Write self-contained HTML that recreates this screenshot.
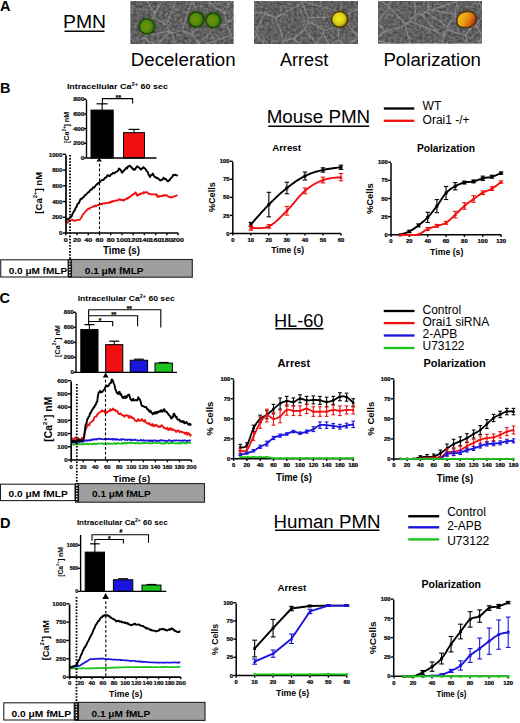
<!DOCTYPE html>
<html><head><meta charset="utf-8"><style>
html,body{margin:0;padding:0;background:#fff;}
svg{display:block;}
text{font-family:"Liberation Sans",sans-serif;}
</style></head><body>
<svg width="520" height="723" viewBox="0 0 520 723">
<defs>
<filter id="noise" x="0" y="0" width="100%" height="100%" color-interpolation-filters="sRGB">
<feTurbulence type="fractalNoise" baseFrequency="0.35" numOctaves="2" seed="3" result="t"/>
<feColorMatrix type="saturate" values="0"/>
<feComponentTransfer><feFuncR type="linear" slope="1.4" intercept="-0.2"/><feFuncG type="linear" slope="1.4" intercept="-0.2"/><feFuncB type="linear" slope="1.4" intercept="-0.2"/><feFuncA type="linear" slope="0" intercept="1"/></feComponentTransfer>
</filter>
<radialGradient id="gG" cx="0.4" cy="0.5" r="0.7"><stop offset="0" stop-color="#74900e"/><stop offset="0.5" stop-color="#588e0c"/><stop offset="0.8" stop-color="#32780a"/><stop offset="1" stop-color="#1c5208"/></radialGradient>
<filter id="soft" x="-30%" y="-30%" width="160%" height="160%"><feGaussianBlur stdDeviation="0.6"/></filter>
<filter id="soft2" x="-50%" y="-50%" width="200%" height="200%"><feGaussianBlur stdDeviation="1.2"/></filter>
<radialGradient id="gY" cx="0.45" cy="0.45" r="0.6"><stop offset="0" stop-color="#f4ee20"/><stop offset="0.7" stop-color="#d6c810"/><stop offset="1" stop-color="#8a7a08"/></radialGradient>
<radialGradient id="gO" cx="0.42" cy="0.5" r="0.65"><stop offset="0" stop-color="#f6c020"/><stop offset="0.55" stop-color="#eca018"/><stop offset="0.85" stop-color="#d86010"/><stop offset="1" stop-color="#b02808"/></radialGradient>
<linearGradient id="gO2" x1="0" y1="0.3" x2="1" y2="0.7"><stop offset="0" stop-color="#e8b818"/><stop offset="0.35" stop-color="#f0a818"/><stop offset="0.7" stop-color="#e07012"/><stop offset="1" stop-color="#b82a0a"/></linearGradient>
</defs>
<rect width="520" height="723" fill="#fff"/>
<text x="0.1" y="10.8" font-size="14.5" font-weight="bold" text-anchor="start" fill="#000" >A</text>
<text x="63" y="28" font-size="18" text-anchor="start" fill="#000" textLength="43" lengthAdjust="spacingAndGlyphs" >PMN</text>
<line x1="64.5" y1="31.2" x2="104.5" y2="31.2" stroke="#000" stroke-width="1.4" />
<rect x="130.5" y="1" width="103" height="43" fill="#505050"/>
<rect x="130.5" y="1" width="103" height="43" filter="url(#noise)" opacity="0.35"/>
<g clip-path="url(#clip130)"><path d="M154.46,12.82L144.78,-2.22M154.46,12.82L162.39,1.24M162.39,1.24L156.43,-1.72M144.78,-2.22L156.43,-1.72M144.71,-2.25L144.78,-2.22M144.71,-2.25L156.63,-15.27M156.63,-15.27L156.43,-1.72M153.53,17.84L142.63,20.8M153.53,17.84L166.5,24.66M166.5,24.66L169.63,31.08M169.63,31.08L145.28,35.46M142.63,20.8L145.28,35.46M154.46,12.82L153.53,17.84M176.41,-1.25L166.5,24.66M176.41,-1.25L162.39,1.24M71.14,-12.35L76.99,-10.5M140.13,40.56L144.63,37.51M144.63,37.51L145.28,35.46M235.02,-3.01L229.46,4.08M229.46,4.08L193.43,-38.8M248.3,11.33L235.02,-3.01M199.13,51.29L199.35,46.34M199.13,51.29L175.15,50.5M182.15,30.54L172.69,32.98M182.15,30.54L192.39,33.97M192.39,33.97L198.74,43.65M175.15,50.5L172.69,32.98M199.35,46.34L198.74,43.65M199.35,46.34L231.72,35.22M202.54,22.31L217.96,25.31M202.54,22.31L191.78,0.11M191.78,0.11L190.71,-12.11M224.68,14.17L190.97,-12.69M224.68,14.17L226.78,22.63M190.71,-12.11L190.97,-12.69M217.96,25.31L226.51,24.21M226.78,22.63L226.51,24.21M192.39,33.97L202.54,22.31M198.74,43.65L217.96,25.31M182.15,30.54L191.78,0.11M176.41,-1.25L190.71,-12.11M169.63,31.08L170.28,31.8M170.28,31.8L172.69,32.98M229.46,4.08L224.68,14.17M193.43,-38.8L190.97,-12.69M248.3,11.33L226.78,22.63M231.72,35.22L226.51,24.21M148.32,41.04L153.33,100.72M148.32,41.04L157.62,44.41M157.62,44.41L157.12,88.5M153.33,100.72L157.12,88.5M144.63,37.51L148.32,41.04M170.28,31.8L157.62,44.41M175.15,50.5L157.12,88.5" fill="none" stroke="#b8b8b8" stroke-opacity="0.42" stroke-width="1.2" stroke-linejoin="round" filter="url(#soft)"/></g>
<clipPath id="clip130"><rect x="130.5" y="1" width="103" height="43"/></clipPath>
<rect x="254" y="1" width="104" height="43" fill="#505050"/>
<rect x="254" y="1" width="104" height="43" filter="url(#noise)" opacity="0.35"/>
<g clip-path="url(#clip254)"><path d="M230.21,11.49L264.59,13.12M338.87,39.79L330.05,45.41M338.87,39.79L346.25,46.13M356.1,99.42L346.25,46.13M319.27,58.21L330.05,45.41M319.27,58.21L317.76,63.64M359.03,37.35L365.63,23.99M359.03,37.35L359.03,37.36M359.03,37.36L365.56,41.67M365.63,23.99L367.9,25.03M367.9,25.03L371.5,39.9M371.5,39.9L365.56,41.67M356.1,99.42L365.56,41.67M346.25,46.13L359.03,37.36M357.37,9.3L365.63,23.99M317.76,63.64L293.99,38.53M274.64,54.84L284.16,40.25M293.99,38.53L284.16,40.25M340.85,11.99L303.17,1.48M264.59,13.12L264.92,13.59M264.92,13.59L275.66,17.6M302.75,3.04L275.66,17.6M302.75,3.04L303.17,1.48M357.37,9.3L343.53,15.39M343.53,15.39L340.85,11.99M338.87,39.79L338.26,26.79M359.03,37.35L342.68,18.96M338.26,26.79L342.68,18.96M343.53,15.39L343.06,16.45M342.68,18.96L343.06,16.45M302.75,3.04L308.17,17.94M343.06,16.45L308.17,17.94M256.74,34.51L255.23,31.71M256.74,34.51L248.64,48.32M254.78,31.77L255.23,31.71M264.92,13.59L255.23,31.71M269.56,50.9L256.74,34.51M269.56,50.9L274.64,54.84M275.66,17.6L284.16,40.25M269.56,50.9L248.64,48.32M230.21,11.49L254.78,31.77M323.24,33.61L316.32,42.99M323.24,33.61L323.92,30.26M323.92,30.26L308.34,21.3M316.32,42.99L304.78,29.41M304.78,29.41L308.34,21.3M319.27,58.21L316.32,42.99M330.05,45.41L323.24,33.61M338.26,26.79L323.92,30.26M308.17,17.94L308.34,21.3M293.99,38.53L304.78,29.41" fill="none" stroke="#b8b8b8" stroke-opacity="0.42" stroke-width="1.2" stroke-linejoin="round" filter="url(#soft)"/></g>
<clipPath id="clip254"><rect x="254" y="1" width="104" height="43"/></clipPath>
<rect x="378" y="1" width="104" height="42.5" fill="#505050"/>
<rect x="378" y="1" width="104" height="42.5" filter="url(#noise)" opacity="0.35"/>
<g clip-path="url(#clip378)"><path d="M475.02,48.69L482.27,36.09M475.02,48.69L467.41,46.99M422.15,83.12L438.5,58.98M467.41,46.99L438.5,58.98M482.27,36.09L475.87,25.17M475.87,25.17L484.03,14.61M375.89,0.97L370.88,20.3M410.81,46.92L405.45,25.36M410.81,46.92L375.1,40.44M405.45,25.36L384.45,31.38M375.1,40.44L384.45,31.38M422.15,83.12L410.81,46.92M405.77,23.97L405.45,25.36M405.77,23.97L389.9,7.72M376.48,21.5L389.9,7.72M376.48,21.5L384.45,31.38M370.88,20.3L376.48,21.5M395.43,-50.11L399.99,-8.76M395.43,-50.11L380.19,1.08M399.99,-8.76L388.59,5.44M380.19,1.08L388.59,5.44M375.89,0.97L380.19,1.08M389.9,7.72L388.59,5.44M426.33,-19.98L428.67,10.19M469.18,-60.18L475.28,-114.98M429.07,9.9L428.67,10.19M414.42,-1.64L426.33,-19.98M414.42,-1.64L399.99,-8.76M468.03,-30.38L484.03,14.61M468.03,-30.38L469.18,-60.18M467.41,46.99L465.83,35.51M475.87,25.17L472.59,25.55M465.83,35.51L472.59,25.55M456.88,1.78L455.02,14.41M456.88,1.78L430.14,9.74M430.14,9.74L455.02,14.41M468.03,-30.38L456.88,1.78M472.59,25.55L454.93,16.16M454.93,16.16L455.02,14.41M429.07,9.9L430.14,9.74M465.83,35.51L446.64,30.06M454.93,16.16L447.26,26.41M447.26,26.41L446.64,30.06M428.67,10.19L426.56,12.29M447.26,26.41L426.56,12.29M438.5,58.98L443.65,35.88M443.65,35.88L446.64,30.06M415.63,14.48L421.28,13.58M415.63,14.48L409.55,20.93M421.28,13.58L436.8,31.9M409.55,20.93L436.8,31.9M414.42,-1.64L415.63,14.48M426.56,12.29L421.28,13.58M405.77,23.97L409.55,20.93M443.65,35.88L436.8,31.9" fill="none" stroke="#b8b8b8" stroke-opacity="0.42" stroke-width="1.2" stroke-linejoin="round" filter="url(#soft)"/></g>
<clipPath id="clip378"><rect x="378" y="1" width="104" height="42.5"/></clipPath>
<circle cx="147" cy="26.4" r="9.2" fill="#1a4206" opacity="0.5" filter="url(#soft2)"/>
<g filter="url(#soft)"><circle cx="147" cy="26.4" r="8.1" fill="#1a4206" opacity="0.9"/>
<circle cx="147" cy="26.4" r="6.8" fill="url(#gG)"/></g>
<circle cx="196.3" cy="19.5" r="9.2" fill="#1a4206" opacity="0.5" filter="url(#soft2)"/>
<g filter="url(#soft)"><circle cx="196.3" cy="19.5" r="8.1" fill="#1a4206" opacity="0.9"/>
<circle cx="196.3" cy="19.5" r="6.8" fill="url(#gG)"/></g>
<circle cx="213.4" cy="20.3" r="9.0" fill="#1a4206" opacity="0.5" filter="url(#soft2)"/>
<g filter="url(#soft)"><circle cx="213.4" cy="20.3" r="7.8999999999999995" fill="#1a4206" opacity="0.9"/>
<circle cx="213.4" cy="20.3" r="6.6" fill="url(#gG)"/></g>
<circle cx="339.6" cy="19.4" r="9.6" fill="#4a3a10" opacity="0.5" filter="url(#soft2)"/>
<g filter="url(#soft)"><circle cx="339.6" cy="19.4" r="8.5" fill="#4a3a10" opacity="0.9"/>
<circle cx="339.6" cy="19.4" r="7.2" fill="url(#gY)"/></g>
<g filter="url(#soft)"><path d="M456,22.5 C455,14.5 461.5,10 468,10.5 C475,11 478,15 477,20.5 C476,26 470.5,29 464,28.5 C458.5,28 456.5,26 456,22.5 Z" fill="#4a2a10" opacity="0.85"/>
<path d="M457.6,22.2 C456.8,15.5 462,12 467.8,12.3 C473.5,12.6 476,15.5 475.2,20.3 C474.4,25 469.8,27.2 464.3,26.8 C459.8,26.4 458,24.8 457.6,22.2 Z" fill="url(#gO2)"/></g>
<text x="130.8" y="65.6" font-size="18" text-anchor="start" fill="#000" textLength="104.8" lengthAdjust="spacingAndGlyphs" >Deceleration</text>
<text x="279.9" y="65.6" font-size="18" text-anchor="start" fill="#000" textLength="48.4" lengthAdjust="spacingAndGlyphs" >Arrest</text>
<text x="383.4" y="65.6" font-size="18" text-anchor="start" fill="#000" textLength="97.6" lengthAdjust="spacingAndGlyphs" >Polarization</text>
<text x="0" y="92.6" font-size="14.5" font-weight="bold" text-anchor="start" fill="#000" >B</text>
<text x="66.9" y="89.3" font-size="7.3" font-weight="bold" textLength="101.1" lengthAdjust="spacingAndGlyphs">Intracellular Ca<tspan font-size="4.75" dy="-3.29">2+</tspan><tspan dy="3.29"> 60 sec</tspan></text>
<line x1="102.1" y1="110.08" x2="102.1" y2="103.8" stroke="#000" stroke-width="1.1" />
<line x1="96.6" y1="103.8" x2="107.6" y2="103.8" stroke="#000" stroke-width="1.2" />
<rect x="91" y="110.08" width="22.2" height="47.92" fill="#000" stroke="#000" stroke-width="1"/>
<line x1="134" y1="132.68" x2="134" y2="129.4" stroke="#000" stroke-width="1.1" />
<line x1="128.5" y1="129.4" x2="139.5" y2="129.4" stroke="#000" stroke-width="1.2" />
<rect x="123.5" y="132.68" width="21" height="25.32" fill="#f01010" stroke="#000" stroke-width="1"/>
<line x1="86.5" y1="100" x2="86.5" y2="158" stroke="#000" stroke-width="1.4" />
<line x1="84.1" y1="158" x2="86.5" y2="158" stroke="#000" stroke-width="1.4" />
<text x="84.5" y="160.02" font-size="5.6" font-weight="bold" text-anchor="end" fill="#111" textLength="3.75" lengthAdjust="spacingAndGlyphs"  stroke="#000" stroke-width="0.22">0</text>
<line x1="84.1" y1="143.32" x2="86.5" y2="143.32" stroke="#000" stroke-width="1.4" />
<text x="84.5" y="145.34" font-size="5.6" font-weight="bold" text-anchor="end" fill="#111" textLength="11.25" lengthAdjust="spacingAndGlyphs"  stroke="#000" stroke-width="0.22">200</text>
<line x1="84.1" y1="128.65" x2="86.5" y2="128.65" stroke="#000" stroke-width="1.4" />
<text x="84.5" y="130.66" font-size="5.6" font-weight="bold" text-anchor="end" fill="#111" textLength="11.25" lengthAdjust="spacingAndGlyphs"  stroke="#000" stroke-width="0.22">400</text>
<line x1="84.1" y1="113.97" x2="86.5" y2="113.97" stroke="#000" stroke-width="1.4" />
<text x="84.5" y="115.99" font-size="5.6" font-weight="bold" text-anchor="end" fill="#111" textLength="11.25" lengthAdjust="spacingAndGlyphs"  stroke="#000" stroke-width="0.22">600</text>
<line x1="84.1" y1="99.3" x2="86.5" y2="99.3" stroke="#000" stroke-width="1.4" />
<text x="84.5" y="101.31" font-size="5.6" font-weight="bold" text-anchor="end" fill="#111" textLength="11.25" lengthAdjust="spacingAndGlyphs"  stroke="#000" stroke-width="0.22">800</text>
<line x1="86.5" y1="158" x2="156.5" y2="158" stroke="#000" stroke-width="1.4" />
<polyline points="102.4,104.5 102.4,98.65 132.6,98.65 132.6,103.4" fill="none" stroke="#000" stroke-width="1.1"/>
<text x="118.4" y="99.6" font-size="6.5" font-weight="bold" text-anchor="middle" fill="#000"  stroke="#000" stroke-width="0.22">**</text>
<g transform="translate(66.6,127.45) rotate(-90)">
<text x="0" y="2.63" font-size="7.3" font-weight="bold" text-anchor="middle" textLength="31.3" lengthAdjust="spacingAndGlyphs">[Ca<tspan font-size="4.53" dy="-3.65">2+</tspan><tspan dy="3.65">] nM</tspan></text>
</g>
<path d="M99.2,158 L102.1,161.5 L96.3,161.5 Z" fill="#000"/>
<polyline points="65.8,220.14 66.47,218.98 67.15,218.95 67.82,219.51 68.5,219.02 69.17,218.5 69.84,217.53 70.52,216.66 71.19,216.96 71.86,215.96 72.54,213.51 73.21,212.78 73.89,211.02 74.56,210.82 75.23,208.98 75.91,207.38 76.58,206.86 77.25,204.64 77.93,203.49 78.6,203.51 79.28,202.31 79.95,200.37 80.62,198.95 81.3,199.07 81.97,198.62 82.64,197.66 83.32,197.54 83.99,196.59 84.67,195.61 85.34,194.85 86.01,194.55 86.69,193.87 87.36,193.26 88.04,192.35 88.71,192.02 89.38,191.84 90.06,190.11 90.73,189.94 91.4,189.25 92.08,189.33 92.75,187.62 93.43,187.24 94.1,187.71 94.77,186.81 95.45,185.65 96.12,185.06 96.79,184.14 97.47,184.26 98.14,183.08 98.82,182.7 99.49,182.61 100.16,181.67 100.84,180.76 101.51,180.31 102.19,180.3 102.86,179.69 103.53,179.98 104.21,179.19 104.88,177.8 105.55,177.72 106.23,177.43 106.9,176.18 107.58,175.25 108.25,175.2 108.92,175.99 109.6,176.27 110.27,175.52 110.94,174.5 111.62,174.22 112.29,173.76 112.97,172.98 113.64,172.99 114.31,173.34 114.99,172.78 115.66,172.04 116.34,171.89 117.01,171.47 117.68,171.08 118.36,169.91 119.03,168.53 119.7,168.78 120.38,169.95 121.05,170.5 121.73,172.41 122.4,172.7 123.07,171.15 123.75,170.76 124.42,170 125.09,169.34 125.77,168.45 126.44,167.45 127.12,168.38 127.79,166.87 128.46,166.4 129.14,165.89 129.81,165.69 130.48,166.18 131.16,167.17 131.83,167.7 132.51,168.48 133.18,169.59 133.85,169.03 134.53,169.78 135.2,169.36 135.88,167.99 136.55,167.07 137.22,166.31 137.9,166.84 138.57,167.23 139.24,167.76 139.92,168.43 140.59,169.31 141.27,169.58 141.94,168.62 142.61,168.03 143.29,167.23 143.96,167.51 144.63,168.27 145.31,168.94 145.98,169.58 146.66,171.12 147.33,171.4 148,172.75 148.68,174.7 149.35,175.91 150.02,177.02 150.7,175.31 151.37,175.36 152.05,174.89 152.72,173.49 153.39,174.6 154.07,176.16 154.74,176.95 155.42,176.84 156.09,177.76 156.76,178.02 157.44,177.81 158.11,178.58 158.78,179.18 159.46,179.42 160.13,180.59 160.81,180.43 161.48,179.88 162.15,179.71 162.83,179.33 163.5,177.71 164.17,178.3 164.85,179.14 165.52,178.99 166.2,179.11 166.87,180.65 167.54,181.07 168.22,181.31 168.89,180.23 169.57,180.27 170.24,178.75 170.91,178.04 171.59,177.48 172.26,177.19 172.93,175.37 173.61,174.87 174.28,174.6 174.96,175.22 175.63,174.82 176.3,175.39 176.98,175.34 177.65,175.9" fill="none" stroke="#000" stroke-width="1.9" stroke-linejoin="round" />
<polyline points="65.8,222.51 66.47,222.15 67.15,222.9 67.82,222.49 68.5,221.18 69.17,220.93 69.84,220.64 70.52,220.73 71.19,219.98 71.86,219.61 72.54,219.7 73.21,220.52 73.89,220.45 74.56,220.78 75.23,220.64 75.91,220.24 76.58,220 77.25,220.22 77.93,220.05 78.6,219.97 79.28,219.97 79.95,219.69 80.62,218.36 81.3,217.54 81.97,216.45 82.64,214.8 83.32,214.25 83.99,213.2 84.67,212.6 85.34,211.85 86.01,210.58 86.69,210.47 87.36,209.66 88.04,208.7 88.71,208.77 89.38,209.04 90.06,207.8 90.73,207.58 91.4,207.32 92.08,206.76 92.75,206.6 93.43,206.32 94.1,206.65 94.77,205.64 95.45,205.44 96.12,206.22 96.79,205.25 97.47,205.08 98.14,205.18 98.82,204.87 99.49,204.69 100.16,203.97 100.84,204.35 101.51,203.79 102.19,204.24 102.86,203.43 103.53,203.26 104.21,203.66 104.88,203.38 105.55,202.79 106.23,202.89 106.9,203.04 107.58,203.22 108.25,202.95 108.92,202.33 109.6,202.85 110.27,201.76 110.94,202.37 111.62,201.36 112.29,201.91 112.97,200.9 113.64,201.02 114.31,201.07 114.99,200.85 115.66,200.49 116.34,200.37 117.01,200.51 117.68,200.45 118.36,199.86 119.03,199.13 119.7,199.32 120.38,200.11 121.05,199.49 121.73,199.92 122.4,200.01 123.07,200.71 123.75,199.7 124.42,200.26 125.09,199.2 125.77,199.37 126.44,199.12 127.12,197.99 127.79,198.65 128.46,197.82 129.14,196.95 129.81,197.19 130.48,196.71 131.16,195.34 131.83,195.39 132.51,194.49 133.18,194.83 133.85,193.89 134.53,193.6 135.2,192.45 135.88,192.66 136.55,194.81 137.22,195.7 137.9,194.54 138.57,195.15 139.24,194.58 139.92,193.6 140.59,194.15 141.27,193.88 141.94,193.02 142.61,193.18 143.29,193.39 143.96,191.97 144.63,192.8 145.31,192.73 145.98,192.11 146.66,192.12 147.33,192.3 148,193.43 148.68,193.49 149.35,194.22 150.02,194.04 150.7,193.98 151.37,194.36 152.05,194.28 152.72,194.39 153.39,194.17 154.07,194.29 154.74,194.5 155.42,194.73 156.09,194.1 156.76,194.45 157.44,196.97 158.11,196.46 158.78,195.85 159.46,196.71 160.13,196.06 160.81,196.22 161.48,195.99 162.15,196.31 162.83,195.13 163.5,195.86 164.17,195.27 164.85,195.35 165.52,195.7 166.2,194.87 166.87,195.39 167.54,195.95 168.22,196.42 168.89,196.71 169.57,197.24 170.24,197.01 170.91,197.61 171.59,197.46 172.26,197.38 172.93,196.58 173.61,196.82 174.28,196.39 174.96,196.47 175.63,195.87 176.3,195.67 176.98,195.28 177.65,195.23" fill="none" stroke="#f01010" stroke-width="1.8" stroke-linejoin="round" />
<line x1="66" y1="155.15" x2="66" y2="233" stroke="#000" stroke-width="1.7" />
<line x1="62.8" y1="233" x2="66" y2="233" stroke="#000" stroke-width="1.4" />
<text x="62.5" y="235.23" font-size="6.2" font-weight="bold" text-anchor="end" fill="#111"  stroke="#000" stroke-width="0.22">0</text>
<line x1="62.8" y1="217.26" x2="66" y2="217.26" stroke="#000" stroke-width="1.4" />
<text x="62.5" y="219.49" font-size="6.2" font-weight="bold" text-anchor="end" fill="#111"  stroke="#000" stroke-width="0.22">200</text>
<line x1="62.8" y1="201.52" x2="66" y2="201.52" stroke="#000" stroke-width="1.4" />
<text x="62.5" y="203.75" font-size="6.2" font-weight="bold" text-anchor="end" fill="#111"  stroke="#000" stroke-width="0.22">400</text>
<line x1="62.8" y1="185.78" x2="66" y2="185.78" stroke="#000" stroke-width="1.4" />
<text x="62.5" y="188.01" font-size="6.2" font-weight="bold" text-anchor="end" fill="#111"  stroke="#000" stroke-width="0.22">600</text>
<line x1="62.8" y1="170.04" x2="66" y2="170.04" stroke="#000" stroke-width="1.4" />
<text x="62.5" y="172.27" font-size="6.2" font-weight="bold" text-anchor="end" fill="#111"  stroke="#000" stroke-width="0.22">800</text>
<line x1="62.8" y1="154.3" x2="66" y2="154.3" stroke="#000" stroke-width="1.4" />
<text x="62.5" y="156.53" font-size="6.2" font-weight="bold" text-anchor="end" fill="#111"  stroke="#000" stroke-width="0.22">1000</text>
<line x1="66" y1="233" x2="178.2" y2="233" stroke="#000" stroke-width="1.7" />
<line x1="65.8" y1="233" x2="65.8" y2="235.2" stroke="#000" stroke-width="1.4" />
<text x="65.8" y="241.5" font-size="6" font-weight="bold" text-anchor="middle" fill="#111" textLength="4" lengthAdjust="spacingAndGlyphs"  stroke="#000" stroke-width="0.22">0</text>
<line x1="77.03" y1="233" x2="77.03" y2="235.2" stroke="#000" stroke-width="1.4" />
<text x="77.03" y="241.5" font-size="6" font-weight="bold" text-anchor="middle" fill="#111" textLength="8" lengthAdjust="spacingAndGlyphs"  stroke="#000" stroke-width="0.22">20</text>
<line x1="88.26" y1="233" x2="88.26" y2="235.2" stroke="#000" stroke-width="1.4" />
<text x="88.26" y="241.5" font-size="6" font-weight="bold" text-anchor="middle" fill="#111" textLength="8" lengthAdjust="spacingAndGlyphs"  stroke="#000" stroke-width="0.22">40</text>
<line x1="99.49" y1="233" x2="99.49" y2="235.2" stroke="#000" stroke-width="1.4" />
<text x="99.49" y="241.5" font-size="6" font-weight="bold" text-anchor="middle" fill="#111" textLength="8" lengthAdjust="spacingAndGlyphs"  stroke="#000" stroke-width="0.22">60</text>
<line x1="110.72" y1="233" x2="110.72" y2="235.2" stroke="#000" stroke-width="1.4" />
<text x="110.72" y="241.5" font-size="6" font-weight="bold" text-anchor="middle" fill="#111" textLength="8" lengthAdjust="spacingAndGlyphs"  stroke="#000" stroke-width="0.22">80</text>
<line x1="121.95" y1="233" x2="121.95" y2="235.2" stroke="#000" stroke-width="1.4" />
<text x="121.95" y="241.5" font-size="6" font-weight="bold" text-anchor="middle" fill="#111" textLength="12" lengthAdjust="spacingAndGlyphs"  stroke="#000" stroke-width="0.22">100</text>
<line x1="133.18" y1="233" x2="133.18" y2="235.2" stroke="#000" stroke-width="1.4" />
<text x="133.18" y="241.5" font-size="6" font-weight="bold" text-anchor="middle" fill="#111" textLength="12" lengthAdjust="spacingAndGlyphs"  stroke="#000" stroke-width="0.22">120</text>
<line x1="144.41" y1="233" x2="144.41" y2="235.2" stroke="#000" stroke-width="1.4" />
<text x="144.41" y="241.5" font-size="6" font-weight="bold" text-anchor="middle" fill="#111" textLength="12" lengthAdjust="spacingAndGlyphs"  stroke="#000" stroke-width="0.22">140</text>
<line x1="155.64" y1="233" x2="155.64" y2="235.2" stroke="#000" stroke-width="1.4" />
<text x="155.64" y="241.5" font-size="6" font-weight="bold" text-anchor="middle" fill="#111" textLength="12" lengthAdjust="spacingAndGlyphs"  stroke="#000" stroke-width="0.22">160</text>
<line x1="166.87" y1="233" x2="166.87" y2="235.2" stroke="#000" stroke-width="1.4" />
<text x="166.87" y="241.5" font-size="6" font-weight="bold" text-anchor="middle" fill="#111" textLength="12" lengthAdjust="spacingAndGlyphs"  stroke="#000" stroke-width="0.22">180</text>
<line x1="178.1" y1="233" x2="178.1" y2="235.2" stroke="#000" stroke-width="1.4" />
<text x="178.1" y="241.5" font-size="6" font-weight="bold" text-anchor="middle" fill="#111" textLength="12" lengthAdjust="spacingAndGlyphs"  stroke="#000" stroke-width="0.22">200</text>
<line x1="99.5" y1="163.8" x2="99.5" y2="233" stroke="#000" stroke-width="1.1" stroke-dasharray="2.8 2"/>
<text x="103" y="254" font-size="10" font-weight="bold" text-anchor="start" fill="#000" textLength="37" lengthAdjust="spacingAndGlyphs" >Time (s)</text>
<g transform="translate(38.8,192.75) rotate(-90)">
<text x="0" y="3.53" font-size="9.8" font-weight="bold" text-anchor="middle" textLength="41.9" lengthAdjust="spacingAndGlyphs">[Ca<tspan font-size="6.08" dy="-4.9">2+</tspan><tspan dy="4.9">] nM</tspan></text>
</g>
<line x1="70" y1="155" x2="70" y2="259" stroke="#000" stroke-width="1.8" stroke-dasharray="1.6 1.5"/>
<rect x="0.7" y="259.8" width="67.4" height="17.2" fill="#fff" stroke="#222" stroke-width="1.1"/>
<rect x="71.5" y="259.5" width="120.8" height="17.7" fill="#9f9f9f" stroke="#222" stroke-width="1.1"/>
<rect x="68.1" y="259" width="3.4" height="18.7" fill="#111"/>
<line x1="69.8" y1="260.5" x2="69.8" y2="276.7" stroke="#fff" stroke-width="1.5" stroke-dasharray="1.3 1.5"/>
<text x="8.7" y="273.6" font-size="9.3" font-weight="bold" text-anchor="start" fill="#000" textLength="58.4" lengthAdjust="spacingAndGlyphs" >0.0 &#956;M fMLP</text>
<text x="84.8" y="273.6" font-size="9.3" font-weight="bold" text-anchor="start" fill="#000" textLength="58.7" lengthAdjust="spacingAndGlyphs" >0.1 &#956;M fMLP</text>
<text x="266.7" y="122.5" font-size="18" text-anchor="start" fill="#000" textLength="103.5" lengthAdjust="spacingAndGlyphs" >Mouse PMN</text>
<line x1="268.25" y1="126.2" x2="369.25" y2="126.2" stroke="#000" stroke-width="1.4" />
<line x1="383.8" y1="108.5" x2="414.3" y2="108.5" stroke="#000" stroke-width="2.3" />
<line x1="383.8" y1="120.8" x2="414.3" y2="120.8" stroke="#f01010" stroke-width="2.3" />
<text x="422.6" y="110.2" font-size="12" text-anchor="start" fill="#000" >WT</text>
<text x="422.6" y="124" font-size="12" text-anchor="start" fill="#000" textLength="47" lengthAdjust="spacingAndGlyphs" >Orai1 -/+</text>
<text x="272.3" y="151" font-size="9.8" font-weight="bold" text-anchor="start" fill="#000" textLength="28.7" lengthAdjust="spacingAndGlyphs" >Arrest</text>
<line x1="232.8" y1="162.05" x2="232.8" y2="233.4" stroke="#000" stroke-width="1.5" />
<line x1="229.9" y1="233.4" x2="232.8" y2="233.4" stroke="#000" stroke-width="1.4" />
<text x="229.6" y="235.52" font-size="5.9" font-weight="bold" text-anchor="end" fill="#000"  stroke="#000" stroke-width="0.22">0</text>
<line x1="229.9" y1="215.38" x2="232.8" y2="215.38" stroke="#000" stroke-width="1.4" />
<text x="229.6" y="217.5" font-size="5.9" font-weight="bold" text-anchor="end" fill="#000"  stroke="#000" stroke-width="0.22">25</text>
<line x1="229.9" y1="197.35" x2="232.8" y2="197.35" stroke="#000" stroke-width="1.4" />
<text x="229.6" y="199.47" font-size="5.9" font-weight="bold" text-anchor="end" fill="#000"  stroke="#000" stroke-width="0.22">50</text>
<line x1="229.9" y1="179.33" x2="232.8" y2="179.33" stroke="#000" stroke-width="1.4" />
<text x="229.6" y="181.45" font-size="5.9" font-weight="bold" text-anchor="end" fill="#000"  stroke="#000" stroke-width="0.22">75</text>
<line x1="229.9" y1="161.3" x2="232.8" y2="161.3" stroke="#000" stroke-width="1.4" />
<text x="229.6" y="163.42" font-size="5.9" font-weight="bold" text-anchor="end" fill="#000"  stroke="#000" stroke-width="0.22">100</text>
<line x1="232.8" y1="233.4" x2="341" y2="233.4" stroke="#000" stroke-width="1.5" />
<line x1="232.8" y1="233.4" x2="232.8" y2="235.6" stroke="#000" stroke-width="1.4" />
<text x="232.8" y="241.6" font-size="5.9" font-weight="bold" text-anchor="middle" fill="#000"  stroke="#000" stroke-width="0.22">0</text>
<line x1="250.83" y1="233.4" x2="250.83" y2="235.6" stroke="#000" stroke-width="1.4" />
<text x="250.83" y="241.6" font-size="5.9" font-weight="bold" text-anchor="middle" fill="#000"  stroke="#000" stroke-width="0.22">10</text>
<line x1="268.86" y1="233.4" x2="268.86" y2="235.6" stroke="#000" stroke-width="1.4" />
<text x="268.86" y="241.6" font-size="5.9" font-weight="bold" text-anchor="middle" fill="#000"  stroke="#000" stroke-width="0.22">20</text>
<line x1="286.89" y1="233.4" x2="286.89" y2="235.6" stroke="#000" stroke-width="1.4" />
<text x="286.89" y="241.6" font-size="5.9" font-weight="bold" text-anchor="middle" fill="#000"  stroke="#000" stroke-width="0.22">30</text>
<line x1="304.92" y1="233.4" x2="304.92" y2="235.6" stroke="#000" stroke-width="1.4" />
<text x="304.92" y="241.6" font-size="5.9" font-weight="bold" text-anchor="middle" fill="#000"  stroke="#000" stroke-width="0.22">40</text>
<line x1="322.95" y1="233.4" x2="322.95" y2="235.6" stroke="#000" stroke-width="1.4" />
<text x="322.95" y="241.6" font-size="5.9" font-weight="bold" text-anchor="middle" fill="#000"  stroke="#000" stroke-width="0.22">50</text>
<line x1="340.98" y1="233.4" x2="340.98" y2="235.6" stroke="#000" stroke-width="1.4" />
<text x="340.98" y="241.6" font-size="5.9" font-weight="bold" text-anchor="middle" fill="#000"  stroke="#000" stroke-width="0.22">60</text>
<polyline points="250.83,224.53 251.7,223.56 252.79,222.32 254.07,220.86 255.5,219.23 257.06,217.45 258.72,215.58 260.43,213.65 262.18,211.71 263.93,209.78 265.65,207.92 267.3,206.17 268.86,204.56 270.36,203.04 271.87,201.55 273.37,200.07 274.87,198.61 276.37,197.18 277.88,195.77 279.38,194.39 280.88,193.04 282.38,191.72 283.88,190.43 285.39,189.19 286.89,187.98 288.39,186.8 289.89,185.65 291.4,184.52 292.9,183.43 294.4,182.36 295.91,181.33 297.41,180.34 298.91,179.39 300.41,178.48 301.92,177.61 303.42,176.78 304.92,176.01 306.42,175.29 307.93,174.62 309.43,174 310.93,173.43 312.43,172.89 313.93,172.4 315.44,171.94 316.94,171.5 318.44,171.09 319.94,170.7 321.45,170.32 322.95,169.95 324.51,169.6 326.16,169.28 327.88,168.98 329.63,168.71 331.38,168.47 333.09,168.24 334.75,168.04 336.31,167.85 337.74,167.68 339.02,167.54 340.11,167.4 340.98,167.28" fill="none" stroke="#000" stroke-width="1.9" stroke-linejoin="round" />
<line x1="250.83" y1="226.69" x2="250.83" y2="222.37" stroke="#000" stroke-width="1.1" />
<line x1="248.63" y1="226.69" x2="253.03" y2="226.69" stroke="#000" stroke-width="1.1" />
<line x1="248.63" y1="222.37" x2="253.03" y2="222.37" stroke="#000" stroke-width="1.1" />
<rect x="249.33" y="223.03" width="3" height="3" fill="#000"/>
<line x1="268.86" y1="216.82" x2="268.86" y2="192.3" stroke="#000" stroke-width="1.1" />
<line x1="266.66" y1="216.82" x2="271.06" y2="216.82" stroke="#000" stroke-width="1.1" />
<line x1="266.66" y1="192.3" x2="271.06" y2="192.3" stroke="#000" stroke-width="1.1" />
<rect x="267.36" y="203.06" width="3" height="3" fill="#000"/>
<line x1="286.89" y1="193.75" x2="286.89" y2="182.21" stroke="#000" stroke-width="1.1" />
<line x1="284.69" y1="193.75" x2="289.09" y2="193.75" stroke="#000" stroke-width="1.1" />
<line x1="284.69" y1="182.21" x2="289.09" y2="182.21" stroke="#000" stroke-width="1.1" />
<rect x="285.39" y="186.48" width="3" height="3" fill="#000"/>
<line x1="304.92" y1="179.97" x2="304.92" y2="172.04" stroke="#000" stroke-width="1.1" />
<line x1="302.72" y1="179.97" x2="307.12" y2="179.97" stroke="#000" stroke-width="1.1" />
<line x1="302.72" y1="172.04" x2="307.12" y2="172.04" stroke="#000" stroke-width="1.1" />
<rect x="303.42" y="174.51" width="3" height="3" fill="#000"/>
<line x1="322.95" y1="172.12" x2="322.95" y2="167.79" stroke="#000" stroke-width="1.1" />
<line x1="320.75" y1="172.12" x2="325.15" y2="172.12" stroke="#000" stroke-width="1.1" />
<line x1="320.75" y1="167.79" x2="325.15" y2="167.79" stroke="#000" stroke-width="1.1" />
<rect x="321.45" y="168.45" width="3" height="3" fill="#000"/>
<line x1="340.98" y1="169.45" x2="340.98" y2="165.12" stroke="#000" stroke-width="1.1" />
<line x1="338.78" y1="169.45" x2="343.18" y2="169.45" stroke="#000" stroke-width="1.1" />
<line x1="338.78" y1="165.12" x2="343.18" y2="165.12" stroke="#000" stroke-width="1.1" />
<rect x="339.48" y="165.78" width="3" height="3" fill="#000"/>
<polyline points="250.83,227.99 251.7,227.96 252.79,227.98 254.07,228.04 255.5,228.1 257.06,228.16 258.72,228.18 260.43,228.14 262.18,228.04 263.93,227.83 265.65,227.5 267.3,227.04 268.86,226.41 270.36,225.61 271.87,224.66 273.37,223.58 274.87,222.39 276.37,221.1 277.88,219.73 279.38,218.29 280.88,216.81 282.38,215.3 283.88,213.78 285.39,212.26 286.89,210.76 288.39,209.22 289.89,207.59 291.4,205.87 292.9,204.11 294.4,202.31 295.91,200.51 297.41,198.72 298.91,196.98 300.41,195.3 301.92,193.7 303.42,192.21 304.92,190.86 306.42,189.62 307.93,188.44 309.43,187.33 310.93,186.29 312.43,185.31 313.93,184.39 315.44,183.53 316.94,182.73 318.44,181.98 319.94,181.28 321.45,180.64 322.95,180.05 324.51,179.52 326.16,179.07 327.88,178.7 329.63,178.39 331.38,178.14 333.09,177.93 334.75,177.76 336.31,177.62 337.74,177.49 339.02,177.38 340.11,177.28 340.98,177.16" fill="none" stroke="#f01010" stroke-width="1.9" stroke-linejoin="round" />
<line x1="250.83" y1="230.16" x2="250.83" y2="225.83" stroke="#f01010" stroke-width="1.1" />
<line x1="248.63" y1="230.16" x2="253.03" y2="230.16" stroke="#f01010" stroke-width="1.1" />
<line x1="248.63" y1="225.83" x2="253.03" y2="225.83" stroke="#f01010" stroke-width="1.1" />
<path d="M250.83,226.19 L252.63,229.49 L249.03,229.49 Z" fill="#f01010"/>
<line x1="268.86" y1="228.21" x2="268.86" y2="224.6" stroke="#f01010" stroke-width="1.1" />
<line x1="266.66" y1="228.21" x2="271.06" y2="228.21" stroke="#f01010" stroke-width="1.1" />
<line x1="266.66" y1="224.6" x2="271.06" y2="224.6" stroke="#f01010" stroke-width="1.1" />
<path d="M268.86,224.61 L270.66,227.91 L267.06,227.91 Z" fill="#f01010"/>
<line x1="286.89" y1="215.09" x2="286.89" y2="206.43" stroke="#f01010" stroke-width="1.1" />
<line x1="284.69" y1="215.09" x2="289.09" y2="215.09" stroke="#f01010" stroke-width="1.1" />
<line x1="284.69" y1="206.43" x2="289.09" y2="206.43" stroke="#f01010" stroke-width="1.1" />
<path d="M286.89,208.96 L288.69,212.26 L285.09,212.26 Z" fill="#f01010"/>
<line x1="304.92" y1="193.75" x2="304.92" y2="187.98" stroke="#f01010" stroke-width="1.1" />
<line x1="302.72" y1="193.75" x2="307.12" y2="193.75" stroke="#f01010" stroke-width="1.1" />
<line x1="302.72" y1="187.98" x2="307.12" y2="187.98" stroke="#f01010" stroke-width="1.1" />
<path d="M304.92,189.06 L306.72,192.36 L303.12,192.36 Z" fill="#f01010"/>
<line x1="322.95" y1="182.93" x2="322.95" y2="177.16" stroke="#f01010" stroke-width="1.1" />
<line x1="320.75" y1="182.93" x2="325.15" y2="182.93" stroke="#f01010" stroke-width="1.1" />
<line x1="320.75" y1="177.16" x2="325.15" y2="177.16" stroke="#f01010" stroke-width="1.1" />
<path d="M322.95,178.25 L324.75,181.55 L321.15,181.55 Z" fill="#f01010"/>
<line x1="340.98" y1="180.77" x2="340.98" y2="173.56" stroke="#f01010" stroke-width="1.1" />
<line x1="338.78" y1="180.77" x2="343.18" y2="180.77" stroke="#f01010" stroke-width="1.1" />
<line x1="338.78" y1="173.56" x2="343.18" y2="173.56" stroke="#f01010" stroke-width="1.1" />
<path d="M340.98,175.36 L342.78,178.66 L339.18,178.66 Z" fill="#f01010"/>
<g transform="translate(211.65,197.15) rotate(-90)">
<text x="0" y="3.24" font-size="9" font-weight="bold" text-anchor="middle" textLength="29.7" lengthAdjust="spacingAndGlyphs">%Cells</text>
</g>
<text x="271.2" y="253" font-size="9" font-weight="bold" text-anchor="start" fill="#000" textLength="33" lengthAdjust="spacingAndGlyphs" >Time (s)</text>
<text x="416.9" y="151.5" font-size="10" font-weight="bold" text-anchor="start" fill="#000" textLength="58" lengthAdjust="spacingAndGlyphs" >Polarization</text>
<line x1="391" y1="162.95" x2="391" y2="234.8" stroke="#000" stroke-width="1.5" />
<line x1="388.1" y1="234.8" x2="391" y2="234.8" stroke="#000" stroke-width="1.4" />
<text x="387.8" y="236.92" font-size="5.9" font-weight="bold" text-anchor="end" fill="#000"  stroke="#000" stroke-width="0.22">0</text>
<line x1="388.1" y1="216.65" x2="391" y2="216.65" stroke="#000" stroke-width="1.4" />
<text x="387.8" y="218.77" font-size="5.9" font-weight="bold" text-anchor="end" fill="#000"  stroke="#000" stroke-width="0.22">25</text>
<line x1="388.1" y1="198.5" x2="391" y2="198.5" stroke="#000" stroke-width="1.4" />
<text x="387.8" y="200.62" font-size="5.9" font-weight="bold" text-anchor="end" fill="#000"  stroke="#000" stroke-width="0.22">50</text>
<line x1="388.1" y1="180.35" x2="391" y2="180.35" stroke="#000" stroke-width="1.4" />
<text x="387.8" y="182.47" font-size="5.9" font-weight="bold" text-anchor="end" fill="#000"  stroke="#000" stroke-width="0.22">75</text>
<line x1="388.1" y1="162.2" x2="391" y2="162.2" stroke="#000" stroke-width="1.4" />
<text x="387.8" y="164.32" font-size="5.9" font-weight="bold" text-anchor="end" fill="#000"  stroke="#000" stroke-width="0.22">100</text>
<line x1="391" y1="234.8" x2="501.1" y2="234.8" stroke="#000" stroke-width="1.5" />
<line x1="391" y1="234.8" x2="391" y2="237" stroke="#000" stroke-width="1.4" />
<text x="391" y="243" font-size="5.9" font-weight="bold" text-anchor="middle" fill="#000"  stroke="#000" stroke-width="0.22">0</text>
<line x1="409.35" y1="234.8" x2="409.35" y2="237" stroke="#000" stroke-width="1.4" />
<text x="409.35" y="243" font-size="5.9" font-weight="bold" text-anchor="middle" fill="#000"  stroke="#000" stroke-width="0.22">20</text>
<line x1="427.7" y1="234.8" x2="427.7" y2="237" stroke="#000" stroke-width="1.4" />
<text x="427.7" y="243" font-size="5.9" font-weight="bold" text-anchor="middle" fill="#000"  stroke="#000" stroke-width="0.22">40</text>
<line x1="446.05" y1="234.8" x2="446.05" y2="237" stroke="#000" stroke-width="1.4" />
<text x="446.05" y="243" font-size="5.9" font-weight="bold" text-anchor="middle" fill="#000"  stroke="#000" stroke-width="0.22">60</text>
<line x1="464.4" y1="234.8" x2="464.4" y2="237" stroke="#000" stroke-width="1.4" />
<text x="464.4" y="243" font-size="5.9" font-weight="bold" text-anchor="middle" fill="#000"  stroke="#000" stroke-width="0.22">80</text>
<line x1="482.75" y1="234.8" x2="482.75" y2="237" stroke="#000" stroke-width="1.4" />
<text x="482.75" y="243" font-size="5.9" font-weight="bold" text-anchor="middle" fill="#000"  stroke="#000" stroke-width="0.22">100</text>
<line x1="501.1" y1="234.8" x2="501.1" y2="237" stroke="#000" stroke-width="1.4" />
<text x="501.1" y="243" font-size="5.9" font-weight="bold" text-anchor="middle" fill="#000"  stroke="#000" stroke-width="0.22">120</text>
<polyline points="400.18,234.8 400.62,234.64 401.17,234.46 401.82,234.25 402.55,234.01 403.35,233.75 404.19,233.47 405.06,233.17 405.95,232.85 406.84,232.5 407.71,232.15 408.56,231.77 409.35,231.39 410.11,230.98 410.88,230.56 411.64,230.11 412.41,229.65 413.17,229.16 413.94,228.66 414.7,228.14 415.47,227.61 416.23,227.07 417,226.51 417.76,225.94 418.52,225.36 419.29,224.78 420.05,224.18 420.82,223.58 421.58,222.97 422.35,222.34 423.11,221.7 423.88,221.03 424.64,220.35 425.41,219.65 426.17,218.92 426.94,218.16 427.7,217.38 428.46,216.56 429.23,215.71 429.99,214.84 430.76,213.94 431.52,213.01 432.29,212.07 433.05,211.11 433.82,210.13 434.58,209.15 435.35,208.15 436.11,207.14 436.88,206.12 437.64,205.07 438.4,203.97 439.17,202.82 439.93,201.65 440.7,200.46 441.46,199.27 442.23,198.1 442.99,196.96 443.76,195.86 444.52,194.82 445.29,193.86 446.05,192.98 446.81,192.19 447.58,191.45 448.34,190.77 449.11,190.15 449.87,189.56 450.64,189.02 451.4,188.5 452.17,188.02 452.93,187.55 453.7,187.11 454.46,186.67 455.23,186.23 455.99,185.81 456.75,185.41 457.52,185.03 458.28,184.67 459.05,184.34 459.81,184.03 460.58,183.73 461.34,183.46 462.11,183.2 462.87,182.96 463.64,182.74 464.4,182.53 465.16,182.35 465.93,182.22 466.69,182.12 467.46,182.05 468.22,181.99 468.99,181.95 469.75,181.9 470.52,181.86 471.28,181.79 472.05,181.71 472.81,181.59 473.57,181.44 474.34,181.25 475.1,181.02 475.87,180.77 476.63,180.49 477.4,180.21 478.16,179.91 478.93,179.61 479.69,179.32 480.46,179.04 481.22,178.77 481.99,178.53 482.75,178.32 483.51,178.14 484.28,177.99 485.04,177.86 485.81,177.75 486.57,177.65 487.34,177.55 488.1,177.45 488.87,177.35 489.63,177.23 490.4,177.09 491.16,176.92 491.93,176.72 492.72,176.48 493.56,176.19 494.43,175.87 495.32,175.53 496.21,175.17 497.09,174.81 497.93,174.45 498.72,174.11 499.45,173.79 500.1,173.51 500.66,173.27 501.1,173.09" fill="none" stroke="#000" stroke-width="1.9" stroke-linejoin="round" />
<rect x="398.68" y="233.3" width="3" height="3" fill="#000"/>
<line x1="409.35" y1="232.48" x2="409.35" y2="230.3" stroke="#000" stroke-width="1.1" />
<line x1="407.15" y1="232.48" x2="411.55" y2="232.48" stroke="#000" stroke-width="1.1" />
<line x1="407.15" y1="230.3" x2="411.55" y2="230.3" stroke="#000" stroke-width="1.1" />
<rect x="407.85" y="229.89" width="3" height="3" fill="#000"/>
<line x1="418.52" y1="226.81" x2="418.52" y2="223.91" stroke="#000" stroke-width="1.1" />
<line x1="416.32" y1="226.81" x2="420.72" y2="226.81" stroke="#000" stroke-width="1.1" />
<line x1="416.32" y1="223.91" x2="420.72" y2="223.91" stroke="#000" stroke-width="1.1" />
<rect x="417.02" y="223.86" width="3" height="3" fill="#000"/>
<line x1="427.7" y1="222.46" x2="427.7" y2="212.29" stroke="#000" stroke-width="1.1" />
<line x1="425.5" y1="222.46" x2="429.9" y2="222.46" stroke="#000" stroke-width="1.1" />
<line x1="425.5" y1="212.29" x2="429.9" y2="212.29" stroke="#000" stroke-width="1.1" />
<rect x="426.2" y="215.88" width="3" height="3" fill="#000"/>
<line x1="436.88" y1="212.66" x2="436.88" y2="199.59" stroke="#000" stroke-width="1.1" />
<line x1="434.68" y1="212.66" x2="439.07" y2="212.66" stroke="#000" stroke-width="1.1" />
<line x1="434.68" y1="199.59" x2="439.07" y2="199.59" stroke="#000" stroke-width="1.1" />
<rect x="435.38" y="204.62" width="3" height="3" fill="#000"/>
<line x1="446.05" y1="199.52" x2="446.05" y2="186.45" stroke="#000" stroke-width="1.1" />
<line x1="443.85" y1="199.52" x2="448.25" y2="199.52" stroke="#000" stroke-width="1.1" />
<line x1="443.85" y1="186.45" x2="448.25" y2="186.45" stroke="#000" stroke-width="1.1" />
<rect x="444.55" y="191.48" width="3" height="3" fill="#000"/>
<line x1="455.23" y1="189.86" x2="455.23" y2="182.6" stroke="#000" stroke-width="1.1" />
<line x1="453.03" y1="189.86" x2="457.43" y2="189.86" stroke="#000" stroke-width="1.1" />
<line x1="453.03" y1="182.6" x2="457.43" y2="182.6" stroke="#000" stroke-width="1.1" />
<rect x="453.73" y="184.73" width="3" height="3" fill="#000"/>
<line x1="464.4" y1="183.98" x2="464.4" y2="181.08" stroke="#000" stroke-width="1.1" />
<line x1="462.2" y1="183.98" x2="466.6" y2="183.98" stroke="#000" stroke-width="1.1" />
<line x1="462.2" y1="181.08" x2="466.6" y2="181.08" stroke="#000" stroke-width="1.1" />
<rect x="462.9" y="181.03" width="3" height="3" fill="#000"/>
<line x1="473.57" y1="182.89" x2="473.57" y2="179.99" stroke="#000" stroke-width="1.1" />
<line x1="471.38" y1="182.89" x2="475.77" y2="182.89" stroke="#000" stroke-width="1.1" />
<line x1="471.38" y1="179.99" x2="475.77" y2="179.99" stroke="#000" stroke-width="1.1" />
<rect x="472.07" y="179.94" width="3" height="3" fill="#000"/>
<line x1="482.75" y1="180.5" x2="482.75" y2="176.14" stroke="#000" stroke-width="1.1" />
<line x1="480.55" y1="180.5" x2="484.95" y2="180.5" stroke="#000" stroke-width="1.1" />
<line x1="480.55" y1="176.14" x2="484.95" y2="176.14" stroke="#000" stroke-width="1.1" />
<rect x="481.25" y="176.82" width="3" height="3" fill="#000"/>
<line x1="491.93" y1="178.17" x2="491.93" y2="175.27" stroke="#000" stroke-width="1.1" />
<line x1="489.73" y1="178.17" x2="494.12" y2="178.17" stroke="#000" stroke-width="1.1" />
<line x1="489.73" y1="175.27" x2="494.12" y2="175.27" stroke="#000" stroke-width="1.1" />
<rect x="490.43" y="175.22" width="3" height="3" fill="#000"/>
<line x1="501.1" y1="174.18" x2="501.1" y2="172" stroke="#000" stroke-width="1.1" />
<line x1="498.9" y1="174.18" x2="503.3" y2="174.18" stroke="#000" stroke-width="1.1" />
<line x1="498.9" y1="172" x2="503.3" y2="172" stroke="#000" stroke-width="1.1" />
<rect x="499.6" y="171.59" width="3" height="3" fill="#000"/>
<polyline points="400.18,234.8 400.62,234.8 401.17,234.81 401.82,234.81 402.55,234.82 403.35,234.82 404.19,234.83 405.06,234.83 405.95,234.83 406.84,234.83 407.71,234.83 408.56,234.82 409.35,234.8 410.11,234.79 410.88,234.81 411.64,234.84 412.41,234.87 413.17,234.9 413.94,234.92 414.7,234.92 415.47,234.89 416.23,234.83 417,234.73 417.76,234.57 418.52,234.36 419.29,234.08 420.05,233.73 420.82,233.32 421.58,232.86 422.35,232.36 423.11,231.85 423.88,231.32 424.64,230.8 425.41,230.29 426.17,229.81 426.94,229.38 427.7,228.99 428.46,228.65 429.23,228.34 429.99,228.05 430.76,227.78 431.52,227.53 432.29,227.29 433.05,227.05 433.82,226.82 434.58,226.59 435.35,226.36 436.11,226.12 436.88,225.87 437.64,225.63 438.4,225.42 439.17,225.22 439.93,225.04 440.7,224.86 441.46,224.66 442.23,224.45 442.99,224.22 443.76,223.94 444.52,223.63 445.29,223.26 446.05,222.82 446.81,222.32 447.58,221.76 448.34,221.14 449.11,220.48 449.87,219.79 450.64,219.07 451.4,218.33 452.17,217.57 452.93,216.82 453.7,216.07 454.46,215.33 455.23,214.62 455.99,213.91 456.75,213.18 457.52,212.45 458.28,211.71 459.05,210.96 459.81,210.22 460.58,209.48 461.34,208.75 462.11,208.03 462.87,207.33 463.64,206.64 464.4,205.98 465.16,205.34 465.93,204.71 466.69,204.1 467.46,203.51 468.22,202.92 468.99,202.35 469.75,201.78 470.52,201.22 471.28,200.67 472.05,200.11 472.81,199.56 473.57,199.01 474.34,198.45 475.1,197.89 475.87,197.33 476.63,196.77 477.4,196.22 478.16,195.67 478.93,195.13 479.69,194.61 480.46,194.1 481.22,193.61 481.99,193.14 482.75,192.69 483.51,192.28 484.28,191.91 485.04,191.58 485.81,191.26 486.57,190.97 487.34,190.68 488.1,190.39 488.87,190.09 489.63,189.77 490.4,189.43 491.16,189.05 491.93,188.63 492.72,188.14 493.56,187.6 494.43,187 495.32,186.37 496.21,185.72 497.09,185.07 497.93,184.43 498.72,183.83 499.45,183.27 500.1,182.77 500.66,182.35 501.1,182.02" fill="none" stroke="#f01010" stroke-width="1.9" stroke-linejoin="round" />
<path d="M400.18,233 L401.98,236.3 L398.38,236.3 Z" fill="#f01010"/>
<path d="M409.35,233 L411.15,236.3 L407.55,236.3 Z" fill="#f01010"/>
<path d="M418.52,232.56 L420.32,235.86 L416.72,235.86 Z" fill="#f01010"/>
<line x1="427.7" y1="230.44" x2="427.7" y2="227.54" stroke="#f01010" stroke-width="1.1" />
<line x1="425.5" y1="230.44" x2="429.9" y2="230.44" stroke="#f01010" stroke-width="1.1" />
<line x1="425.5" y1="227.54" x2="429.9" y2="227.54" stroke="#f01010" stroke-width="1.1" />
<path d="M427.7,227.19 L429.5,230.49 L425.9,230.49 Z" fill="#f01010"/>
<line x1="436.88" y1="227.32" x2="436.88" y2="224.42" stroke="#f01010" stroke-width="1.1" />
<line x1="434.68" y1="227.32" x2="439.07" y2="227.32" stroke="#f01010" stroke-width="1.1" />
<line x1="434.68" y1="224.42" x2="439.07" y2="224.42" stroke="#f01010" stroke-width="1.1" />
<path d="M436.88,224.07 L438.68,227.37 L435.07,227.37 Z" fill="#f01010"/>
<line x1="446.05" y1="224.27" x2="446.05" y2="221.37" stroke="#f01010" stroke-width="1.1" />
<line x1="443.85" y1="224.27" x2="448.25" y2="224.27" stroke="#f01010" stroke-width="1.1" />
<line x1="443.85" y1="221.37" x2="448.25" y2="221.37" stroke="#f01010" stroke-width="1.1" />
<path d="M446.05,221.02 L447.85,224.32 L444.25,224.32 Z" fill="#f01010"/>
<line x1="455.23" y1="217.88" x2="455.23" y2="211.35" stroke="#f01010" stroke-width="1.1" />
<line x1="453.03" y1="217.88" x2="457.43" y2="217.88" stroke="#f01010" stroke-width="1.1" />
<line x1="453.03" y1="211.35" x2="457.43" y2="211.35" stroke="#f01010" stroke-width="1.1" />
<path d="M455.23,212.82 L457.03,216.12 L453.43,216.12 Z" fill="#f01010"/>
<line x1="464.4" y1="209.24" x2="464.4" y2="202.71" stroke="#f01010" stroke-width="1.1" />
<line x1="462.2" y1="209.24" x2="466.6" y2="209.24" stroke="#f01010" stroke-width="1.1" />
<line x1="462.2" y1="202.71" x2="466.6" y2="202.71" stroke="#f01010" stroke-width="1.1" />
<path d="M464.4,204.18 L466.2,207.48 L462.6,207.48 Z" fill="#f01010"/>
<line x1="473.57" y1="202.28" x2="473.57" y2="195.74" stroke="#f01010" stroke-width="1.1" />
<line x1="471.38" y1="202.28" x2="475.77" y2="202.28" stroke="#f01010" stroke-width="1.1" />
<line x1="471.38" y1="195.74" x2="475.77" y2="195.74" stroke="#f01010" stroke-width="1.1" />
<path d="M473.57,197.21 L475.38,200.51 L471.77,200.51 Z" fill="#f01010"/>
<line x1="482.75" y1="194.51" x2="482.75" y2="190.88" stroke="#f01010" stroke-width="1.1" />
<line x1="480.55" y1="194.51" x2="484.95" y2="194.51" stroke="#f01010" stroke-width="1.1" />
<line x1="480.55" y1="190.88" x2="484.95" y2="190.88" stroke="#f01010" stroke-width="1.1" />
<path d="M482.75,190.89 L484.55,194.19 L480.95,194.19 Z" fill="#f01010"/>
<line x1="491.93" y1="190.44" x2="491.93" y2="186.81" stroke="#f01010" stroke-width="1.1" />
<line x1="489.73" y1="190.44" x2="494.12" y2="190.44" stroke="#f01010" stroke-width="1.1" />
<line x1="489.73" y1="186.81" x2="494.12" y2="186.81" stroke="#f01010" stroke-width="1.1" />
<path d="M491.93,186.83 L493.73,190.13 L490.12,190.13 Z" fill="#f01010"/>
<line x1="501.1" y1="183.11" x2="501.1" y2="180.93" stroke="#f01010" stroke-width="1.1" />
<line x1="498.9" y1="183.11" x2="503.3" y2="183.11" stroke="#f01010" stroke-width="1.1" />
<line x1="498.9" y1="180.93" x2="503.3" y2="180.93" stroke="#f01010" stroke-width="1.1" />
<path d="M501.1,180.22 L502.9,183.52 L499.3,183.52 Z" fill="#f01010"/>
<g transform="translate(369.65,198.7) rotate(-90)">
<text x="0" y="3.24" font-size="9" font-weight="bold" text-anchor="middle" textLength="30.8" lengthAdjust="spacingAndGlyphs">%Cells</text>
</g>
<text x="430.1" y="255.2" font-size="9" font-weight="bold" text-anchor="start" fill="#000" textLength="33.2" lengthAdjust="spacingAndGlyphs" >Time (s)</text>
<text x="-0.5" y="303.4" font-size="14.5" font-weight="bold" text-anchor="start" fill="#000" >C</text>
<text x="77.7" y="301.1" font-size="6.9" font-weight="bold" textLength="97" lengthAdjust="spacingAndGlyphs">Intracellular Ca<tspan font-size="4.49" dy="-3.11">2+</tspan><tspan dy="3.11"> 60 sec</tspan></text>
<line x1="89.4" y1="329.57" x2="89.4" y2="324.6" stroke="#000" stroke-width="1.1" />
<line x1="84.4" y1="324.6" x2="94.4" y2="324.6" stroke="#000" stroke-width="1.2" />
<rect x="80.8" y="329.57" width="17.2" height="42.82" fill="#000" stroke="#000" stroke-width="1"/>
<line x1="114.25" y1="344.65" x2="114.25" y2="341.2" stroke="#000" stroke-width="1.1" />
<line x1="109.25" y1="341.2" x2="119.25" y2="341.2" stroke="#000" stroke-width="1.2" />
<rect x="105.7" y="344.65" width="17.1" height="27.75" fill="#f01010" stroke="#000" stroke-width="1"/>
<line x1="138.9" y1="360.25" x2="138.9" y2="359.2" stroke="#000" stroke-width="1.1" />
<line x1="133.9" y1="359.2" x2="143.9" y2="359.2" stroke="#000" stroke-width="1.2" />
<rect x="130.2" y="360.25" width="17.4" height="12.15" fill="#1a14dc" stroke="#000" stroke-width="1"/>
<line x1="163.7" y1="363.1" x2="163.7" y2="362.5" stroke="#000" stroke-width="1.1" />
<line x1="158.7" y1="362.5" x2="168.7" y2="362.5" stroke="#000" stroke-width="1.2" />
<rect x="155" y="363.1" width="17.4" height="9.3" fill="#1ec21e" stroke="#000" stroke-width="1"/>
<line x1="76" y1="313.1" x2="76" y2="372.4" stroke="#000" stroke-width="1.4" />
<line x1="73.6" y1="372.4" x2="76" y2="372.4" stroke="#000" stroke-width="1.4" />
<text x="74" y="374.42" font-size="5.6" font-weight="bold" text-anchor="end" fill="#111" textLength="3.4" lengthAdjust="spacingAndGlyphs"  stroke="#000" stroke-width="0.22">0</text>
<line x1="73.6" y1="357.4" x2="76" y2="357.4" stroke="#000" stroke-width="1.4" />
<text x="74" y="359.42" font-size="5.6" font-weight="bold" text-anchor="end" fill="#111" textLength="10.2" lengthAdjust="spacingAndGlyphs"  stroke="#000" stroke-width="0.22">200</text>
<line x1="73.6" y1="342.4" x2="76" y2="342.4" stroke="#000" stroke-width="1.4" />
<text x="74" y="344.42" font-size="5.6" font-weight="bold" text-anchor="end" fill="#111" textLength="10.2" lengthAdjust="spacingAndGlyphs"  stroke="#000" stroke-width="0.22">400</text>
<line x1="73.6" y1="327.4" x2="76" y2="327.4" stroke="#000" stroke-width="1.4" />
<text x="74" y="329.42" font-size="5.6" font-weight="bold" text-anchor="end" fill="#111" textLength="10.2" lengthAdjust="spacingAndGlyphs"  stroke="#000" stroke-width="0.22">600</text>
<line x1="73.6" y1="312.4" x2="76" y2="312.4" stroke="#000" stroke-width="1.4" />
<text x="74" y="314.42" font-size="5.6" font-weight="bold" text-anchor="end" fill="#111" textLength="10.2" lengthAdjust="spacingAndGlyphs"  stroke="#000" stroke-width="0.22">800</text>
<line x1="76" y1="372.4" x2="177" y2="372.4" stroke="#000" stroke-width="1.4" />
<line x1="88.6" y1="309.7" x2="88.6" y2="325" stroke="#000" stroke-width="1.1" />
<polyline points="88.6,321.5 88.6,321.5 112.7,321.5 112.7,326.3" fill="none" stroke="#000" stroke-width="1.1"/>
<text x="100" y="322.9" font-size="6.5" font-weight="bold" text-anchor="middle" fill="#000"  stroke="#000" stroke-width="0.22">*</text>
<polyline points="88.6,315.8 88.6,315.8 137.6,315.8 137.6,326.3" fill="none" stroke="#000" stroke-width="1.1"/>
<text x="113.8" y="317.1" font-size="6.5" font-weight="bold" text-anchor="middle" fill="#000"  stroke="#000" stroke-width="0.22">**</text>
<polyline points="88.6,309.7 88.6,309.7 160.8,309.7 160.8,327.4" fill="none" stroke="#000" stroke-width="1.1"/>
<text x="129.2" y="311.1" font-size="6.5" font-weight="bold" text-anchor="middle" fill="#000"  stroke="#000" stroke-width="0.22">**</text>
<g transform="translate(57.4,341) rotate(-90)">
<text x="0" y="2.7" font-size="7.5" font-weight="bold" text-anchor="middle" textLength="31.8" lengthAdjust="spacingAndGlyphs">[Ca<tspan font-size="4.65" dy="-3.75">2+</tspan><tspan dy="3.75">] nM</tspan></text>
</g>
<path d="M105.65,372.5 L108.55,377.6 L102.75,377.6 Z" fill="#000"/>
<polyline points="71.2,444 71.92,443.95 72.64,444.38 73.37,444.66 74.09,444.99 74.81,444.1 75.53,444.34 76.25,443.94 76.97,444.44 77.7,443.9 78.42,444.54 79.14,443.82 79.86,443.9 80.58,444.31 81.31,444.13 82.03,443.92 82.75,444.56 83.47,444.06 84.19,443.72 84.91,444.41 85.64,443.69 86.36,443.83 87.08,443.6 87.8,444.26 88.52,444.57 89.25,443.62 89.97,443.6 90.69,444.06 91.41,444.51 92.13,444.35 92.85,443.76 93.58,444.2 94.3,443.31 95.02,443.78 95.74,444.28 96.46,443.66 97.18,444.03 97.91,443.26 98.63,443.28 99.35,443.79 100.07,443.6 100.79,443.51 101.52,443.36 102.24,443.11 102.96,444.35 103.68,443.9 104.4,443.57 105.12,443.94 105.85,443.55 106.57,444.2 107.29,443.14 108.01,443.59 108.73,444.12 109.46,443.38 110.18,443.83 110.9,443.97 111.62,443.57 112.34,444.01 113.06,443.9 113.79,443.02 114.51,443.23 115.23,444.12 115.95,443.09 116.67,444.08 117.4,443.65 118.12,442.88 118.84,443.24 119.56,443.64 120.28,443.53 121,443.5 121.73,443.83 122.45,442.66 123.17,443.9 123.89,443.4 124.61,442.95 125.34,443.4 126.06,442.61 126.78,443.57 127.5,442.59 128.22,442.69 128.94,442.97 129.67,442.66 130.39,443.23 131.11,442.71 131.83,442.74 132.55,443.09 133.27,443.14 134,442.81 134.72,443.19 135.44,443.61 136.16,442.74 136.88,443.38 137.61,443.08 138.33,442.69 139.05,443.5 139.77,443.7 140.49,443.56 141.21,442.95 141.94,443.25 142.66,443.39 143.38,443.13 144.1,442.5 144.82,443.39 145.55,443.18 146.27,442.56 146.99,442.92 147.71,443.37 148.43,443.1 149.15,443.09 149.88,443.54 150.6,443.23 151.32,443.32 152.04,442.66 152.76,443.3 153.49,442.85 154.21,442.44 154.93,442.51 155.65,443.23 156.37,442.93 157.09,443.3 157.82,443.2 158.54,443.08 159.26,442.68 159.98,442.49 160.7,443.34 161.43,443.72 162.15,443.13 162.87,443.65 163.59,443.69 164.31,442.7 165.03,443.58 165.76,442.78 166.48,443.25 167.2,442.49 167.92,442.6 168.64,443.64 169.36,443.47 170.09,442.47 170.81,442.92 171.53,443.17 172.25,442.69 172.97,442.65 173.7,443.08 174.42,443.11 175.14,443.59 175.86,443.25 176.58,443.54 177.3,442.9 178.03,442.92 178.75,443.54 179.47,442.9 180.19,443.6 180.91,443.59 181.64,442.87 182.36,443.11 183.08,442.54 183.8,442.89 184.52,442.8 185.24,443.56 185.97,442.63 186.69,443.62 187.41,442.91 188.13,442.52 188.85,442.53 189.58,442.55 190.3,443.13 191.02,442.81" fill="none" stroke="#1ec21e" stroke-width="1.7" stroke-linejoin="round" />
<polyline points="71.2,442.94 71.92,442.69 72.64,442.52 73.37,442.24 74.09,442.34 74.81,442.03 75.53,442.86 76.25,442.28 76.97,441.65 77.7,441.85 78.42,441.46 79.14,442.18 79.86,441.68 80.58,441.8 81.31,441.37 82.03,441.22 82.75,441.7 83.47,441.36 84.19,441.18 84.91,440.39 85.64,440.43 86.36,440.95 87.08,440.16 87.8,440.74 88.52,440.11 89.25,440.52 89.97,440.54 90.69,439.54 91.41,440.17 92.13,440.09 92.85,439.2 93.58,439.24 94.3,439.78 95.02,439 95.74,439.37 96.46,439.15 97.18,439.57 97.91,438.72 98.63,438.91 99.35,438.54 100.07,438.54 100.79,439.1 101.52,438.99 102.24,439.22 102.96,439.27 103.68,439.38 104.4,439.15 105.12,438.86 105.85,439.52 106.57,438.83 107.29,439.22 108.01,439.27 108.73,438.76 109.46,439.14 110.18,439.34 110.9,439.19 111.62,438.98 112.34,439.69 113.06,438.75 113.79,439.78 114.51,439.04 115.23,438.96 115.95,439.86 116.67,439.07 117.4,439.54 118.12,439.34 118.84,439.97 119.56,439.96 120.28,439.84 121,439.05 121.73,439.88 122.45,439.31 123.17,439.15 123.89,439.16 124.61,439.82 125.34,439.84 126.06,439.68 126.78,439.44 127.5,440.17 128.22,439.52 128.94,439.5 129.67,439.45 130.39,440.35 131.11,439.41 131.83,440.34 132.55,440.11 133.27,439.85 134,439.55 134.72,440.18 135.44,439.6 136.16,440.03 136.88,440.31 137.61,440.34 138.33,440.52 139.05,440.66 139.77,440.61 140.49,440.08 141.21,439.78 141.94,440.7 142.66,440.85 143.38,439.89 144.1,440.41 144.82,440.57 145.55,440.79 146.27,440.44 146.99,440.23 147.71,440.65 148.43,440.72 149.15,441.14 149.88,440.24 150.6,441.18 151.32,440.69 152.04,440.33 152.76,441.08 153.49,440.44 154.21,440.21 154.93,440.55 155.65,440.38 156.37,441.1 157.09,440.75 157.82,441.06 158.54,440.32 159.26,440.9 159.98,440.73 160.7,440.16 161.43,440.31 162.15,440.18 162.87,440.73 163.59,440.7 164.31,440.44 165.03,440.71 165.76,440.91 166.48,440.79 167.2,441.06 167.92,440.81 168.64,440.17 169.36,440.2 170.09,440.55 170.81,440.68 171.53,440.86 172.25,441.12 172.97,440.93 173.7,440.39 174.42,440.3 175.14,440.83 175.86,440.38 176.58,440.39 177.3,440.48 178.03,440.51 178.75,440.41 179.47,440.83 180.19,440.47 180.91,440.92 181.64,440.7 182.36,440.4 183.08,440.48 183.8,440.9 184.52,440.21 185.24,440.53 185.97,440.6 186.69,441.2 187.41,440.63 188.13,440.95 188.85,440.5 189.58,440.72 190.3,440.35 191.02,440.53" fill="none" stroke="#1a14dc" stroke-width="1.7" stroke-linejoin="round" />
<polyline points="71.2,438.67 71.92,439.03 72.64,438.38 73.37,439 74.09,439.26 74.81,438.5 75.53,437.32 76.25,437.65 76.97,437.78 77.7,439.12 78.42,438.42 79.14,439.08 79.86,439.38 80.58,439.58 81.31,439.37 82.03,437.72 82.75,438 83.47,438.1 84.19,434.22 84.91,431.41 85.64,429.6 86.36,427.87 87.08,426.64 87.8,425.37 88.52,424.33 89.25,425.35 89.97,423.26 90.69,422.25 91.41,421.79 92.13,421.71 92.85,420.16 93.58,420.22 94.3,417.35 95.02,416.66 95.74,416.69 96.46,416.55 97.18,414.37 97.91,414.44 98.63,412.97 99.35,412.32 100.07,412.4 100.79,411.9 101.52,410.73 102.24,410.4 102.96,411.13 103.68,411.29 104.4,410.59 105.12,412.92 105.85,413.42 106.57,411.95 107.29,412.39 108.01,411.41 108.73,411.18 109.46,411.11 110.18,409.17 110.9,410.7 111.62,409.8 112.34,409.92 113.06,408.52 113.79,409.81 114.51,410.14 115.23,409.73 115.95,411.26 116.67,411.22 117.4,410.91 118.12,413.35 118.84,413.96 119.56,414.08 120.28,413.21 121,413.87 121.73,415.07 122.45,415.15 123.17,415.82 123.89,415.45 124.61,416.74 125.34,415.49 126.06,415.29 126.78,415.26 127.5,415.9 128.22,415.48 128.94,417.84 129.67,417.31 130.39,415.98 131.11,416.87 131.83,418.17 132.55,417.34 133.27,418.54 134,418.51 134.72,420.19 135.44,420.87 136.16,420.71 136.88,421.27 137.61,420.52 138.33,418.97 139.05,420.3 139.77,420.9 140.49,420.65 141.21,420.18 141.94,419.04 142.66,420.41 143.38,420.94 144.1,421.77 144.82,420.03 145.55,421.72 146.27,422.6 146.99,423.31 147.71,423.69 148.43,423.78 149.15,422.94 149.88,424.56 150.6,425.18 151.32,424.47 152.04,425.41 152.76,423.99 153.49,426.44 154.21,425.58 154.93,425.05 155.65,425.97 156.37,424.65 157.09,425.91 157.82,426.53 158.54,426.18 159.26,427.13 159.98,426.26 160.7,426.73 161.43,425.26 162.15,425.45 162.87,426.45 163.59,427.93 164.31,427.77 165.03,428.16 165.76,428.61 166.48,428.93 167.2,427.77 167.92,429.75 168.64,430.15 169.36,428.24 170.09,429.29 170.81,428.46 171.53,430.04 172.25,429.04 172.97,429.81 173.7,429.66 174.42,429.96 175.14,430.74 175.86,431.87 176.58,431.77 177.3,430.38 178.03,430.5 178.75,430.62 179.47,432.2 180.19,431.63 180.91,431.48 181.64,432.05 182.36,431.84 183.08,432.72 183.8,432.61 184.52,432.73 185.24,433.92 185.97,432.56 186.69,432.67 187.41,434.97 188.13,433.03 188.85,433.24 189.58,434.14 190.3,435.82 191.02,433.98" fill="none" stroke="#f01010" stroke-width="1.8" stroke-linejoin="round" />
<polyline points="71.2,441.91 71.92,441.05 72.64,441.47 73.37,440.8 74.09,440.7 74.81,442.14 75.53,442.23 76.25,440 76.97,441.49 77.7,441.51 78.42,439.45 79.14,440.79 79.86,439.78 80.58,440.68 81.31,440.21 82.03,441.45 82.75,440.13 83.47,439.46 84.19,436.89 84.91,430.38 85.64,424.62 86.36,424.1 87.08,420.13 87.8,418.45 88.52,417.09 89.25,416.54 89.97,413.25 90.69,413.2 91.41,411.46 92.13,409.89 92.85,409.07 93.58,407.27 94.3,407.4 95.02,405.07 95.74,404.76 96.46,402.42 97.18,401.99 97.91,395.85 98.63,392.37 99.35,392.46 100.07,390.79 100.79,392.49 101.52,391.94 102.24,392.05 102.96,390.75 103.68,390.32 104.4,389.3 105.12,387.57 105.85,386.46 106.57,385.42 107.29,386.29 108.01,385.91 108.73,385.77 109.46,383.86 110.18,383.14 110.9,382.93 111.62,379.52 112.34,379.69 113.06,381.28 113.79,383.61 114.51,384.89 115.23,389.05 115.95,390.24 116.67,392.4 117.4,393.29 118.12,394.01 118.84,392.05 119.56,391.83 120.28,394.77 121,393.86 121.73,395.87 122.45,397.54 123.17,398.14 123.89,397.16 124.61,396.47 125.34,398.24 126.06,396.31 126.78,397.4 127.5,395.2 128.22,395.8 128.94,394.49 129.67,396.04 130.39,399.12 131.11,399.64 131.83,400.62 132.55,399.86 133.27,398.77 134,400.57 134.72,400.42 135.44,400.15 136.16,399.91 136.88,400.45 137.61,400.08 138.33,397.23 139.05,399.06 139.77,399.16 140.49,401.12 141.21,404.3 141.94,405.76 142.66,406.02 143.38,406.1 144.1,406.65 144.82,407.16 145.55,407.41 146.27,406.97 146.99,408.76 147.71,409.6 148.43,409.48 149.15,411.4 149.88,411.87 150.6,410.72 151.32,412.58 152.04,413.01 152.76,414.29 153.49,413.09 154.21,412.51 154.93,413.85 155.65,412.13 156.37,411.95 157.09,413.32 157.82,411.68 158.54,411.97 159.26,411.17 159.98,411.77 160.7,410.57 161.43,410.22 162.15,411.85 162.87,411.48 163.59,409.59 164.31,409.14 165.03,411.51 165.76,411.47 166.48,411.6 167.2,412.82 167.92,413.54 168.64,414.68 169.36,415.54 170.09,415.95 170.81,417.74 171.53,418.54 172.25,417.03 172.97,417.06 173.7,413.67 174.42,413.96 175.14,416.06 175.86,417.27 176.58,416.7 177.3,419.17 178.03,419.89 178.75,419.7 179.47,419.46 180.19,421.5 180.91,421.37 181.64,421.8 182.36,420.94 183.08,422.23 183.8,421.34 184.52,423.36 185.24,423.12 185.97,422.5 186.69,422.08 187.41,423.44 188.13,424.24 188.85,424.73 189.58,423.85 190.3,424.95 191.02,423.53" fill="none" stroke="#000" stroke-width="1.9" stroke-linejoin="round" />
<line x1="71.2" y1="381.45" x2="71.2" y2="460" stroke="#000" stroke-width="1.7" />
<line x1="68" y1="460" x2="71.2" y2="460" stroke="#000" stroke-width="1.4" />
<text x="67.7" y="462.23" font-size="6.2" font-weight="bold" text-anchor="end" fill="#111"  stroke="#000" stroke-width="0.22">0</text>
<line x1="68" y1="446.77" x2="71.2" y2="446.77" stroke="#000" stroke-width="1.4" />
<text x="67.7" y="449" font-size="6.2" font-weight="bold" text-anchor="end" fill="#111"  stroke="#000" stroke-width="0.22">100</text>
<line x1="68" y1="433.54" x2="71.2" y2="433.54" stroke="#000" stroke-width="1.4" />
<text x="67.7" y="435.77" font-size="6.2" font-weight="bold" text-anchor="end" fill="#111"  stroke="#000" stroke-width="0.22">200</text>
<line x1="68" y1="420.31" x2="71.2" y2="420.31" stroke="#000" stroke-width="1.4" />
<text x="67.7" y="422.54" font-size="6.2" font-weight="bold" text-anchor="end" fill="#111"  stroke="#000" stroke-width="0.22">300</text>
<line x1="68" y1="407.08" x2="71.2" y2="407.08" stroke="#000" stroke-width="1.4" />
<text x="67.7" y="409.31" font-size="6.2" font-weight="bold" text-anchor="end" fill="#111"  stroke="#000" stroke-width="0.22">400</text>
<line x1="68" y1="393.85" x2="71.2" y2="393.85" stroke="#000" stroke-width="1.4" />
<text x="67.7" y="396.08" font-size="6.2" font-weight="bold" text-anchor="end" fill="#111"  stroke="#000" stroke-width="0.22">500</text>
<line x1="68" y1="380.62" x2="71.2" y2="380.62" stroke="#000" stroke-width="1.4" />
<text x="67.7" y="382.85" font-size="6.2" font-weight="bold" text-anchor="end" fill="#111"  stroke="#000" stroke-width="0.22">600</text>
<line x1="71.2" y1="460" x2="191.5" y2="460" stroke="#000" stroke-width="1.7" />
<line x1="71.2" y1="460" x2="71.2" y2="462.2" stroke="#000" stroke-width="1.4" />
<text x="71.2" y="469.1" font-size="6" font-weight="bold" text-anchor="middle" fill="#111"  stroke="#000" stroke-width="0.22">0</text>
<line x1="83.23" y1="460" x2="83.23" y2="462.2" stroke="#000" stroke-width="1.4" />
<text x="83.23" y="469.1" font-size="6" font-weight="bold" text-anchor="middle" fill="#111"  stroke="#000" stroke-width="0.22">20</text>
<line x1="95.26" y1="460" x2="95.26" y2="462.2" stroke="#000" stroke-width="1.4" />
<text x="95.26" y="469.1" font-size="6" font-weight="bold" text-anchor="middle" fill="#111"  stroke="#000" stroke-width="0.22">40</text>
<line x1="107.29" y1="460" x2="107.29" y2="462.2" stroke="#000" stroke-width="1.4" />
<text x="107.29" y="469.1" font-size="6" font-weight="bold" text-anchor="middle" fill="#111"  stroke="#000" stroke-width="0.22">60</text>
<line x1="119.32" y1="460" x2="119.32" y2="462.2" stroke="#000" stroke-width="1.4" />
<text x="119.32" y="469.1" font-size="6" font-weight="bold" text-anchor="middle" fill="#111"  stroke="#000" stroke-width="0.22">80</text>
<line x1="131.35" y1="460" x2="131.35" y2="462.2" stroke="#000" stroke-width="1.4" />
<text x="131.35" y="469.1" font-size="6" font-weight="bold" text-anchor="middle" fill="#111"  stroke="#000" stroke-width="0.22">100</text>
<line x1="143.38" y1="460" x2="143.38" y2="462.2" stroke="#000" stroke-width="1.4" />
<text x="143.38" y="469.1" font-size="6" font-weight="bold" text-anchor="middle" fill="#111"  stroke="#000" stroke-width="0.22">120</text>
<line x1="155.41" y1="460" x2="155.41" y2="462.2" stroke="#000" stroke-width="1.4" />
<text x="155.41" y="469.1" font-size="6" font-weight="bold" text-anchor="middle" fill="#111"  stroke="#000" stroke-width="0.22">140</text>
<line x1="167.44" y1="460" x2="167.44" y2="462.2" stroke="#000" stroke-width="1.4" />
<text x="167.44" y="469.1" font-size="6" font-weight="bold" text-anchor="middle" fill="#111"  stroke="#000" stroke-width="0.22">160</text>
<line x1="179.47" y1="460" x2="179.47" y2="462.2" stroke="#000" stroke-width="1.4" />
<text x="179.47" y="469.1" font-size="6" font-weight="bold" text-anchor="middle" fill="#111"  stroke="#000" stroke-width="0.22">180</text>
<line x1="191.5" y1="460" x2="191.5" y2="462.2" stroke="#000" stroke-width="1.4" />
<text x="191.5" y="469.1" font-size="6" font-weight="bold" text-anchor="middle" fill="#111"  stroke="#000" stroke-width="0.22">200</text>
<line x1="76.8" y1="384" x2="76.8" y2="484" stroke="#000" stroke-width="1.8" stroke-dasharray="1.6 1.5"/>
<line x1="105.5" y1="379.8" x2="105.5" y2="460" stroke="#000" stroke-width="1.1" stroke-dasharray="2.8 2"/>
<text x="112.9" y="481.8" font-size="9.8" font-weight="bold" text-anchor="start" fill="#000" textLength="37.3" lengthAdjust="spacingAndGlyphs" >Time (s)</text>
<g transform="translate(48.6,419.25) rotate(-90)">
<text x="0" y="3.6" font-size="10" font-weight="bold" text-anchor="middle" textLength="44.9" lengthAdjust="spacingAndGlyphs">[Ca<tspan font-size="6.2" dy="-5">2+</tspan><tspan dy="5">] nM</tspan></text>
</g>
<rect x="0.5" y="484.2" width="74.5" height="16.4" fill="#fff" stroke="#222" stroke-width="1.1"/>
<rect x="78.5" y="483.6" width="126" height="18.6" fill="#9f9f9f" stroke="#222" stroke-width="1.1"/>
<rect x="75" y="483.1" width="3.5" height="19.6" fill="#111"/>
<line x1="76.75" y1="484.6" x2="76.75" y2="501.7" stroke="#fff" stroke-width="1.5" stroke-dasharray="1.3 1.5"/>
<text x="8.5" y="497.2" font-size="9.3" font-weight="bold" text-anchor="start" fill="#000" textLength="59.2" lengthAdjust="spacingAndGlyphs" >0.0 &#956;M fMLP</text>
<text x="92" y="497.2" font-size="9.3" font-weight="bold" text-anchor="start" fill="#000" textLength="58.6" lengthAdjust="spacingAndGlyphs" >0.1 &#956;M fMLP</text>
<text x="273.9" y="326.5" font-size="18" text-anchor="start" fill="#000" textLength="49.6" lengthAdjust="spacingAndGlyphs" >HL-60</text>
<line x1="275.4" y1="328.8" x2="323.5" y2="328.8" stroke="#000" stroke-width="1.5" />
<line x1="383.75" y1="311" x2="414.5" y2="311" stroke="#000" stroke-width="2.3" />
<text x="422.5" y="313.75" font-size="12" text-anchor="start" fill="#000" >Control</text>
<line x1="383.75" y1="323.1" x2="414.5" y2="323.1" stroke="#f01010" stroke-width="2.3" />
<text x="422.5" y="325.6" font-size="12" text-anchor="start" fill="#000" >Orai1 siRNA</text>
<line x1="383.75" y1="335.5" x2="414.5" y2="335.5" stroke="#1a14dc" stroke-width="2.3" />
<text x="422.5" y="337.6" font-size="12" text-anchor="start" fill="#000" >2-APB</text>
<line x1="383.75" y1="348" x2="414.5" y2="348" stroke="#1ec21e" stroke-width="2.3" />
<text x="422.5" y="350" font-size="12" text-anchor="start" fill="#000" >U73122</text>
<text x="277.6" y="367.3" font-size="11" font-weight="bold" text-anchor="start" fill="#000" textLength="32.6" lengthAdjust="spacingAndGlyphs" >Arrest</text>
<line x1="233.6" y1="379.5" x2="233.6" y2="458.75" stroke="#000" stroke-width="1.5" />
<line x1="230.7" y1="458.75" x2="233.6" y2="458.75" stroke="#000" stroke-width="1.4" />
<text x="230.4" y="460.87" font-size="5.9" font-weight="bold" text-anchor="end" fill="#000"  stroke="#000" stroke-width="0.22">0</text>
<line x1="230.7" y1="438.75" x2="233.6" y2="438.75" stroke="#000" stroke-width="1.4" />
<text x="230.4" y="440.87" font-size="5.9" font-weight="bold" text-anchor="end" fill="#000"  stroke="#000" stroke-width="0.22">25</text>
<line x1="230.7" y1="418.75" x2="233.6" y2="418.75" stroke="#000" stroke-width="1.4" />
<text x="230.4" y="420.87" font-size="5.9" font-weight="bold" text-anchor="end" fill="#000"  stroke="#000" stroke-width="0.22">50</text>
<line x1="230.7" y1="398.75" x2="233.6" y2="398.75" stroke="#000" stroke-width="1.4" />
<text x="230.4" y="400.87" font-size="5.9" font-weight="bold" text-anchor="end" fill="#000"  stroke="#000" stroke-width="0.22">75</text>
<line x1="230.7" y1="378.75" x2="233.6" y2="378.75" stroke="#000" stroke-width="1.4" />
<text x="230.4" y="380.87" font-size="5.9" font-weight="bold" text-anchor="end" fill="#000"  stroke="#000" stroke-width="0.22">100</text>
<line x1="233.6" y1="458.75" x2="353.2" y2="458.75" stroke="#000" stroke-width="1.5" />
<line x1="233.6" y1="458.75" x2="233.6" y2="460.95" stroke="#000" stroke-width="1.4" />
<text x="233.6" y="466.95" font-size="5.9" font-weight="bold" text-anchor="middle" fill="#000"  stroke="#000" stroke-width="0.22">0</text>
<line x1="246.89" y1="458.75" x2="246.89" y2="460.95" stroke="#000" stroke-width="1.4" />
<text x="246.89" y="466.95" font-size="5.9" font-weight="bold" text-anchor="middle" fill="#000"  stroke="#000" stroke-width="0.22">20</text>
<line x1="260.18" y1="458.75" x2="260.18" y2="460.95" stroke="#000" stroke-width="1.4" />
<text x="260.18" y="466.95" font-size="5.9" font-weight="bold" text-anchor="middle" fill="#000"  stroke="#000" stroke-width="0.22">40</text>
<line x1="273.46" y1="458.75" x2="273.46" y2="460.95" stroke="#000" stroke-width="1.4" />
<text x="273.46" y="466.95" font-size="5.9" font-weight="bold" text-anchor="middle" fill="#000"  stroke="#000" stroke-width="0.22">60</text>
<line x1="286.75" y1="458.75" x2="286.75" y2="460.95" stroke="#000" stroke-width="1.4" />
<text x="286.75" y="466.95" font-size="5.9" font-weight="bold" text-anchor="middle" fill="#000"  stroke="#000" stroke-width="0.22">80</text>
<line x1="300.04" y1="458.75" x2="300.04" y2="460.95" stroke="#000" stroke-width="1.4" />
<text x="300.04" y="466.95" font-size="5.9" font-weight="bold" text-anchor="middle" fill="#000"  stroke="#000" stroke-width="0.22">100</text>
<line x1="313.33" y1="458.75" x2="313.33" y2="460.95" stroke="#000" stroke-width="1.4" />
<text x="313.33" y="466.95" font-size="5.9" font-weight="bold" text-anchor="middle" fill="#000"  stroke="#000" stroke-width="0.22">120</text>
<line x1="326.62" y1="458.75" x2="326.62" y2="460.95" stroke="#000" stroke-width="1.4" />
<text x="326.62" y="466.95" font-size="5.9" font-weight="bold" text-anchor="middle" fill="#000"  stroke="#000" stroke-width="0.22">140</text>
<line x1="339.9" y1="458.75" x2="339.9" y2="460.95" stroke="#000" stroke-width="1.4" />
<text x="339.9" y="466.95" font-size="5.9" font-weight="bold" text-anchor="middle" fill="#000"  stroke="#000" stroke-width="0.22">160</text>
<line x1="353.19" y1="458.75" x2="353.19" y2="460.95" stroke="#000" stroke-width="1.4" />
<text x="353.19" y="466.95" font-size="5.9" font-weight="bold" text-anchor="middle" fill="#000"  stroke="#000" stroke-width="0.22">180</text>
<polyline points="240.24,447.55 240.57,447.48 240.97,447.46 241.44,447.46 241.97,447.46 242.54,447.45 243.15,447.4 243.78,447.29 244.43,447.11 245.07,446.82 245.7,446.41 246.31,445.86 246.89,445.15 247.44,444.23 248,443.1 248.55,441.79 249.1,440.35 249.66,438.81 250.21,437.2 250.76,435.57 251.32,433.95 251.87,432.38 252.42,430.9 252.98,429.54 253.53,428.35 254.09,427.28 254.64,426.27 255.19,425.31 255.75,424.41 256.3,423.56 256.85,422.75 257.41,421.99 257.96,421.27 258.52,420.59 259.07,419.94 259.62,419.33 260.18,418.75 260.73,418.23 261.28,417.78 261.84,417.39 262.39,417.06 262.94,416.77 263.5,416.5 264.05,416.25 264.61,415.99 265.16,415.73 265.71,415.44 266.27,415.12 266.82,414.75 267.37,414.34 267.93,413.91 268.48,413.46 269.03,413 269.59,412.53 270.14,412.05 270.7,411.56 271.25,411.08 271.8,410.59 272.36,410.1 272.91,409.62 273.46,409.15 274.02,408.67 274.57,408.18 275.12,407.67 275.68,407.16 276.23,406.65 276.79,406.15 277.34,405.66 277.89,405.18 278.45,404.72 279,404.3 279.55,403.9 280.11,403.55 280.66,403.23 281.22,402.93 281.77,402.65 282.32,402.39 282.88,402.16 283.43,401.95 283.98,401.76 284.54,401.59 285.09,401.45 285.64,401.33 286.2,401.23 286.75,401.15 287.31,401.12 287.86,401.14 288.41,401.22 288.97,401.33 289.52,401.46 290.07,401.6 290.63,401.74 291.18,401.86 291.74,401.96 292.29,402.01 292.84,402.01 293.4,401.95 293.95,401.81 294.5,401.59 295.06,401.32 295.61,401 296.16,400.66 296.72,400.3 297.27,399.95 297.83,399.61 298.38,399.31 298.93,399.05 299.49,398.86 300.04,398.75 300.59,398.72 301.15,398.76 301.7,398.86 302.25,399 302.81,399.18 303.36,399.38 303.92,399.58 304.47,399.79 305.02,399.98 305.58,400.14 306.13,400.27 306.68,400.35 307.24,400.38 307.79,400.39 308.34,400.37 308.9,400.34 309.45,400.28 310.01,400.23 310.56,400.16 311.11,400.1 311.67,400.04 312.22,399.99 312.77,399.96 313.33,399.95 313.88,399.95 314.44,399.96 314.99,399.97 315.54,399.98 316.1,400 316.65,400.02 317.2,400.06 317.76,400.1 318.31,400.15 318.86,400.2 319.42,400.27 319.97,400.35 320.53,400.45 321.08,400.58 321.63,400.74 322.19,400.91 322.74,401.09 323.29,401.28 323.85,401.45 324.4,401.61 324.95,401.75 325.51,401.85 326.06,401.92 326.62,401.95 327.17,401.94 327.72,401.89 328.28,401.82 328.83,401.73 329.38,401.61 329.94,401.47 330.49,401.32 331.05,401.15 331.6,400.97 332.15,400.77 332.71,400.56 333.26,400.35 333.81,400.11 334.37,399.82 334.92,399.5 335.47,399.15 336.03,398.79 336.58,398.43 337.14,398.07 337.69,397.73 338.24,397.42 338.8,397.14 339.35,396.92 339.9,396.75 340.46,396.63 341.01,396.53 341.56,396.45 342.12,396.39 342.67,396.37 343.23,396.37 343.78,396.41 344.33,396.48 344.89,396.59 345.44,396.74 345.99,396.92 346.55,397.15 347.12,397.45 347.73,397.85 348.36,398.32 349.01,398.84 349.65,399.4 350.29,399.97 350.89,400.55 351.47,401.11 352,401.62 352.47,402.08 352.87,402.46 353.19,402.75" fill="none" stroke="#000" stroke-width="1.8" stroke-linejoin="round" />
<line x1="240.24" y1="450.75" x2="240.24" y2="444.35" stroke="#000" stroke-width="1.1" />
<line x1="238.44" y1="450.75" x2="242.04" y2="450.75" stroke="#000" stroke-width="1.1" />
<line x1="238.44" y1="444.35" x2="242.04" y2="444.35" stroke="#000" stroke-width="1.1" />
<rect x="239.04" y="446.35" width="2.4" height="2.4" fill="#000"/>
<line x1="246.89" y1="447.55" x2="246.89" y2="442.75" stroke="#000" stroke-width="1.1" />
<line x1="245.09" y1="447.55" x2="248.69" y2="447.55" stroke="#000" stroke-width="1.1" />
<line x1="245.09" y1="442.75" x2="248.69" y2="442.75" stroke="#000" stroke-width="1.1" />
<rect x="245.69" y="443.95" width="2.4" height="2.4" fill="#000"/>
<line x1="253.53" y1="431.55" x2="253.53" y2="425.15" stroke="#000" stroke-width="1.1" />
<line x1="251.73" y1="431.55" x2="255.33" y2="431.55" stroke="#000" stroke-width="1.1" />
<line x1="251.73" y1="425.15" x2="255.33" y2="425.15" stroke="#000" stroke-width="1.1" />
<rect x="252.33" y="427.15" width="2.4" height="2.4" fill="#000"/>
<line x1="260.18" y1="422.35" x2="260.18" y2="415.15" stroke="#000" stroke-width="1.1" />
<line x1="258.38" y1="422.35" x2="261.98" y2="422.35" stroke="#000" stroke-width="1.1" />
<line x1="258.38" y1="415.15" x2="261.98" y2="415.15" stroke="#000" stroke-width="1.1" />
<rect x="258.98" y="417.55" width="2.4" height="2.4" fill="#000"/>
<line x1="266.82" y1="418.75" x2="266.82" y2="410.75" stroke="#000" stroke-width="1.1" />
<line x1="265.02" y1="418.75" x2="268.62" y2="418.75" stroke="#000" stroke-width="1.1" />
<line x1="265.02" y1="410.75" x2="268.62" y2="410.75" stroke="#000" stroke-width="1.1" />
<rect x="265.62" y="413.55" width="2.4" height="2.4" fill="#000"/>
<line x1="273.46" y1="413.95" x2="273.46" y2="404.35" stroke="#000" stroke-width="1.1" />
<line x1="271.66" y1="413.95" x2="275.26" y2="413.95" stroke="#000" stroke-width="1.1" />
<line x1="271.66" y1="404.35" x2="275.26" y2="404.35" stroke="#000" stroke-width="1.1" />
<rect x="272.26" y="407.95" width="2.4" height="2.4" fill="#000"/>
<line x1="280.11" y1="409.15" x2="280.11" y2="397.95" stroke="#000" stroke-width="1.1" />
<line x1="278.31" y1="409.15" x2="281.91" y2="409.15" stroke="#000" stroke-width="1.1" />
<line x1="278.31" y1="397.95" x2="281.91" y2="397.95" stroke="#000" stroke-width="1.1" />
<rect x="278.91" y="402.35" width="2.4" height="2.4" fill="#000"/>
<line x1="286.75" y1="405.95" x2="286.75" y2="396.35" stroke="#000" stroke-width="1.1" />
<line x1="284.95" y1="405.95" x2="288.55" y2="405.95" stroke="#000" stroke-width="1.1" />
<line x1="284.95" y1="396.35" x2="288.55" y2="396.35" stroke="#000" stroke-width="1.1" />
<rect x="285.55" y="399.95" width="2.4" height="2.4" fill="#000"/>
<line x1="293.4" y1="405.95" x2="293.4" y2="397.95" stroke="#000" stroke-width="1.1" />
<line x1="291.6" y1="405.95" x2="295.2" y2="405.95" stroke="#000" stroke-width="1.1" />
<line x1="291.6" y1="397.95" x2="295.2" y2="397.95" stroke="#000" stroke-width="1.1" />
<rect x="292.2" y="400.75" width="2.4" height="2.4" fill="#000"/>
<line x1="300.04" y1="402.75" x2="300.04" y2="394.75" stroke="#000" stroke-width="1.1" />
<line x1="298.24" y1="402.75" x2="301.84" y2="402.75" stroke="#000" stroke-width="1.1" />
<line x1="298.24" y1="394.75" x2="301.84" y2="394.75" stroke="#000" stroke-width="1.1" />
<rect x="298.84" y="397.55" width="2.4" height="2.4" fill="#000"/>
<line x1="306.68" y1="404.35" x2="306.68" y2="396.35" stroke="#000" stroke-width="1.1" />
<line x1="304.88" y1="404.35" x2="308.48" y2="404.35" stroke="#000" stroke-width="1.1" />
<line x1="304.88" y1="396.35" x2="308.48" y2="396.35" stroke="#000" stroke-width="1.1" />
<rect x="305.48" y="399.15" width="2.4" height="2.4" fill="#000"/>
<line x1="313.33" y1="403.95" x2="313.33" y2="395.95" stroke="#000" stroke-width="1.1" />
<line x1="311.53" y1="403.95" x2="315.13" y2="403.95" stroke="#000" stroke-width="1.1" />
<line x1="311.53" y1="395.95" x2="315.13" y2="395.95" stroke="#000" stroke-width="1.1" />
<rect x="312.13" y="398.75" width="2.4" height="2.4" fill="#000"/>
<line x1="319.97" y1="404.35" x2="319.97" y2="396.35" stroke="#000" stroke-width="1.1" />
<line x1="318.17" y1="404.35" x2="321.77" y2="404.35" stroke="#000" stroke-width="1.1" />
<line x1="318.17" y1="396.35" x2="321.77" y2="396.35" stroke="#000" stroke-width="1.1" />
<rect x="318.77" y="399.15" width="2.4" height="2.4" fill="#000"/>
<line x1="326.62" y1="406.75" x2="326.62" y2="397.15" stroke="#000" stroke-width="1.1" />
<line x1="324.82" y1="406.75" x2="328.42" y2="406.75" stroke="#000" stroke-width="1.1" />
<line x1="324.82" y1="397.15" x2="328.42" y2="397.15" stroke="#000" stroke-width="1.1" />
<rect x="325.42" y="400.75" width="2.4" height="2.4" fill="#000"/>
<line x1="333.26" y1="404.35" x2="333.26" y2="396.35" stroke="#000" stroke-width="1.1" />
<line x1="331.46" y1="404.35" x2="335.06" y2="404.35" stroke="#000" stroke-width="1.1" />
<line x1="331.46" y1="396.35" x2="335.06" y2="396.35" stroke="#000" stroke-width="1.1" />
<rect x="332.06" y="399.15" width="2.4" height="2.4" fill="#000"/>
<line x1="339.9" y1="400.75" x2="339.9" y2="392.75" stroke="#000" stroke-width="1.1" />
<line x1="338.1" y1="400.75" x2="341.7" y2="400.75" stroke="#000" stroke-width="1.1" />
<line x1="338.1" y1="392.75" x2="341.7" y2="392.75" stroke="#000" stroke-width="1.1" />
<rect x="338.7" y="395.55" width="2.4" height="2.4" fill="#000"/>
<line x1="346.55" y1="401.15" x2="346.55" y2="393.15" stroke="#000" stroke-width="1.1" />
<line x1="344.75" y1="401.15" x2="348.35" y2="401.15" stroke="#000" stroke-width="1.1" />
<line x1="344.75" y1="393.15" x2="348.35" y2="393.15" stroke="#000" stroke-width="1.1" />
<rect x="345.35" y="395.95" width="2.4" height="2.4" fill="#000"/>
<line x1="353.19" y1="406.75" x2="353.19" y2="398.75" stroke="#000" stroke-width="1.1" />
<line x1="351.39" y1="406.75" x2="354.99" y2="406.75" stroke="#000" stroke-width="1.1" />
<line x1="351.39" y1="398.75" x2="354.99" y2="398.75" stroke="#000" stroke-width="1.1" />
<rect x="351.99" y="401.55" width="2.4" height="2.4" fill="#000"/>
<polyline points="240.24,450.75 240.57,450.75 240.97,450.81 241.44,450.91 241.97,451.02 242.54,451.12 243.15,451.2 243.78,451.23 244.43,451.19 245.07,451.07 245.7,450.83 246.31,450.47 246.89,449.95 247.44,449.26 248,448.42 248.55,447.45 249.1,446.36 249.66,445.19 250.21,443.95 250.76,442.66 251.32,441.36 251.87,440.05 252.42,438.76 252.98,437.52 253.53,436.35 254.09,435.2 254.64,434.01 255.19,432.8 255.75,431.58 256.3,430.36 256.85,429.15 257.41,427.96 257.96,426.81 258.52,425.7 259.07,424.65 259.62,423.66 260.18,422.75 260.73,421.89 261.28,421.06 261.84,420.26 262.39,419.49 262.94,418.77 263.5,418.1 264.05,417.49 264.61,416.94 265.16,416.47 265.71,416.07 266.27,415.77 266.82,415.55 267.37,415.47 267.93,415.55 268.48,415.75 269.03,416.05 269.59,416.43 270.14,416.85 270.7,417.29 271.25,417.71 271.8,418.1 272.36,418.42 272.91,418.65 273.46,418.75 274.02,418.76 274.57,418.72 275.12,418.64 275.68,418.51 276.23,418.35 276.79,418.15 277.34,417.92 277.89,417.65 278.45,417.36 279,417.05 279.55,416.71 280.11,416.35 280.66,415.93 281.22,415.43 281.77,414.86 282.32,414.25 282.88,413.6 283.43,412.95 283.98,412.31 284.54,411.7 285.09,411.14 285.64,410.65 286.2,410.24 286.75,409.95 287.31,409.77 287.86,409.68 288.41,409.66 288.97,409.71 289.52,409.81 290.07,409.95 290.63,410.11 291.18,410.28 291.74,410.44 292.29,410.58 292.84,410.69 293.4,410.75 293.95,410.78 294.5,410.82 295.06,410.85 295.61,410.88 296.16,410.91 296.72,410.93 297.27,410.93 297.83,410.93 298.38,410.91 298.93,410.88 299.49,410.82 300.04,410.75 300.59,410.64 301.15,410.48 301.7,410.28 302.25,410.05 302.81,409.82 303.36,409.57 303.92,409.34 304.47,409.14 305.02,408.96 305.58,408.83 306.13,408.75 306.68,408.75 307.24,408.82 307.79,408.97 308.34,409.18 308.9,409.43 309.45,409.72 310.01,410.02 310.56,410.34 311.11,410.65 311.67,410.93 312.22,411.19 312.77,411.4 313.33,411.55 313.88,411.65 314.44,411.71 314.99,411.75 315.54,411.76 316.1,411.75 316.65,411.73 317.2,411.69 317.76,411.65 318.31,411.62 318.86,411.58 319.42,411.56 319.97,411.55 320.53,411.56 321.08,411.57 321.63,411.59 322.19,411.61 322.74,411.63 323.29,411.65 323.85,411.66 324.4,411.67 324.95,411.66 325.51,411.64 326.06,411.61 326.62,411.55 327.17,411.47 327.72,411.35 328.28,411.21 328.83,411.05 329.38,410.88 329.94,410.7 330.49,410.53 331.05,410.36 331.6,410.22 332.15,410.1 332.71,410 333.26,409.95 333.81,409.94 334.37,409.96 334.92,410.02 335.47,410.1 336.03,410.19 336.58,410.3 337.14,410.41 337.69,410.51 338.24,410.61 338.8,410.68 339.35,410.73 339.9,410.75 340.46,410.74 341.01,410.7 341.56,410.64 342.12,410.57 342.67,410.49 343.23,410.4 343.78,410.31 344.33,410.22 344.89,410.13 345.44,410.06 345.99,409.99 346.55,409.95 347.12,409.92 347.73,409.9 348.36,409.89 349.01,409.89 349.65,409.89 350.29,409.9 350.89,409.91 351.47,409.92 352,409.93 352.47,409.94 352.87,409.95 353.19,409.95" fill="none" stroke="#f01010" stroke-width="1.8" stroke-linejoin="round" />
<line x1="240.24" y1="453.15" x2="240.24" y2="448.35" stroke="#f01010" stroke-width="1.1" />
<line x1="238.44" y1="453.15" x2="242.04" y2="453.15" stroke="#f01010" stroke-width="1.1" />
<line x1="238.44" y1="448.35" x2="242.04" y2="448.35" stroke="#f01010" stroke-width="1.1" />
<path d="M240.24,449.31 L241.68,451.95 L238.8,451.95 Z" fill="#f01010"/>
<line x1="246.89" y1="452.35" x2="246.89" y2="447.55" stroke="#f01010" stroke-width="1.1" />
<line x1="245.09" y1="452.35" x2="248.69" y2="452.35" stroke="#f01010" stroke-width="1.1" />
<line x1="245.09" y1="447.55" x2="248.69" y2="447.55" stroke="#f01010" stroke-width="1.1" />
<path d="M246.89,448.51 L248.33,451.15 L245.45,451.15 Z" fill="#f01010"/>
<line x1="253.53" y1="440.35" x2="253.53" y2="432.35" stroke="#f01010" stroke-width="1.1" />
<line x1="251.73" y1="440.35" x2="255.33" y2="440.35" stroke="#f01010" stroke-width="1.1" />
<line x1="251.73" y1="432.35" x2="255.33" y2="432.35" stroke="#f01010" stroke-width="1.1" />
<path d="M253.53,434.91 L254.97,437.55 L252.09,437.55 Z" fill="#f01010"/>
<line x1="260.18" y1="428.35" x2="260.18" y2="417.15" stroke="#f01010" stroke-width="1.1" />
<line x1="258.38" y1="428.35" x2="261.98" y2="428.35" stroke="#f01010" stroke-width="1.1" />
<line x1="258.38" y1="417.15" x2="261.98" y2="417.15" stroke="#f01010" stroke-width="1.1" />
<path d="M260.18,421.31 L261.62,423.95 L258.74,423.95 Z" fill="#f01010"/>
<line x1="266.82" y1="421.95" x2="266.82" y2="409.15" stroke="#f01010" stroke-width="1.1" />
<line x1="265.02" y1="421.95" x2="268.62" y2="421.95" stroke="#f01010" stroke-width="1.1" />
<line x1="265.02" y1="409.15" x2="268.62" y2="409.15" stroke="#f01010" stroke-width="1.1" />
<path d="M266.82,414.11 L268.26,416.75 L265.38,416.75 Z" fill="#f01010"/>
<line x1="273.46" y1="425.15" x2="273.46" y2="412.35" stroke="#f01010" stroke-width="1.1" />
<line x1="271.66" y1="425.15" x2="275.26" y2="425.15" stroke="#f01010" stroke-width="1.1" />
<line x1="271.66" y1="412.35" x2="275.26" y2="412.35" stroke="#f01010" stroke-width="1.1" />
<path d="M273.46,417.31 L274.9,419.95 L272.02,419.95 Z" fill="#f01010"/>
<line x1="280.11" y1="422.75" x2="280.11" y2="409.95" stroke="#f01010" stroke-width="1.1" />
<line x1="278.31" y1="422.75" x2="281.91" y2="422.75" stroke="#f01010" stroke-width="1.1" />
<line x1="278.31" y1="409.95" x2="281.91" y2="409.95" stroke="#f01010" stroke-width="1.1" />
<path d="M280.11,414.91 L281.55,417.55 L278.67,417.55 Z" fill="#f01010"/>
<line x1="286.75" y1="415.15" x2="286.75" y2="404.75" stroke="#f01010" stroke-width="1.1" />
<line x1="284.95" y1="415.15" x2="288.55" y2="415.15" stroke="#f01010" stroke-width="1.1" />
<line x1="284.95" y1="404.75" x2="288.55" y2="404.75" stroke="#f01010" stroke-width="1.1" />
<path d="M286.75,408.51 L288.19,411.15 L285.31,411.15 Z" fill="#f01010"/>
<line x1="293.4" y1="415.55" x2="293.4" y2="405.95" stroke="#f01010" stroke-width="1.1" />
<line x1="291.6" y1="415.55" x2="295.2" y2="415.55" stroke="#f01010" stroke-width="1.1" />
<line x1="291.6" y1="405.95" x2="295.2" y2="405.95" stroke="#f01010" stroke-width="1.1" />
<path d="M293.4,409.31 L294.84,411.95 L291.96,411.95 Z" fill="#f01010"/>
<line x1="300.04" y1="415.55" x2="300.04" y2="405.95" stroke="#f01010" stroke-width="1.1" />
<line x1="298.24" y1="415.55" x2="301.84" y2="415.55" stroke="#f01010" stroke-width="1.1" />
<line x1="298.24" y1="405.95" x2="301.84" y2="405.95" stroke="#f01010" stroke-width="1.1" />
<path d="M300.04,409.31 L301.48,411.95 L298.6,411.95 Z" fill="#f01010"/>
<line x1="306.68" y1="413.55" x2="306.68" y2="403.95" stroke="#f01010" stroke-width="1.1" />
<line x1="304.88" y1="413.55" x2="308.48" y2="413.55" stroke="#f01010" stroke-width="1.1" />
<line x1="304.88" y1="403.95" x2="308.48" y2="403.95" stroke="#f01010" stroke-width="1.1" />
<path d="M306.68,407.31 L308.12,409.95 L305.24,409.95 Z" fill="#f01010"/>
<line x1="313.33" y1="416.35" x2="313.33" y2="406.75" stroke="#f01010" stroke-width="1.1" />
<line x1="311.53" y1="416.35" x2="315.13" y2="416.35" stroke="#f01010" stroke-width="1.1" />
<line x1="311.53" y1="406.75" x2="315.13" y2="406.75" stroke="#f01010" stroke-width="1.1" />
<path d="M313.33,410.11 L314.77,412.75 L311.89,412.75 Z" fill="#f01010"/>
<line x1="319.97" y1="416.35" x2="319.97" y2="406.75" stroke="#f01010" stroke-width="1.1" />
<line x1="318.17" y1="416.35" x2="321.77" y2="416.35" stroke="#f01010" stroke-width="1.1" />
<line x1="318.17" y1="406.75" x2="321.77" y2="406.75" stroke="#f01010" stroke-width="1.1" />
<path d="M319.97,410.11 L321.41,412.75 L318.53,412.75 Z" fill="#f01010"/>
<line x1="326.62" y1="416.35" x2="326.62" y2="406.75" stroke="#f01010" stroke-width="1.1" />
<line x1="324.82" y1="416.35" x2="328.42" y2="416.35" stroke="#f01010" stroke-width="1.1" />
<line x1="324.82" y1="406.75" x2="328.42" y2="406.75" stroke="#f01010" stroke-width="1.1" />
<path d="M326.62,410.11 L328.06,412.75 L325.18,412.75 Z" fill="#f01010"/>
<line x1="333.26" y1="414.75" x2="333.26" y2="405.15" stroke="#f01010" stroke-width="1.1" />
<line x1="331.46" y1="414.75" x2="335.06" y2="414.75" stroke="#f01010" stroke-width="1.1" />
<line x1="331.46" y1="405.15" x2="335.06" y2="405.15" stroke="#f01010" stroke-width="1.1" />
<path d="M333.26,408.51 L334.7,411.15 L331.82,411.15 Z" fill="#f01010"/>
<line x1="339.9" y1="415.55" x2="339.9" y2="405.95" stroke="#f01010" stroke-width="1.1" />
<line x1="338.1" y1="415.55" x2="341.7" y2="415.55" stroke="#f01010" stroke-width="1.1" />
<line x1="338.1" y1="405.95" x2="341.7" y2="405.95" stroke="#f01010" stroke-width="1.1" />
<path d="M339.9,409.31 L341.34,411.95 L338.46,411.95 Z" fill="#f01010"/>
<line x1="346.55" y1="413.95" x2="346.55" y2="405.95" stroke="#f01010" stroke-width="1.1" />
<line x1="344.75" y1="413.95" x2="348.35" y2="413.95" stroke="#f01010" stroke-width="1.1" />
<line x1="344.75" y1="405.95" x2="348.35" y2="405.95" stroke="#f01010" stroke-width="1.1" />
<path d="M346.55,408.51 L347.99,411.15 L345.11,411.15 Z" fill="#f01010"/>
<line x1="353.19" y1="413.95" x2="353.19" y2="405.95" stroke="#f01010" stroke-width="1.1" />
<line x1="351.39" y1="413.95" x2="354.99" y2="413.95" stroke="#f01010" stroke-width="1.1" />
<line x1="351.39" y1="405.95" x2="354.99" y2="405.95" stroke="#f01010" stroke-width="1.1" />
<path d="M353.19,408.51 L354.63,411.15 L351.75,411.15 Z" fill="#f01010"/>
<polyline points="240.24,454.75 240.57,454.68 240.97,454.59 241.44,454.48 241.97,454.36 242.54,454.24 243.15,454.1 243.78,453.95 244.43,453.8 245.07,453.64 245.7,453.48 246.31,453.32 246.89,453.15 247.44,452.98 248,452.81 248.55,452.64 249.1,452.47 249.66,452.29 250.21,452.1 250.76,451.9 251.32,451.7 251.87,451.48 252.42,451.25 252.98,451.01 253.53,450.75 254.09,450.47 254.64,450.17 255.19,449.84 255.75,449.51 256.3,449.16 256.85,448.8 257.41,448.44 257.96,448.08 258.52,447.73 259.07,447.39 259.62,447.06 260.18,446.75 260.73,446.46 261.28,446.2 261.84,445.95 262.39,445.71 262.94,445.48 263.5,445.25 264.05,445.01 264.61,444.76 265.16,444.5 265.71,444.21 266.27,443.9 266.82,443.55 267.37,443.16 267.93,442.72 268.48,442.24 269.03,441.74 269.59,441.22 270.14,440.7 270.7,440.18 271.25,439.67 271.8,439.18 272.36,438.73 272.91,438.31 273.46,437.95 274.02,437.64 274.57,437.36 275.12,437.11 275.68,436.88 276.23,436.68 276.79,436.5 277.34,436.33 277.89,436.17 278.45,436.02 279,435.87 279.55,435.71 280.11,435.55 280.66,435.39 281.22,435.25 281.77,435.11 282.32,434.99 282.88,434.87 283.43,434.75 283.98,434.63 284.54,434.51 285.09,434.39 285.64,434.25 286.2,434.11 286.75,433.95 287.31,433.77 287.86,433.55 288.41,433.31 288.97,433.06 289.52,432.8 290.07,432.55 290.63,432.31 291.18,432.08 291.74,431.89 292.29,431.73 292.84,431.61 293.4,431.55 293.95,431.55 294.5,431.62 295.06,431.74 295.61,431.91 296.16,432.1 296.72,432.3 297.27,432.51 297.83,432.71 298.38,432.88 298.93,433.02 299.49,433.12 300.04,433.15 300.59,433.13 301.15,433.08 301.7,432.99 302.25,432.88 302.81,432.75 303.36,432.6 303.92,432.44 304.47,432.26 305.02,432.08 305.58,431.9 306.13,431.72 306.68,431.55 307.24,431.38 307.79,431.21 308.34,431.04 308.9,430.87 309.45,430.69 310.01,430.5 310.56,430.3 311.11,430.1 311.67,429.88 312.22,429.65 312.77,429.41 313.33,429.15 313.88,428.86 314.44,428.53 314.99,428.17 315.54,427.79 316.1,427.39 316.65,427 317.2,426.61 317.76,426.25 318.31,425.91 318.86,425.6 319.42,425.35 319.97,425.15 320.53,425.01 321.08,424.91 321.63,424.85 322.19,424.82 322.74,424.83 323.29,424.85 323.85,424.89 324.4,424.94 324.95,425 325.51,425.06 326.06,425.11 326.62,425.15 327.17,425.19 327.72,425.24 328.28,425.29 328.83,425.36 329.38,425.43 329.94,425.5 330.49,425.58 331.05,425.65 331.6,425.73 332.15,425.81 332.71,425.88 333.26,425.95 333.81,426.02 334.37,426.11 334.92,426.2 335.47,426.29 336.03,426.38 336.58,426.48 337.14,426.56 337.69,426.63 338.24,426.69 338.8,426.73 339.35,426.75 339.9,426.75 340.46,426.72 341.01,426.67 341.56,426.59 342.12,426.5 342.67,426.39 343.23,426.27 343.78,426.15 344.33,426.02 344.89,425.9 345.44,425.77 345.99,425.66 346.55,425.55 347.12,425.45 347.73,425.34 348.36,425.22 349.01,425.11 349.65,424.99 350.29,424.88 350.89,424.76 351.47,424.66 352,424.57 352.47,424.48 352.87,424.41 353.19,424.35" fill="none" stroke="#1a14dc" stroke-width="1.8" stroke-linejoin="round" />
<line x1="240.24" y1="455.55" x2="240.24" y2="453.95" stroke="#1a14dc" stroke-width="1.1" />
<line x1="238.44" y1="455.55" x2="242.04" y2="455.55" stroke="#1a14dc" stroke-width="1.1" />
<line x1="238.44" y1="453.95" x2="242.04" y2="453.95" stroke="#1a14dc" stroke-width="1.1" />
<path d="M240.24,453.31 L241.68,455.95 L238.8,455.95 Z" fill="#1a14dc"/>
<line x1="246.89" y1="453.95" x2="246.89" y2="452.35" stroke="#1a14dc" stroke-width="1.1" />
<line x1="245.09" y1="453.95" x2="248.69" y2="453.95" stroke="#1a14dc" stroke-width="1.1" />
<line x1="245.09" y1="452.35" x2="248.69" y2="452.35" stroke="#1a14dc" stroke-width="1.1" />
<path d="M246.89,451.71 L248.33,454.35 L245.45,454.35 Z" fill="#1a14dc"/>
<line x1="253.53" y1="451.95" x2="253.53" y2="449.55" stroke="#1a14dc" stroke-width="1.1" />
<line x1="251.73" y1="451.95" x2="255.33" y2="451.95" stroke="#1a14dc" stroke-width="1.1" />
<line x1="251.73" y1="449.55" x2="255.33" y2="449.55" stroke="#1a14dc" stroke-width="1.1" />
<path d="M253.53,449.31 L254.97,451.95 L252.09,451.95 Z" fill="#1a14dc"/>
<line x1="260.18" y1="448.35" x2="260.18" y2="445.15" stroke="#1a14dc" stroke-width="1.1" />
<line x1="258.38" y1="448.35" x2="261.98" y2="448.35" stroke="#1a14dc" stroke-width="1.1" />
<line x1="258.38" y1="445.15" x2="261.98" y2="445.15" stroke="#1a14dc" stroke-width="1.1" />
<path d="M260.18,445.31 L261.62,447.95 L258.74,447.95 Z" fill="#1a14dc"/>
<line x1="266.82" y1="445.95" x2="266.82" y2="441.15" stroke="#1a14dc" stroke-width="1.1" />
<line x1="265.02" y1="445.95" x2="268.62" y2="445.95" stroke="#1a14dc" stroke-width="1.1" />
<line x1="265.02" y1="441.15" x2="268.62" y2="441.15" stroke="#1a14dc" stroke-width="1.1" />
<path d="M266.82,442.11 L268.26,444.75 L265.38,444.75 Z" fill="#1a14dc"/>
<line x1="273.46" y1="439.55" x2="273.46" y2="436.35" stroke="#1a14dc" stroke-width="1.1" />
<line x1="271.66" y1="439.55" x2="275.26" y2="439.55" stroke="#1a14dc" stroke-width="1.1" />
<line x1="271.66" y1="436.35" x2="275.26" y2="436.35" stroke="#1a14dc" stroke-width="1.1" />
<path d="M273.46,436.51 L274.9,439.15 L272.02,439.15 Z" fill="#1a14dc"/>
<line x1="280.11" y1="437.15" x2="280.11" y2="433.95" stroke="#1a14dc" stroke-width="1.1" />
<line x1="278.31" y1="437.15" x2="281.91" y2="437.15" stroke="#1a14dc" stroke-width="1.1" />
<line x1="278.31" y1="433.95" x2="281.91" y2="433.95" stroke="#1a14dc" stroke-width="1.1" />
<path d="M280.11,434.11 L281.55,436.75 L278.67,436.75 Z" fill="#1a14dc"/>
<line x1="286.75" y1="435.15" x2="286.75" y2="432.75" stroke="#1a14dc" stroke-width="1.1" />
<line x1="284.95" y1="435.15" x2="288.55" y2="435.15" stroke="#1a14dc" stroke-width="1.1" />
<line x1="284.95" y1="432.75" x2="288.55" y2="432.75" stroke="#1a14dc" stroke-width="1.1" />
<path d="M286.75,432.51 L288.19,435.15 L285.31,435.15 Z" fill="#1a14dc"/>
<line x1="293.4" y1="432.75" x2="293.4" y2="430.35" stroke="#1a14dc" stroke-width="1.1" />
<line x1="291.6" y1="432.75" x2="295.2" y2="432.75" stroke="#1a14dc" stroke-width="1.1" />
<line x1="291.6" y1="430.35" x2="295.2" y2="430.35" stroke="#1a14dc" stroke-width="1.1" />
<path d="M293.4,430.11 L294.84,432.75 L291.96,432.75 Z" fill="#1a14dc"/>
<line x1="300.04" y1="434.35" x2="300.04" y2="431.95" stroke="#1a14dc" stroke-width="1.1" />
<line x1="298.24" y1="434.35" x2="301.84" y2="434.35" stroke="#1a14dc" stroke-width="1.1" />
<line x1="298.24" y1="431.95" x2="301.84" y2="431.95" stroke="#1a14dc" stroke-width="1.1" />
<path d="M300.04,431.71 L301.48,434.35 L298.6,434.35 Z" fill="#1a14dc"/>
<line x1="306.68" y1="433.15" x2="306.68" y2="429.95" stroke="#1a14dc" stroke-width="1.1" />
<line x1="304.88" y1="433.15" x2="308.48" y2="433.15" stroke="#1a14dc" stroke-width="1.1" />
<line x1="304.88" y1="429.95" x2="308.48" y2="429.95" stroke="#1a14dc" stroke-width="1.1" />
<path d="M306.68,430.11 L308.12,432.75 L305.24,432.75 Z" fill="#1a14dc"/>
<line x1="313.33" y1="431.55" x2="313.33" y2="426.75" stroke="#1a14dc" stroke-width="1.1" />
<line x1="311.53" y1="431.55" x2="315.13" y2="431.55" stroke="#1a14dc" stroke-width="1.1" />
<line x1="311.53" y1="426.75" x2="315.13" y2="426.75" stroke="#1a14dc" stroke-width="1.1" />
<path d="M313.33,427.71 L314.77,430.35 L311.89,430.35 Z" fill="#1a14dc"/>
<line x1="319.97" y1="428.35" x2="319.97" y2="421.95" stroke="#1a14dc" stroke-width="1.1" />
<line x1="318.17" y1="428.35" x2="321.77" y2="428.35" stroke="#1a14dc" stroke-width="1.1" />
<line x1="318.17" y1="421.95" x2="321.77" y2="421.95" stroke="#1a14dc" stroke-width="1.1" />
<path d="M319.97,423.71 L321.41,426.35 L318.53,426.35 Z" fill="#1a14dc"/>
<line x1="326.62" y1="428.35" x2="326.62" y2="421.95" stroke="#1a14dc" stroke-width="1.1" />
<line x1="324.82" y1="428.35" x2="328.42" y2="428.35" stroke="#1a14dc" stroke-width="1.1" />
<line x1="324.82" y1="421.95" x2="328.42" y2="421.95" stroke="#1a14dc" stroke-width="1.1" />
<path d="M326.62,423.71 L328.06,426.35 L325.18,426.35 Z" fill="#1a14dc"/>
<line x1="333.26" y1="428.35" x2="333.26" y2="423.55" stroke="#1a14dc" stroke-width="1.1" />
<line x1="331.46" y1="428.35" x2="335.06" y2="428.35" stroke="#1a14dc" stroke-width="1.1" />
<line x1="331.46" y1="423.55" x2="335.06" y2="423.55" stroke="#1a14dc" stroke-width="1.1" />
<path d="M333.26,424.51 L334.7,427.15 L331.82,427.15 Z" fill="#1a14dc"/>
<line x1="339.9" y1="429.15" x2="339.9" y2="424.35" stroke="#1a14dc" stroke-width="1.1" />
<line x1="338.1" y1="429.15" x2="341.7" y2="429.15" stroke="#1a14dc" stroke-width="1.1" />
<line x1="338.1" y1="424.35" x2="341.7" y2="424.35" stroke="#1a14dc" stroke-width="1.1" />
<path d="M339.9,425.31 L341.34,427.95 L338.46,427.95 Z" fill="#1a14dc"/>
<line x1="346.55" y1="427.95" x2="346.55" y2="423.15" stroke="#1a14dc" stroke-width="1.1" />
<line x1="344.75" y1="427.95" x2="348.35" y2="427.95" stroke="#1a14dc" stroke-width="1.1" />
<line x1="344.75" y1="423.15" x2="348.35" y2="423.15" stroke="#1a14dc" stroke-width="1.1" />
<path d="M346.55,424.11 L347.99,426.75 L345.11,426.75 Z" fill="#1a14dc"/>
<line x1="353.19" y1="427.55" x2="353.19" y2="421.15" stroke="#1a14dc" stroke-width="1.1" />
<line x1="351.39" y1="427.55" x2="354.99" y2="427.55" stroke="#1a14dc" stroke-width="1.1" />
<line x1="351.39" y1="421.15" x2="354.99" y2="421.15" stroke="#1a14dc" stroke-width="1.1" />
<path d="M353.19,422.91 L354.63,425.55 L351.75,425.55 Z" fill="#1a14dc"/>
<polyline points="240.24,457.15 240.57,457.15 240.97,457.15 241.44,457.15 241.97,457.15 242.54,457.15 243.15,457.15 243.78,457.15 244.43,457.15 245.07,457.15 245.7,457.15 246.31,457.15 246.89,457.15 247.44,457.15 248,457.15 248.55,457.15 249.1,457.15 249.66,457.15 250.21,457.15 250.76,457.15 251.32,457.15 251.87,457.15 252.42,457.15 252.98,457.15 253.53,457.15 254.09,457.15 254.64,457.15 255.19,457.15 255.75,457.15 256.3,457.15 256.85,457.15 257.41,457.15 257.96,457.15 258.52,457.15 259.07,457.15 259.62,457.15 260.18,457.15 260.73,457.15 261.28,457.14 261.84,457.13 262.39,457.11 262.94,457.1 263.5,457.09 264.05,457.08 264.61,457.08 265.16,457.08 265.71,457.09 266.27,457.12 266.82,457.15 267.37,457.2 267.93,457.27 268.48,457.34 269.03,457.43 269.59,457.53 270.14,457.63 270.7,457.73 271.25,457.83 271.8,457.91 272.36,457.99 272.91,458.06 273.46,458.11 274.02,458.14 274.57,458.17 275.12,458.18 275.68,458.18 276.23,458.18 276.79,458.17 277.34,458.16 277.89,458.15 278.45,458.13 279,458.12 279.55,458.11 280.11,458.11 280.66,458.11 281.22,458.11 281.77,458.11 282.32,458.11 282.88,458.11 283.43,458.11 283.98,458.11 284.54,458.11 285.09,458.11 285.64,458.11 286.2,458.11 286.75,458.11 287.31,458.11 287.86,458.11 288.41,458.11 288.97,458.11 289.52,458.11 290.07,458.11 290.63,458.11 291.18,458.11 291.74,458.11 292.29,458.11 292.84,458.11 293.4,458.11 293.95,458.11 294.5,458.11 295.06,458.11 295.61,458.11 296.16,458.11 296.72,458.11 297.27,458.11 297.83,458.11 298.38,458.11 298.93,458.11 299.49,458.11 300.04,458.11 300.59,458.11 301.15,458.11 301.7,458.11 302.25,458.11 302.81,458.11 303.36,458.11 303.92,458.11 304.47,458.11 305.02,458.11 305.58,458.11 306.13,458.11 306.68,458.11 307.24,458.11 307.79,458.11 308.34,458.11 308.9,458.11 309.45,458.11 310.01,458.11 310.56,458.11 311.11,458.11 311.67,458.11 312.22,458.11 312.77,458.11 313.33,458.11 313.88,458.11 314.44,458.11 314.99,458.11 315.54,458.11 316.1,458.11 316.65,458.11 317.2,458.11 317.76,458.11 318.31,458.11 318.86,458.11 319.42,458.11 319.97,458.11 320.53,458.11 321.08,458.11 321.63,458.11 322.19,458.11 322.74,458.11 323.29,458.11 323.85,458.11 324.4,458.11 324.95,458.11 325.51,458.11 326.06,458.11 326.62,458.11 327.17,458.11 327.72,458.11 328.28,458.11 328.83,458.11 329.38,458.11 329.94,458.11 330.49,458.11 331.05,458.11 331.6,458.11 332.15,458.11 332.71,458.11 333.26,458.11 333.81,458.11 334.37,458.11 334.92,458.11 335.47,458.11 336.03,458.11 336.58,458.11 337.14,458.11 337.69,458.11 338.24,458.11 338.8,458.11 339.35,458.11 339.9,458.11 340.46,458.11 341.01,458.11 341.56,458.11 342.12,458.11 342.67,458.11 343.23,458.11 343.78,458.11 344.33,458.11 344.89,458.11 345.44,458.11 345.99,458.11 346.55,458.11 347.12,458.11 347.73,458.11 348.36,458.11 349.01,458.11 349.65,458.11 350.29,458.11 350.89,458.11 351.47,458.11 352,458.11 352.47,458.11 352.87,458.11 353.19,458.11" fill="none" stroke="#1ec21e" stroke-width="1.9" stroke-linejoin="round" />
<rect x="239.14" y="456.05" width="2.2" height="2.2" fill="#1ec21e"/>
<rect x="245.79" y="456.05" width="2.2" height="2.2" fill="#1ec21e"/>
<rect x="252.43" y="456.05" width="2.2" height="2.2" fill="#1ec21e"/>
<rect x="259.08" y="456.05" width="2.2" height="2.2" fill="#1ec21e"/>
<rect x="265.72" y="456.05" width="2.2" height="2.2" fill="#1ec21e"/>
<rect x="272.36" y="457.01" width="2.2" height="2.2" fill="#1ec21e"/>
<rect x="279.01" y="457.01" width="2.2" height="2.2" fill="#1ec21e"/>
<rect x="285.65" y="457.01" width="2.2" height="2.2" fill="#1ec21e"/>
<rect x="292.3" y="457.01" width="2.2" height="2.2" fill="#1ec21e"/>
<rect x="298.94" y="457.01" width="2.2" height="2.2" fill="#1ec21e"/>
<rect x="305.58" y="457.01" width="2.2" height="2.2" fill="#1ec21e"/>
<rect x="312.23" y="457.01" width="2.2" height="2.2" fill="#1ec21e"/>
<rect x="318.87" y="457.01" width="2.2" height="2.2" fill="#1ec21e"/>
<rect x="325.52" y="457.01" width="2.2" height="2.2" fill="#1ec21e"/>
<rect x="332.16" y="457.01" width="2.2" height="2.2" fill="#1ec21e"/>
<rect x="338.8" y="457.01" width="2.2" height="2.2" fill="#1ec21e"/>
<rect x="345.45" y="457.01" width="2.2" height="2.2" fill="#1ec21e"/>
<rect x="352.09" y="457.01" width="2.2" height="2.2" fill="#1ec21e"/>
<g transform="translate(209.7,418.7) rotate(-90)">
<text x="0" y="3.46" font-size="9.6" font-weight="bold" text-anchor="middle" textLength="34.2" lengthAdjust="spacingAndGlyphs">% Cells</text>
</g>
<text x="276.1" y="481.3" font-size="10.3" font-weight="bold" text-anchor="start" fill="#000" textLength="35.8" lengthAdjust="spacingAndGlyphs" >Time (s)</text>
<text x="423.4" y="366.9" font-size="10" font-weight="bold" text-anchor="start" fill="#000" textLength="62.4" lengthAdjust="spacingAndGlyphs" >Polarization</text>
<line x1="393.8" y1="379.45" x2="393.8" y2="458.9" stroke="#000" stroke-width="1.5" />
<line x1="390.9" y1="458.9" x2="393.8" y2="458.9" stroke="#000" stroke-width="1.4" />
<text x="390.6" y="461.02" font-size="5.9" font-weight="bold" text-anchor="end" fill="#000"  stroke="#000" stroke-width="0.22">0</text>
<line x1="390.9" y1="438.85" x2="393.8" y2="438.85" stroke="#000" stroke-width="1.4" />
<text x="390.6" y="440.97" font-size="5.9" font-weight="bold" text-anchor="end" fill="#000"  stroke="#000" stroke-width="0.22">25</text>
<line x1="390.9" y1="418.8" x2="393.8" y2="418.8" stroke="#000" stroke-width="1.4" />
<text x="390.6" y="420.92" font-size="5.9" font-weight="bold" text-anchor="end" fill="#000"  stroke="#000" stroke-width="0.22">50</text>
<line x1="390.9" y1="398.75" x2="393.8" y2="398.75" stroke="#000" stroke-width="1.4" />
<text x="390.6" y="400.87" font-size="5.9" font-weight="bold" text-anchor="end" fill="#000"  stroke="#000" stroke-width="0.22">75</text>
<line x1="390.9" y1="378.7" x2="393.8" y2="378.7" stroke="#000" stroke-width="1.4" />
<text x="390.6" y="380.82" font-size="5.9" font-weight="bold" text-anchor="end" fill="#000"  stroke="#000" stroke-width="0.22">100</text>
<line x1="393.8" y1="458.9" x2="513.6" y2="458.9" stroke="#000" stroke-width="1.5" />
<line x1="393.8" y1="458.9" x2="393.8" y2="461.1" stroke="#000" stroke-width="1.4" />
<text x="393.8" y="467.1" font-size="5.9" font-weight="bold" text-anchor="middle" fill="#000"  stroke="#000" stroke-width="0.22">0</text>
<line x1="407.1" y1="458.9" x2="407.1" y2="461.1" stroke="#000" stroke-width="1.4" />
<text x="407.1" y="467.1" font-size="5.9" font-weight="bold" text-anchor="middle" fill="#000"  stroke="#000" stroke-width="0.22">20</text>
<line x1="420.4" y1="458.9" x2="420.4" y2="461.1" stroke="#000" stroke-width="1.4" />
<text x="420.4" y="467.1" font-size="5.9" font-weight="bold" text-anchor="middle" fill="#000"  stroke="#000" stroke-width="0.22">40</text>
<line x1="433.7" y1="458.9" x2="433.7" y2="461.1" stroke="#000" stroke-width="1.4" />
<text x="433.7" y="467.1" font-size="5.9" font-weight="bold" text-anchor="middle" fill="#000"  stroke="#000" stroke-width="0.22">60</text>
<line x1="447" y1="458.9" x2="447" y2="461.1" stroke="#000" stroke-width="1.4" />
<text x="447" y="467.1" font-size="5.9" font-weight="bold" text-anchor="middle" fill="#000"  stroke="#000" stroke-width="0.22">80</text>
<line x1="460.3" y1="458.9" x2="460.3" y2="461.1" stroke="#000" stroke-width="1.4" />
<text x="460.3" y="467.1" font-size="5.9" font-weight="bold" text-anchor="middle" fill="#000"  stroke="#000" stroke-width="0.22">100</text>
<line x1="473.6" y1="458.9" x2="473.6" y2="461.1" stroke="#000" stroke-width="1.4" />
<text x="473.6" y="467.1" font-size="5.9" font-weight="bold" text-anchor="middle" fill="#000"  stroke="#000" stroke-width="0.22">120</text>
<line x1="486.9" y1="458.9" x2="486.9" y2="461.1" stroke="#000" stroke-width="1.4" />
<text x="486.9" y="467.1" font-size="5.9" font-weight="bold" text-anchor="middle" fill="#000"  stroke="#000" stroke-width="0.22">140</text>
<line x1="500.2" y1="458.9" x2="500.2" y2="461.1" stroke="#000" stroke-width="1.4" />
<text x="500.2" y="467.1" font-size="5.9" font-weight="bold" text-anchor="middle" fill="#000"  stroke="#000" stroke-width="0.22">160</text>
<line x1="513.5" y1="458.9" x2="513.5" y2="461.1" stroke="#000" stroke-width="1.4" />
<text x="513.5" y="467.1" font-size="5.9" font-weight="bold" text-anchor="middle" fill="#000"  stroke="#000" stroke-width="0.22">180</text>
<polyline points="400.45,458.9 400.77,458.9 401.17,458.9 401.64,458.9 402.17,458.9 402.75,458.9 403.36,458.9 403.99,458.9 404.64,458.9 405.28,458.9 405.91,458.9 406.52,458.9 407.1,458.9 407.65,458.91 408.21,458.92 408.76,458.94 409.32,458.96 409.87,458.98 410.43,459 410.98,459.01 411.53,459.02 412.09,459.01 412.64,458.99 413.2,458.96 413.75,458.9 414.3,458.82 414.86,458.71 415.41,458.58 415.97,458.44 416.52,458.28 417.07,458.12 417.63,457.96 418.18,457.8 418.74,457.65 419.29,457.51 419.85,457.39 420.4,457.3 420.95,457.22 421.51,457.16 422.06,457.11 422.62,457.07 423.17,457.04 423.73,457.02 424.28,457 424.83,456.98 425.39,456.97 425.94,456.95 426.5,456.92 427.05,456.89 427.6,456.87 428.16,456.86 428.71,456.86 429.27,456.87 429.82,456.87 430.38,456.87 430.93,456.86 431.48,456.84 432.04,456.79 432.59,456.72 433.15,456.63 433.7,456.49 434.25,456.33 434.81,456.14 435.36,455.93 435.92,455.69 436.47,455.44 437.03,455.17 437.58,454.88 438.13,454.58 438.69,454.27 439.24,453.95 439.8,453.62 440.35,453.29 440.9,452.94 441.46,452.57 442.01,452.19 442.57,451.79 443.12,451.37 443.68,450.96 444.23,450.53 444.78,450.11 445.34,449.69 445.89,449.27 446.45,448.87 447,448.47 447.55,448.09 448.11,447.7 448.66,447.31 449.22,446.91 449.77,446.53 450.32,446.14 450.88,445.77 451.43,445.4 451.99,445.04 452.54,444.7 453.1,444.37 453.65,444.06 454.2,443.77 454.76,443.51 455.31,443.26 455.87,443.02 456.42,442.8 456.98,442.58 457.53,442.37 458.08,442.16 458.64,441.95 459.19,441.73 459.75,441.5 460.3,441.26 460.85,441.01 461.41,440.75 461.96,440.5 462.52,440.25 463.07,439.99 463.63,439.73 464.18,439.46 464.73,439.19 465.29,438.92 465.84,438.63 466.4,438.34 466.95,438.05 467.5,437.74 468.06,437.43 468.61,437.1 469.17,436.77 469.72,436.43 470.28,436.09 470.83,435.75 471.38,435.4 471.94,435.06 472.49,434.72 473.05,434.37 473.6,434.04 474.15,433.71 474.71,433.39 475.26,433.08 475.82,432.78 476.37,432.47 476.93,432.16 477.48,431.84 478.03,431.51 478.59,431.17 479.14,430.81 479.7,430.43 480.25,430.03 480.8,429.6 481.36,429.14 481.91,428.67 482.47,428.17 483.02,427.66 483.57,427.15 484.13,426.62 484.68,426.09 485.24,425.56 485.79,425.04 486.35,424.52 486.9,424.01 487.45,423.5 488.01,422.98 488.56,422.45 489.12,421.92 489.67,421.38 490.23,420.86 490.78,420.33 491.33,419.82 491.89,419.33 492.44,418.86 493,418.42 493.55,418 494.1,417.61 494.66,417.25 495.21,416.91 495.77,416.59 496.32,416.28 496.88,415.99 497.43,415.71 497.98,415.44 498.54,415.18 499.09,414.92 499.65,414.65 500.2,414.39 500.75,414.12 501.31,413.84 501.86,413.57 502.42,413.29 502.97,413.02 503.53,412.76 504.08,412.51 504.63,412.28 505.19,412.07 505.74,411.88 506.3,411.72 506.85,411.58 507.43,411.48 508.04,411.42 508.67,411.38 509.31,411.37 509.96,411.38 510.59,411.41 511.2,411.44 511.78,411.48 512.31,411.52 512.78,411.55 513.18,411.57 513.5,411.58" fill="none" stroke="#000" stroke-width="1.8" stroke-linejoin="round" />
<rect x="399.25" y="457.7" width="2.4" height="2.4" fill="#000"/>
<rect x="405.9" y="457.7" width="2.4" height="2.4" fill="#000"/>
<rect x="412.55" y="457.7" width="2.4" height="2.4" fill="#000"/>
<line x1="420.4" y1="458.9" x2="420.4" y2="455.69" stroke="#000" stroke-width="1.1" />
<line x1="418.6" y1="458.9" x2="422.2" y2="458.9" stroke="#000" stroke-width="1.1" />
<line x1="418.6" y1="455.69" x2="422.2" y2="455.69" stroke="#000" stroke-width="1.1" />
<rect x="419.2" y="456.1" width="2.4" height="2.4" fill="#000"/>
<line x1="427.05" y1="459.3" x2="427.05" y2="454.49" stroke="#000" stroke-width="1.1" />
<line x1="425.25" y1="459.3" x2="428.85" y2="459.3" stroke="#000" stroke-width="1.1" />
<line x1="425.25" y1="454.49" x2="428.85" y2="454.49" stroke="#000" stroke-width="1.1" />
<rect x="425.85" y="455.69" width="2.4" height="2.4" fill="#000"/>
<line x1="433.7" y1="458.9" x2="433.7" y2="454.09" stroke="#000" stroke-width="1.1" />
<line x1="431.9" y1="458.9" x2="435.5" y2="458.9" stroke="#000" stroke-width="1.1" />
<line x1="431.9" y1="454.09" x2="435.5" y2="454.09" stroke="#000" stroke-width="1.1" />
<rect x="432.5" y="455.29" width="2.4" height="2.4" fill="#000"/>
<line x1="440.35" y1="456.49" x2="440.35" y2="450.08" stroke="#000" stroke-width="1.1" />
<line x1="438.55" y1="456.49" x2="442.15" y2="456.49" stroke="#000" stroke-width="1.1" />
<line x1="438.55" y1="450.08" x2="442.15" y2="450.08" stroke="#000" stroke-width="1.1" />
<rect x="439.15" y="452.09" width="2.4" height="2.4" fill="#000"/>
<line x1="447" y1="452.88" x2="447" y2="444.06" stroke="#000" stroke-width="1.1" />
<line x1="445.2" y1="452.88" x2="448.8" y2="452.88" stroke="#000" stroke-width="1.1" />
<line x1="445.2" y1="444.06" x2="448.8" y2="444.06" stroke="#000" stroke-width="1.1" />
<rect x="445.8" y="447.27" width="2.4" height="2.4" fill="#000"/>
<line x1="453.65" y1="448.88" x2="453.65" y2="439.25" stroke="#000" stroke-width="1.1" />
<line x1="451.85" y1="448.88" x2="455.45" y2="448.88" stroke="#000" stroke-width="1.1" />
<line x1="451.85" y1="439.25" x2="455.45" y2="439.25" stroke="#000" stroke-width="1.1" />
<rect x="452.45" y="442.86" width="2.4" height="2.4" fill="#000"/>
<line x1="460.3" y1="445.67" x2="460.3" y2="436.84" stroke="#000" stroke-width="1.1" />
<line x1="458.5" y1="445.67" x2="462.1" y2="445.67" stroke="#000" stroke-width="1.1" />
<line x1="458.5" y1="436.84" x2="462.1" y2="436.84" stroke="#000" stroke-width="1.1" />
<rect x="459.1" y="440.06" width="2.4" height="2.4" fill="#000"/>
<line x1="466.95" y1="442.46" x2="466.95" y2="433.64" stroke="#000" stroke-width="1.1" />
<line x1="465.15" y1="442.46" x2="468.75" y2="442.46" stroke="#000" stroke-width="1.1" />
<line x1="465.15" y1="433.64" x2="468.75" y2="433.64" stroke="#000" stroke-width="1.1" />
<rect x="465.75" y="436.85" width="2.4" height="2.4" fill="#000"/>
<line x1="473.6" y1="438.05" x2="473.6" y2="430.03" stroke="#000" stroke-width="1.1" />
<line x1="471.8" y1="438.05" x2="475.4" y2="438.05" stroke="#000" stroke-width="1.1" />
<line x1="471.8" y1="430.03" x2="475.4" y2="430.03" stroke="#000" stroke-width="1.1" />
<rect x="472.4" y="432.84" width="2.4" height="2.4" fill="#000"/>
<line x1="480.25" y1="434.44" x2="480.25" y2="425.62" stroke="#000" stroke-width="1.1" />
<line x1="478.45" y1="434.44" x2="482.05" y2="434.44" stroke="#000" stroke-width="1.1" />
<line x1="478.45" y1="425.62" x2="482.05" y2="425.62" stroke="#000" stroke-width="1.1" />
<rect x="479.05" y="428.83" width="2.4" height="2.4" fill="#000"/>
<line x1="486.9" y1="428.42" x2="486.9" y2="419.6" stroke="#000" stroke-width="1.1" />
<line x1="485.1" y1="428.42" x2="488.7" y2="428.42" stroke="#000" stroke-width="1.1" />
<line x1="485.1" y1="419.6" x2="488.7" y2="419.6" stroke="#000" stroke-width="1.1" />
<rect x="485.7" y="422.81" width="2.4" height="2.4" fill="#000"/>
<line x1="493.55" y1="421.61" x2="493.55" y2="414.39" stroke="#000" stroke-width="1.1" />
<line x1="491.75" y1="421.61" x2="495.35" y2="421.61" stroke="#000" stroke-width="1.1" />
<line x1="491.75" y1="414.39" x2="495.35" y2="414.39" stroke="#000" stroke-width="1.1" />
<rect x="492.35" y="416.8" width="2.4" height="2.4" fill="#000"/>
<line x1="500.2" y1="417.6" x2="500.2" y2="411.18" stroke="#000" stroke-width="1.1" />
<line x1="498.4" y1="417.6" x2="502" y2="417.6" stroke="#000" stroke-width="1.1" />
<line x1="498.4" y1="411.18" x2="502" y2="411.18" stroke="#000" stroke-width="1.1" />
<rect x="499" y="413.19" width="2.4" height="2.4" fill="#000"/>
<line x1="506.85" y1="414.79" x2="506.85" y2="408.37" stroke="#000" stroke-width="1.1" />
<line x1="505.05" y1="414.79" x2="508.65" y2="414.79" stroke="#000" stroke-width="1.1" />
<line x1="505.05" y1="408.37" x2="508.65" y2="408.37" stroke="#000" stroke-width="1.1" />
<rect x="505.65" y="410.38" width="2.4" height="2.4" fill="#000"/>
<line x1="513.5" y1="414.79" x2="513.5" y2="408.37" stroke="#000" stroke-width="1.1" />
<line x1="511.7" y1="414.79" x2="515.3" y2="414.79" stroke="#000" stroke-width="1.1" />
<line x1="511.7" y1="408.37" x2="515.3" y2="408.37" stroke="#000" stroke-width="1.1" />
<rect x="512.3" y="410.38" width="2.4" height="2.4" fill="#000"/>
<polyline points="400.45,458.9 400.77,458.9 401.17,458.9 401.64,458.9 402.17,458.9 402.75,458.9 403.36,458.9 403.99,458.9 404.64,458.9 405.28,458.9 405.91,458.9 406.52,458.9 407.1,458.9 407.65,458.9 408.21,458.9 408.76,458.91 409.32,458.91 409.87,458.92 410.43,458.93 410.98,458.93 411.53,458.93 412.09,458.93 412.64,458.92 413.2,458.91 413.75,458.9 414.3,458.88 414.86,458.86 415.41,458.83 415.97,458.8 416.52,458.76 417.07,458.72 417.63,458.69 418.18,458.65 418.74,458.61 419.29,458.57 419.85,458.53 420.4,458.5 420.95,458.47 421.51,458.43 422.06,458.4 422.62,458.37 423.17,458.33 423.73,458.3 424.28,458.27 424.83,458.23 425.39,458.2 425.94,458.16 426.5,458.13 427.05,458.1 427.6,458.06 428.16,458.03 428.71,458 429.27,457.96 429.82,457.93 430.38,457.9 430.93,457.86 431.48,457.83 432.04,457.8 432.59,457.76 433.15,457.73 433.7,457.7 434.25,457.68 434.81,457.68 435.36,457.7 435.92,457.73 436.47,457.75 437.03,457.77 437.58,457.78 438.13,457.76 438.69,457.71 439.24,457.62 439.8,457.48 440.35,457.3 440.9,457.04 441.46,456.7 442.01,456.31 442.57,455.87 443.12,455.4 443.68,454.92 444.23,454.43 444.78,453.95 445.34,453.51 445.89,453.1 446.45,452.76 447,452.48 447.55,452.28 448.11,452.13 448.66,452.02 449.22,451.95 449.77,451.91 450.32,451.88 450.88,451.87 451.43,451.86 451.99,451.84 452.54,451.82 453.1,451.76 453.65,451.68 454.2,451.58 454.76,451.49 455.31,451.39 455.87,451.3 456.42,451.19 456.98,451.08 457.53,450.96 458.08,450.82 458.64,450.67 459.19,450.49 459.75,450.3 460.3,450.08 460.85,449.83 461.41,449.54 461.96,449.23 462.52,448.89 463.07,448.54 463.63,448.17 464.18,447.8 464.73,447.43 465.29,447.07 465.84,446.72 466.4,446.38 466.95,446.07 467.5,445.77 468.06,445.49 468.61,445.21 469.17,444.94 469.72,444.67 470.28,444.41 470.83,444.16 471.38,443.9 471.94,443.64 472.49,443.39 473.05,443.12 473.6,442.86 474.15,442.59 474.71,442.31 475.26,442.02 475.82,441.73 476.37,441.44 476.93,441.16 477.48,440.87 478.03,440.6 478.59,440.34 479.14,440.09 479.7,439.86 480.25,439.65 480.8,439.46 481.36,439.28 481.91,439.12 482.47,438.97 483.02,438.83 483.57,438.7 484.13,438.58 484.68,438.46 485.24,438.36 485.79,438.25 486.35,438.15 486.9,438.05 487.45,437.96 488.01,437.89 488.56,437.83 489.12,437.78 489.67,437.74 490.23,437.7 490.78,437.65 491.33,437.6 491.89,437.54 492.44,437.46 493,437.37 493.55,437.25 494.1,437.1 494.66,436.95 495.21,436.78 495.77,436.59 496.32,436.4 496.88,436.19 497.43,435.98 497.98,435.76 498.54,435.54 499.09,435.31 499.65,435.07 500.2,434.84 500.75,434.6 501.31,434.33 501.86,434.06 502.42,433.77 502.97,433.48 503.53,433.19 504.08,432.9 504.63,432.61 505.19,432.34 505.74,432.08 506.3,431.85 506.85,431.63 507.43,431.44 508.04,431.25 508.67,431.08 509.31,430.92 509.96,430.77 510.59,430.63 511.2,430.5 511.78,430.38 512.31,430.28 512.78,430.18 513.18,430.1 513.5,430.03" fill="none" stroke="#f01010" stroke-width="1.8" stroke-linejoin="round" />
<path d="M400.45,457.46 L401.89,460.1 L399.01,460.1 Z" fill="#f01010"/>
<path d="M407.1,457.46 L408.54,460.1 L405.66,460.1 Z" fill="#f01010"/>
<path d="M413.75,457.46 L415.19,460.1 L412.31,460.1 Z" fill="#f01010"/>
<path d="M420.4,457.06 L421.84,459.7 L418.96,459.7 Z" fill="#f01010"/>
<path d="M427.05,456.66 L428.49,459.3 L425.61,459.3 Z" fill="#f01010"/>
<path d="M433.7,456.26 L435.14,458.9 L432.26,458.9 Z" fill="#f01010"/>
<path d="M440.35,455.86 L441.79,458.5 L438.91,458.5 Z" fill="#f01010"/>
<line x1="447" y1="456.09" x2="447" y2="448.88" stroke="#f01010" stroke-width="1.1" />
<line x1="445.2" y1="456.09" x2="448.8" y2="456.09" stroke="#f01010" stroke-width="1.1" />
<line x1="445.2" y1="448.88" x2="448.8" y2="448.88" stroke="#f01010" stroke-width="1.1" />
<path d="M447,451.04 L448.44,453.68 L445.56,453.68 Z" fill="#f01010"/>
<line x1="453.65" y1="455.69" x2="453.65" y2="447.67" stroke="#f01010" stroke-width="1.1" />
<line x1="451.85" y1="455.69" x2="455.45" y2="455.69" stroke="#f01010" stroke-width="1.1" />
<line x1="451.85" y1="447.67" x2="455.45" y2="447.67" stroke="#f01010" stroke-width="1.1" />
<path d="M453.65,450.24 L455.09,452.88 L452.21,452.88 Z" fill="#f01010"/>
<line x1="460.3" y1="454.09" x2="460.3" y2="446.07" stroke="#f01010" stroke-width="1.1" />
<line x1="458.5" y1="454.09" x2="462.1" y2="454.09" stroke="#f01010" stroke-width="1.1" />
<line x1="458.5" y1="446.07" x2="462.1" y2="446.07" stroke="#f01010" stroke-width="1.1" />
<path d="M460.3,448.64 L461.74,451.28 L458.86,451.28 Z" fill="#f01010"/>
<line x1="466.95" y1="450.08" x2="466.95" y2="442.06" stroke="#f01010" stroke-width="1.1" />
<line x1="465.15" y1="450.08" x2="468.75" y2="450.08" stroke="#f01010" stroke-width="1.1" />
<line x1="465.15" y1="442.06" x2="468.75" y2="442.06" stroke="#f01010" stroke-width="1.1" />
<path d="M466.95,444.63 L468.39,447.27 L465.51,447.27 Z" fill="#f01010"/>
<line x1="473.6" y1="446.47" x2="473.6" y2="439.25" stroke="#f01010" stroke-width="1.1" />
<line x1="471.8" y1="446.47" x2="475.4" y2="446.47" stroke="#f01010" stroke-width="1.1" />
<line x1="471.8" y1="439.25" x2="475.4" y2="439.25" stroke="#f01010" stroke-width="1.1" />
<path d="M473.6,441.42 L475.04,444.06 L472.16,444.06 Z" fill="#f01010"/>
<line x1="480.25" y1="443.26" x2="480.25" y2="436.04" stroke="#f01010" stroke-width="1.1" />
<line x1="478.45" y1="443.26" x2="482.05" y2="443.26" stroke="#f01010" stroke-width="1.1" />
<line x1="478.45" y1="436.04" x2="482.05" y2="436.04" stroke="#f01010" stroke-width="1.1" />
<path d="M480.25,438.21 L481.69,440.85 L478.81,440.85 Z" fill="#f01010"/>
<line x1="486.9" y1="441.66" x2="486.9" y2="434.44" stroke="#f01010" stroke-width="1.1" />
<line x1="485.1" y1="441.66" x2="488.7" y2="441.66" stroke="#f01010" stroke-width="1.1" />
<line x1="485.1" y1="434.44" x2="488.7" y2="434.44" stroke="#f01010" stroke-width="1.1" />
<path d="M486.9,436.61 L488.34,439.25 L485.46,439.25 Z" fill="#f01010"/>
<line x1="493.55" y1="440.45" x2="493.55" y2="434.04" stroke="#f01010" stroke-width="1.1" />
<line x1="491.75" y1="440.45" x2="495.35" y2="440.45" stroke="#f01010" stroke-width="1.1" />
<line x1="491.75" y1="434.04" x2="495.35" y2="434.04" stroke="#f01010" stroke-width="1.1" />
<path d="M493.55,435.81 L494.99,438.45 L492.11,438.45 Z" fill="#f01010"/>
<line x1="500.2" y1="438.05" x2="500.2" y2="431.63" stroke="#f01010" stroke-width="1.1" />
<line x1="498.4" y1="438.05" x2="502" y2="438.05" stroke="#f01010" stroke-width="1.1" />
<line x1="498.4" y1="431.63" x2="502" y2="431.63" stroke="#f01010" stroke-width="1.1" />
<path d="M500.2,433.4 L501.64,436.04 L498.76,436.04 Z" fill="#f01010"/>
<line x1="506.85" y1="435.64" x2="506.85" y2="427.62" stroke="#f01010" stroke-width="1.1" />
<line x1="505.05" y1="435.64" x2="508.65" y2="435.64" stroke="#f01010" stroke-width="1.1" />
<line x1="505.05" y1="427.62" x2="508.65" y2="427.62" stroke="#f01010" stroke-width="1.1" />
<path d="M506.85,430.19 L508.29,432.83 L505.41,432.83 Z" fill="#f01010"/>
<line x1="513.5" y1="434.04" x2="513.5" y2="426.02" stroke="#f01010" stroke-width="1.1" />
<line x1="511.7" y1="434.04" x2="515.3" y2="434.04" stroke="#f01010" stroke-width="1.1" />
<line x1="511.7" y1="426.02" x2="515.3" y2="426.02" stroke="#f01010" stroke-width="1.1" />
<path d="M513.5,428.59 L514.94,431.23 L512.06,431.23 Z" fill="#f01010"/>
<polyline points="400.45,458.9 400.77,458.9 401.17,458.9 401.64,458.9 402.17,458.9 402.75,458.9 403.36,458.9 403.99,458.9 404.64,458.9 405.28,458.9 405.91,458.9 406.52,458.9 407.1,458.9 407.65,458.9 408.21,458.9 408.76,458.9 409.32,458.9 409.87,458.9 410.43,458.9 410.98,458.9 411.53,458.9 412.09,458.9 412.64,458.9 413.2,458.9 413.75,458.9 414.3,458.9 414.86,458.9 415.41,458.9 415.97,458.9 416.52,458.9 417.07,458.9 417.63,458.9 418.18,458.9 418.74,458.9 419.29,458.9 419.85,458.9 420.4,458.9 420.95,458.9 421.51,458.9 422.06,458.9 422.62,458.9 423.17,458.9 423.73,458.9 424.28,458.9 424.83,458.9 425.39,458.9 425.94,458.9 426.5,458.9 427.05,458.9 427.6,458.9 428.16,458.9 428.71,458.91 429.27,458.91 429.82,458.92 430.38,458.93 430.93,458.93 431.48,458.93 432.04,458.93 432.59,458.92 433.15,458.91 433.7,458.9 434.25,458.89 434.81,458.9 435.36,458.92 435.92,458.94 436.47,458.96 437.03,458.98 437.58,458.97 438.13,458.94 438.69,458.89 439.24,458.8 439.8,458.67 440.35,458.5 440.9,458.26 441.46,457.95 442.01,457.59 442.57,457.19 443.12,456.76 443.68,456.32 444.23,455.87 444.78,455.44 445.34,455.03 445.89,454.66 446.45,454.34 447,454.09 447.55,453.89 448.11,453.75 448.66,453.63 449.22,453.55 449.77,453.5 450.32,453.46 450.88,453.44 451.43,453.42 451.99,453.4 452.54,453.38 453.1,453.34 453.65,453.29 454.2,453.22 454.76,453.17 455.31,453.12 455.87,453.08 456.42,453.03 456.98,452.99 457.53,452.93 458.08,452.87 458.64,452.8 459.19,452.71 459.75,452.61 460.3,452.48 460.85,452.34 461.41,452.17 461.96,451.98 462.52,451.77 463.07,451.55 463.63,451.33 464.18,451.1 464.73,450.88 465.29,450.66 465.84,450.45 466.4,450.26 466.95,450.08 467.5,449.92 468.06,449.77 468.61,449.64 469.17,449.51 469.72,449.39 470.28,449.28 470.83,449.16 471.38,449.04 471.94,448.91 472.49,448.78 473.05,448.63 473.6,448.47 474.15,448.3 474.71,448.11 475.26,447.92 475.82,447.72 476.37,447.51 476.93,447.3 477.48,447.08 478.03,446.87 478.59,446.66 479.14,446.46 479.7,446.26 480.25,446.07 480.8,445.88 481.36,445.69 481.91,445.5 482.47,445.31 483.02,445.12 483.57,444.94 484.13,444.76 484.68,444.6 485.24,444.44 485.79,444.3 486.35,444.17 486.9,444.06 487.45,443.97 488.01,443.91 488.56,443.86 489.12,443.83 489.67,443.8 490.23,443.79 490.78,443.78 491.33,443.77 491.89,443.75 492.44,443.73 493,443.7 493.55,443.66 494.1,443.61 494.66,443.56 495.21,443.51 495.77,443.45 496.32,443.4 496.88,443.34 497.43,443.27 497.98,443.2 498.54,443.13 499.09,443.04 499.65,442.96 500.2,442.86 500.75,442.75 501.31,442.63 501.86,442.49 502.42,442.34 502.97,442.19 503.53,442.03 504.08,441.88 504.63,441.73 505.19,441.59 505.74,441.46 506.3,441.35 506.85,441.26 507.43,441.18 508.04,441.11 508.67,441.06 509.31,441.02 509.96,440.98 510.59,440.96 511.2,440.93 511.78,440.91 512.31,440.9 512.78,440.88 513.18,440.87 513.5,440.85" fill="none" stroke="#1a14dc" stroke-width="1.8" stroke-linejoin="round" />
<path d="M400.45,457.46 L401.89,460.1 L399.01,460.1 Z" fill="#1a14dc"/>
<path d="M407.1,457.46 L408.54,460.1 L405.66,460.1 Z" fill="#1a14dc"/>
<path d="M413.75,457.46 L415.19,460.1 L412.31,460.1 Z" fill="#1a14dc"/>
<path d="M420.4,457.46 L421.84,460.1 L418.96,460.1 Z" fill="#1a14dc"/>
<path d="M427.05,457.46 L428.49,460.1 L425.61,460.1 Z" fill="#1a14dc"/>
<path d="M433.7,457.46 L435.14,460.1 L432.26,460.1 Z" fill="#1a14dc"/>
<path d="M440.35,457.06 L441.79,459.7 L438.91,459.7 Z" fill="#1a14dc"/>
<line x1="447" y1="456.09" x2="447" y2="452.08" stroke="#1a14dc" stroke-width="1.1" />
<line x1="445.2" y1="456.09" x2="448.8" y2="456.09" stroke="#1a14dc" stroke-width="1.1" />
<line x1="445.2" y1="452.08" x2="448.8" y2="452.08" stroke="#1a14dc" stroke-width="1.1" />
<path d="M447,452.65 L448.44,455.29 L445.56,455.29 Z" fill="#1a14dc"/>
<line x1="453.65" y1="455.29" x2="453.65" y2="451.28" stroke="#1a14dc" stroke-width="1.1" />
<line x1="451.85" y1="455.29" x2="455.45" y2="455.29" stroke="#1a14dc" stroke-width="1.1" />
<line x1="451.85" y1="451.28" x2="455.45" y2="451.28" stroke="#1a14dc" stroke-width="1.1" />
<path d="M453.65,451.85 L455.09,454.49 L452.21,454.49 Z" fill="#1a14dc"/>
<line x1="460.3" y1="454.49" x2="460.3" y2="450.48" stroke="#1a14dc" stroke-width="1.1" />
<line x1="458.5" y1="454.49" x2="462.1" y2="454.49" stroke="#1a14dc" stroke-width="1.1" />
<line x1="458.5" y1="450.48" x2="462.1" y2="450.48" stroke="#1a14dc" stroke-width="1.1" />
<path d="M460.3,451.04 L461.74,453.68 L458.86,453.68 Z" fill="#1a14dc"/>
<line x1="466.95" y1="452.08" x2="466.95" y2="448.07" stroke="#1a14dc" stroke-width="1.1" />
<line x1="465.15" y1="452.08" x2="468.75" y2="452.08" stroke="#1a14dc" stroke-width="1.1" />
<line x1="465.15" y1="448.07" x2="468.75" y2="448.07" stroke="#1a14dc" stroke-width="1.1" />
<path d="M466.95,448.64 L468.39,451.28 L465.51,451.28 Z" fill="#1a14dc"/>
<line x1="473.6" y1="450.48" x2="473.6" y2="446.47" stroke="#1a14dc" stroke-width="1.1" />
<line x1="471.8" y1="450.48" x2="475.4" y2="450.48" stroke="#1a14dc" stroke-width="1.1" />
<line x1="471.8" y1="446.47" x2="475.4" y2="446.47" stroke="#1a14dc" stroke-width="1.1" />
<path d="M473.6,447.03 L475.04,449.67 L472.16,449.67 Z" fill="#1a14dc"/>
<line x1="480.25" y1="448.07" x2="480.25" y2="444.06" stroke="#1a14dc" stroke-width="1.1" />
<line x1="478.45" y1="448.07" x2="482.05" y2="448.07" stroke="#1a14dc" stroke-width="1.1" />
<line x1="478.45" y1="444.06" x2="482.05" y2="444.06" stroke="#1a14dc" stroke-width="1.1" />
<path d="M480.25,444.63 L481.69,447.27 L478.81,447.27 Z" fill="#1a14dc"/>
<line x1="486.9" y1="446.07" x2="486.9" y2="442.06" stroke="#1a14dc" stroke-width="1.1" />
<line x1="485.1" y1="446.07" x2="488.7" y2="446.07" stroke="#1a14dc" stroke-width="1.1" />
<line x1="485.1" y1="442.06" x2="488.7" y2="442.06" stroke="#1a14dc" stroke-width="1.1" />
<path d="M486.9,442.62 L488.34,445.26 L485.46,445.26 Z" fill="#1a14dc"/>
<line x1="493.55" y1="445.67" x2="493.55" y2="441.66" stroke="#1a14dc" stroke-width="1.1" />
<line x1="491.75" y1="445.67" x2="495.35" y2="445.67" stroke="#1a14dc" stroke-width="1.1" />
<line x1="491.75" y1="441.66" x2="495.35" y2="441.66" stroke="#1a14dc" stroke-width="1.1" />
<path d="M493.55,442.22 L494.99,444.86 L492.11,444.86 Z" fill="#1a14dc"/>
<line x1="500.2" y1="444.86" x2="500.2" y2="440.85" stroke="#1a14dc" stroke-width="1.1" />
<line x1="498.4" y1="444.86" x2="502" y2="444.86" stroke="#1a14dc" stroke-width="1.1" />
<line x1="498.4" y1="440.85" x2="502" y2="440.85" stroke="#1a14dc" stroke-width="1.1" />
<path d="M500.2,441.42 L501.64,444.06 L498.76,444.06 Z" fill="#1a14dc"/>
<line x1="506.85" y1="443.26" x2="506.85" y2="439.25" stroke="#1a14dc" stroke-width="1.1" />
<line x1="505.05" y1="443.26" x2="508.65" y2="443.26" stroke="#1a14dc" stroke-width="1.1" />
<line x1="505.05" y1="439.25" x2="508.65" y2="439.25" stroke="#1a14dc" stroke-width="1.1" />
<path d="M506.85,439.82 L508.29,442.46 L505.41,442.46 Z" fill="#1a14dc"/>
<line x1="513.5" y1="442.86" x2="513.5" y2="438.85" stroke="#1a14dc" stroke-width="1.1" />
<line x1="511.7" y1="442.86" x2="515.3" y2="442.86" stroke="#1a14dc" stroke-width="1.1" />
<line x1="511.7" y1="438.85" x2="515.3" y2="438.85" stroke="#1a14dc" stroke-width="1.1" />
<path d="M513.5,439.41 L514.94,442.05 L512.06,442.05 Z" fill="#1a14dc"/>
<polyline points="400.45,458.9 400.77,458.9 401.17,458.9 401.64,458.9 402.17,458.9 402.75,458.9 403.36,458.9 403.99,458.9 404.64,458.9 405.28,458.9 405.91,458.9 406.52,458.9 407.1,458.9 407.65,458.9 408.21,458.9 408.76,458.9 409.32,458.9 409.87,458.9 410.43,458.9 410.98,458.9 411.53,458.9 412.09,458.9 412.64,458.9 413.2,458.9 413.75,458.9 414.3,458.9 414.86,458.9 415.41,458.9 415.97,458.9 416.52,458.9 417.07,458.9 417.63,458.9 418.18,458.9 418.74,458.9 419.29,458.9 419.85,458.9 420.4,458.9 420.95,458.9 421.51,458.9 422.06,458.9 422.62,458.9 423.17,458.9 423.73,458.9 424.28,458.9 424.83,458.9 425.39,458.9 425.94,458.9 426.5,458.9 427.05,458.9 427.6,458.9 428.16,458.9 428.71,458.9 429.27,458.9 429.82,458.9 430.38,458.9 430.93,458.9 431.48,458.9 432.04,458.9 432.59,458.9 433.15,458.9 433.7,458.9 434.25,458.9 434.81,458.9 435.36,458.9 435.92,458.9 436.47,458.9 437.03,458.9 437.58,458.9 438.13,458.9 438.69,458.9 439.24,458.9 439.8,458.9 440.35,458.9 440.9,458.9 441.46,458.9 442.01,458.9 442.57,458.9 443.12,458.9 443.68,458.9 444.23,458.9 444.78,458.9 445.34,458.9 445.89,458.9 446.45,458.9 447,458.9 447.55,458.9 448.11,458.9 448.66,458.9 449.22,458.9 449.77,458.9 450.32,458.9 450.88,458.9 451.43,458.9 451.99,458.9 452.54,458.9 453.1,458.9 453.65,458.9 454.2,458.9 454.76,458.9 455.31,458.9 455.87,458.9 456.42,458.9 456.98,458.9 457.53,458.9 458.08,458.9 458.64,458.9 459.19,458.9 459.75,458.9 460.3,458.9 460.85,458.9 461.41,458.9 461.96,458.9 462.52,458.9 463.07,458.9 463.63,458.9 464.18,458.9 464.73,458.9 465.29,458.9 465.84,458.9 466.4,458.9 466.95,458.9 467.5,458.9 468.06,458.9 468.61,458.9 469.17,458.9 469.72,458.9 470.28,458.9 470.83,458.9 471.38,458.9 471.94,458.9 472.49,458.9 473.05,458.9 473.6,458.9 474.15,458.9 474.71,458.9 475.26,458.9 475.82,458.9 476.37,458.9 476.93,458.9 477.48,458.9 478.03,458.9 478.59,458.9 479.14,458.9 479.7,458.9 480.25,458.9 480.8,458.9 481.36,458.9 481.91,458.9 482.47,458.9 483.02,458.9 483.57,458.9 484.13,458.9 484.68,458.9 485.24,458.9 485.79,458.9 486.35,458.9 486.9,458.9 487.45,458.9 488.01,458.9 488.56,458.9 489.12,458.9 489.67,458.9 490.23,458.9 490.78,458.9 491.33,458.9 491.89,458.9 492.44,458.9 493,458.9 493.55,458.9 494.1,458.9 494.66,458.9 495.21,458.9 495.77,458.9 496.32,458.9 496.88,458.9 497.43,458.9 497.98,458.9 498.54,458.9 499.09,458.9 499.65,458.9 500.2,458.9 500.75,458.9 501.31,458.9 501.86,458.9 502.42,458.9 502.97,458.9 503.53,458.9 504.08,458.9 504.63,458.9 505.19,458.9 505.74,458.9 506.3,458.9 506.85,458.9 507.43,458.9 508.04,458.9 508.67,458.9 509.31,458.9 509.96,458.9 510.59,458.9 511.2,458.9 511.78,458.9 512.31,458.9 512.78,458.9 513.18,458.9 513.5,458.9" fill="none" stroke="#1ec21e" stroke-width="1.9" stroke-linejoin="round" />
<rect x="399.35" y="457.8" width="2.2" height="2.2" fill="#1ec21e"/>
<rect x="406" y="457.8" width="2.2" height="2.2" fill="#1ec21e"/>
<rect x="412.65" y="457.8" width="2.2" height="2.2" fill="#1ec21e"/>
<rect x="419.3" y="457.8" width="2.2" height="2.2" fill="#1ec21e"/>
<rect x="425.95" y="457.8" width="2.2" height="2.2" fill="#1ec21e"/>
<rect x="432.6" y="457.8" width="2.2" height="2.2" fill="#1ec21e"/>
<rect x="439.25" y="457.8" width="2.2" height="2.2" fill="#1ec21e"/>
<rect x="445.9" y="457.8" width="2.2" height="2.2" fill="#1ec21e"/>
<rect x="452.55" y="457.8" width="2.2" height="2.2" fill="#1ec21e"/>
<rect x="459.2" y="457.8" width="2.2" height="2.2" fill="#1ec21e"/>
<rect x="465.85" y="457.8" width="2.2" height="2.2" fill="#1ec21e"/>
<rect x="472.5" y="457.8" width="2.2" height="2.2" fill="#1ec21e"/>
<rect x="479.15" y="457.8" width="2.2" height="2.2" fill="#1ec21e"/>
<rect x="485.8" y="457.8" width="2.2" height="2.2" fill="#1ec21e"/>
<rect x="492.45" y="457.8" width="2.2" height="2.2" fill="#1ec21e"/>
<rect x="499.1" y="457.8" width="2.2" height="2.2" fill="#1ec21e"/>
<rect x="505.75" y="457.8" width="2.2" height="2.2" fill="#1ec21e"/>
<rect x="512.4" y="457.8" width="2.2" height="2.2" fill="#1ec21e"/>
<g transform="translate(370.3,418.75) rotate(-90)">
<text x="0" y="3.46" font-size="9.6" font-weight="bold" text-anchor="middle" textLength="33.9" lengthAdjust="spacingAndGlyphs">% Cells</text>
</g>
<text x="436.8" y="481.5" font-size="10.3" font-weight="bold" text-anchor="start" fill="#000" textLength="36.4" lengthAdjust="spacingAndGlyphs" >Time (s)</text>
<text x="0" y="528.2" font-size="14.5" font-weight="bold" text-anchor="start" fill="#000" >D</text>
<text x="76.9" y="525.1" font-size="6.9" font-weight="bold" textLength="90.8" lengthAdjust="spacingAndGlyphs">Intracellular Ca<tspan font-size="4.49" dy="-3.11">2+</tspan><tspan dy="3.11"> 60 sec</tspan></text>
<line x1="94.85" y1="552.13" x2="94.85" y2="543.8" stroke="#000" stroke-width="1.1" />
<line x1="90.05" y1="543.8" x2="99.65" y2="543.8" stroke="#000" stroke-width="1.2" />
<rect x="85.2" y="552.13" width="19.3" height="39.27" fill="#000" stroke="#000" stroke-width="1"/>
<line x1="123.1" y1="579.76" x2="123.1" y2="578.75" stroke="#000" stroke-width="1.1" />
<line x1="118.1" y1="578.75" x2="128.1" y2="578.75" stroke="#000" stroke-width="1.2" />
<rect x="113.4" y="579.76" width="19.4" height="11.64" fill="#1a14dc" stroke="#000" stroke-width="1"/>
<line x1="151.5" y1="585.07" x2="151.5" y2="584.5" stroke="#000" stroke-width="1.1" />
<line x1="146.5" y1="584.5" x2="156.5" y2="584.5" stroke="#000" stroke-width="1.2" />
<rect x="142" y="585.07" width="19" height="6.33" fill="#1ec21e" stroke="#000" stroke-width="1"/>
<line x1="80.6" y1="535" x2="80.6" y2="591.4" stroke="#000" stroke-width="1.4"/>
<line x1="78" y1="591.4" x2="80.6" y2="591.4" stroke="#000" stroke-width="1.3" />
<text x="78.2" y="593.2" font-size="5.1" font-weight="bold" text-anchor="end" fill="#000"  stroke="#000" stroke-width="0.22">0</text>
<line x1="78" y1="568.3" x2="80.6" y2="568.3" stroke="#000" stroke-width="1.3" />
<text x="78.2" y="570.1" font-size="5.1" font-weight="bold" text-anchor="end" fill="#000"  stroke="#000" stroke-width="0.22">500</text>
<line x1="78" y1="545.2" x2="80.6" y2="545.2" stroke="#000" stroke-width="1.3" />
<text x="78.2" y="547" font-size="5.1" font-weight="bold" text-anchor="end" fill="#000"  stroke="#000" stroke-width="0.22">1000</text>
<line x1="80.6" y1="591.4" x2="166.3" y2="591.4" stroke="#000" stroke-width="1.4" />
<polyline points="94.85,544.8 94.85,539.5 123.4,539.5 123.4,543.5" fill="none" stroke="#000" stroke-width="1.1"/>
<text x="109.2" y="541" font-size="6.5" font-weight="bold" text-anchor="middle" fill="#000"  stroke="#000" stroke-width="0.22">*</text>
<polyline points="92,540.8 92,534.75 148.5,534.75 148.5,542.8" fill="none" stroke="#000" stroke-width="1.1"/>
<text x="121" y="533.4" font-size="5" font-weight="bold" text-anchor="middle" fill="#000"  stroke="#000" stroke-width="0.22">#</text>
<g transform="translate(60,562) rotate(-90)">
<text x="0" y="2.52" font-size="7" font-weight="bold" text-anchor="middle" textLength="29.7" lengthAdjust="spacingAndGlyphs">[Ca<tspan font-size="4.34" dy="-3.5">2+</tspan><tspan dy="3.5">] nM</tspan></text>
</g>
<path d="M105.65,592.9 L109,598.9 L102.3,598.9 Z" fill="#000"/>
<polyline points="69.6,668.32 70.27,668.36 70.93,668.47 71.6,668.15 72.27,668.53 72.94,668.32 73.6,668.14 74.27,668.51 74.94,668.3 75.6,668.28 76.27,668.53 76.94,668.38 77.61,668.24 78.27,668.36 78.94,668.24 79.61,668.49 80.28,668.46 80.94,668.52 81.61,668.35 82.28,668.17 82.94,668.31 83.61,668.24 84.28,668.41 84.95,668.25 85.61,668.54 86.28,668.46 86.95,668.29 87.61,668.27 88.28,668.41 88.95,668.56 89.62,668.46 90.28,668.47 90.95,668.41 91.62,668.16 92.28,668.41 92.95,668.08 93.62,668.06 94.29,668.41 94.95,668.24 95.62,668.17 96.29,668.36 96.96,668.16 97.62,667.92 98.29,668.25 98.96,668.02 99.62,668.21 100.29,667.98 100.96,667.82 101.63,668.11 102.29,668.17 102.96,668.12 103.63,667.89 104.29,668.1 104.96,668.05 105.63,667.85 106.3,667.64 106.96,667.84 107.63,667.83 108.3,667.7 108.96,667.92 109.63,667.68 110.3,667.84 110.97,667.63 111.63,667.45 112.3,667.83 112.97,667.59 113.64,667.55 114.3,667.72 114.97,667.65 115.64,667.31 116.3,667.29 116.97,667.65 117.64,667.37 118.31,667.24 118.97,667.54 119.64,667.35 120.31,667.58 120.97,667.42 121.64,667.26 122.31,667.27 122.98,667.17 123.64,667.45 124.31,667.32 124.98,667.07 125.64,667.17 126.31,667.22 126.98,667.24 127.65,666.98 128.31,667.16 128.98,667.4 129.65,667.06 130.32,667.26 130.98,667.21 131.65,667.31 132.32,667.2 132.98,667.25 133.65,667.35 134.32,667.11 134.99,667.34 135.65,667.04 136.32,667.37 136.99,667.04 137.65,667.02 138.32,667.16 138.99,667.06 139.66,667.26 140.32,667.04 140.99,667.18 141.66,667.26 142.32,666.93 142.99,667.18 143.66,667.19 144.33,666.97 144.99,667.19 145.66,667.05 146.33,667.27 147,666.97 147.66,667.22 148.33,667.31 149,666.9 149.66,667.25 150.33,666.91 151,666.89 151.67,667.05 152.33,667.31 153,667.29 153.67,667.22 154.33,667.14 155,667.04 155.67,666.88 156.34,667.15 157,667.24 157.67,667.05 158.34,667.23 159,667.25 159.67,667.04 160.34,666.98 161.01,667.25 161.67,667.08 162.34,666.97 163.01,666.94 163.68,667.1 164.34,666.88 165.01,667.19 165.68,666.95 166.34,666.92 167.01,666.87 167.68,667.04 168.35,667.21 169.01,667.23 169.68,667.02 170.35,667.17 171.01,666.97 171.68,667.2 172.35,666.9 173.02,667.14 173.68,667.23 174.35,667.15 175.02,667.03 175.68,666.98 176.35,667.05 177.02,667.14 177.69,667 178.35,666.8 179.02,666.98 179.69,666.79 180.36,667.19" fill="none" stroke="#1ec21e" stroke-width="1.7" stroke-linejoin="round" />
<polyline points="69.6,667.84 70.27,667.17 70.93,667.31 71.6,666.93 72.27,667.08 72.94,666.89 73.6,666.44 74.27,666.66 74.94,666.35 75.6,666.31 76.27,666.19 76.94,666.05 77.61,666.06 78.27,665.66 78.94,665.86 79.61,665.68 80.28,665.46 80.94,664.94 81.61,664.47 82.28,663.85 82.94,663.67 83.61,663.38 84.28,662.91 84.95,662.18 85.61,662.19 86.28,661.53 86.95,661.23 87.61,660.7 88.28,660.44 88.95,659.88 89.62,659.55 90.28,659.14 90.95,658.99 91.62,659.1 92.28,659.25 92.95,659.25 93.62,658.83 94.29,658.99 94.95,659.08 95.62,658.71 96.29,658.84 96.96,658.73 97.62,658.63 98.29,658.85 98.96,658.78 99.62,658.52 100.29,658.81 100.96,658.53 101.63,658.87 102.29,658.66 102.96,658.69 103.63,658.63 104.29,658.72 104.96,658.92 105.63,659.09 106.3,659.16 106.96,659.04 107.63,659.09 108.3,659.33 108.96,659.01 109.63,659.22 110.3,659.18 110.97,659.44 111.63,659.47 112.3,659.62 112.97,659.52 113.64,659.6 114.3,659.57 114.97,659.64 115.64,659.48 116.3,659.5 116.97,659.86 117.64,659.81 118.31,659.95 118.97,659.78 119.64,659.68 120.31,660.07 120.97,659.86 121.64,660.11 122.31,660.28 122.98,660 123.64,660.23 124.31,660.35 124.98,660.28 125.64,660.41 126.31,660.38 126.98,660.43 127.65,660.5 128.31,660.48 128.98,660.67 129.65,660.82 130.32,660.88 130.98,660.93 131.65,660.81 132.32,660.94 132.98,660.8 133.65,660.99 134.32,660.96 134.99,660.9 135.65,661.36 136.32,661.44 136.99,661.45 137.65,661.4 138.32,661.38 138.99,661.36 139.66,661.59 140.32,661.38 140.99,661.86 141.66,661.56 142.32,661.89 142.99,661.66 143.66,662.09 144.33,661.74 144.99,661.89 145.66,661.82 146.33,662.03 147,662.24 147.66,661.93 148.33,662.19 149,662.39 149.66,662.19 150.33,662.27 151,662.32 151.67,662.49 152.33,662.54 153,662.37 153.67,662.46 154.33,662.64 155,662.53 155.67,662.44 156.34,662.48 157,662.6 157.67,662.63 158.34,662.65 159,662.71 159.67,662.72 160.34,662.61 161.01,662.76 161.67,662.49 162.34,662.49 163.01,662.54 163.68,662.8 164.34,662.65 165.01,662.62 165.68,662.77 166.34,662.38 167.01,662.47 167.68,662.59 168.35,662.5 169.01,662.72 169.68,662.71 170.35,662.58 171.01,662.48 171.68,662.52 172.35,662.8 173.02,662.54 173.68,662.41 174.35,662.48 175.02,662.4 175.68,662.37 176.35,662.71 177.02,662.68 177.69,662.57 178.35,662.38 179.02,662.64 179.69,662.39 180.36,662.43" fill="none" stroke="#1a14dc" stroke-width="1.7" stroke-linejoin="round" />
<polyline points="69.6,667.92 70.27,667.79 70.93,666.9 71.6,667.31 72.27,666.51 72.94,666.44 73.6,666.54 74.27,665.75 74.94,666.04 75.6,665.32 76.27,665.48 76.94,664.3 77.61,662.57 78.27,660.77 78.94,660.25 79.61,658.8 80.28,656.99 80.94,655.28 81.61,654.05 82.28,652.57 82.94,650.19 83.61,649.84 84.28,647.68 84.95,647.15 85.61,646.12 86.28,644.95 86.95,643.52 87.61,641.73 88.28,641.27 88.95,639.6 89.62,638.14 90.28,637.01 90.95,635.37 91.62,634.51 92.28,633.08 92.95,631.47 93.62,629.48 94.29,628.34 94.95,627.03 95.62,625.28 96.29,624.22 96.96,623.49 97.62,622 98.29,621.2 98.96,620.82 99.62,619.52 100.29,618.67 100.96,617.52 101.63,617.12 102.29,617.07 102.96,615.69 103.63,616.13 104.29,615.4 104.96,615.01 105.63,615.72 106.3,615.32 106.96,615.85 107.63,615.19 108.3,615.53 108.96,616.21 109.63,616.31 110.3,617.43 110.97,617.44 111.63,618.01 112.3,618.49 112.97,619.09 113.64,619.04 114.3,619.28 114.97,620.18 115.64,620.32 116.3,621.38 116.97,620.89 117.64,621.03 118.31,620.7 118.97,620.97 119.64,621.68 120.31,621.63 120.97,621.38 121.64,622.21 122.31,621.83 122.98,622.37 123.64,622.62 124.31,622.88 124.98,622.25 125.64,623.19 126.31,623.25 126.98,623.27 127.65,622.9 128.31,624.24 128.98,624.26 129.65,624.6 130.32,624.66 130.98,625.19 131.65,624.96 132.32,625.15 132.98,624.5 133.65,624.21 134.32,623.65 134.99,623.63 135.65,624.63 136.32,624.66 136.99,624.66 137.65,624.71 138.32,624.48 138.99,624.41 139.66,625.02 140.32,625.66 140.99,625.5 141.66,625.9 142.32,626 142.99,625.88 143.66,626.53 144.33,627.07 144.99,627.29 145.66,627.56 146.33,628.63 147,627.98 147.66,628.46 148.33,628.68 149,628.98 149.66,629.59 150.33,629.73 151,630.21 151.67,629.73 152.33,630.54 153,630.67 153.67,630.65 154.33,630.84 155,630.77 155.67,631.25 156.34,631.45 157,631.17 157.67,630.96 158.34,630.38 159,630.51 159.67,629.24 160.34,629.28 161.01,629.55 161.67,629.16 162.34,628.78 163.01,629.05 163.68,629.68 164.34,629.18 165.01,629.35 165.68,630.32 166.34,630.21 167.01,630.51 167.68,630.33 168.35,629.88 169.01,629.8 169.68,628.97 170.35,629.59 171.01,629.58 171.68,628.33 172.35,628.65 173.02,629.22 173.68,629.43 174.35,630.71 175.02,630.8 175.68,630.95 176.35,631.58 177.02,631.7 177.69,632.13 178.35,631.94 179.02,632.1 179.69,631.31 180.36,631.52" fill="none" stroke="#000" stroke-width="1.9" stroke-linejoin="round" />
<line x1="69.6" y1="604.55" x2="69.6" y2="677.1" stroke="#000" stroke-width="1.7" />
<line x1="66.4" y1="677.1" x2="69.6" y2="677.1" stroke="#000" stroke-width="1.4" />
<text x="66.1" y="679.33" font-size="6.2" font-weight="bold" text-anchor="end" fill="#111"  stroke="#000" stroke-width="0.22">0</text>
<line x1="66.4" y1="658.77" x2="69.6" y2="658.77" stroke="#000" stroke-width="1.4" />
<text x="66.1" y="661.01" font-size="6.2" font-weight="bold" text-anchor="end" fill="#111"  stroke="#000" stroke-width="0.22">250</text>
<line x1="66.4" y1="640.45" x2="69.6" y2="640.45" stroke="#000" stroke-width="1.4" />
<text x="66.1" y="642.68" font-size="6.2" font-weight="bold" text-anchor="end" fill="#111"  stroke="#000" stroke-width="0.22">500</text>
<line x1="66.4" y1="622.12" x2="69.6" y2="622.12" stroke="#000" stroke-width="1.4" />
<text x="66.1" y="624.36" font-size="6.2" font-weight="bold" text-anchor="end" fill="#111"  stroke="#000" stroke-width="0.22">750</text>
<line x1="66.4" y1="603.8" x2="69.6" y2="603.8" stroke="#000" stroke-width="1.4" />
<text x="66.1" y="606.03" font-size="6.2" font-weight="bold" text-anchor="end" fill="#111"  stroke="#000" stroke-width="0.22">1000</text>
<line x1="69.6" y1="677.1" x2="180.8" y2="677.1" stroke="#000" stroke-width="1.7" />
<line x1="69.6" y1="677.1" x2="69.6" y2="679.3" stroke="#000" stroke-width="1.4" />
<text x="69.6" y="685.4" font-size="6" font-weight="bold" text-anchor="middle" fill="#111"  stroke="#000" stroke-width="0.22">0</text>
<line x1="80.72" y1="677.1" x2="80.72" y2="679.3" stroke="#000" stroke-width="1.4" />
<text x="80.72" y="685.4" font-size="6" font-weight="bold" text-anchor="middle" fill="#111"  stroke="#000" stroke-width="0.22">20</text>
<line x1="91.84" y1="677.1" x2="91.84" y2="679.3" stroke="#000" stroke-width="1.4" />
<text x="91.84" y="685.4" font-size="6" font-weight="bold" text-anchor="middle" fill="#111"  stroke="#000" stroke-width="0.22">40</text>
<line x1="102.96" y1="677.1" x2="102.96" y2="679.3" stroke="#000" stroke-width="1.4" />
<text x="102.96" y="685.4" font-size="6" font-weight="bold" text-anchor="middle" fill="#111"  stroke="#000" stroke-width="0.22">60</text>
<line x1="114.08" y1="677.1" x2="114.08" y2="679.3" stroke="#000" stroke-width="1.4" />
<text x="114.08" y="685.4" font-size="6" font-weight="bold" text-anchor="middle" fill="#111"  stroke="#000" stroke-width="0.22">80</text>
<line x1="125.2" y1="677.1" x2="125.2" y2="679.3" stroke="#000" stroke-width="1.4" />
<text x="125.2" y="685.4" font-size="6" font-weight="bold" text-anchor="middle" fill="#111"  stroke="#000" stroke-width="0.22">100</text>
<line x1="136.32" y1="677.1" x2="136.32" y2="679.3" stroke="#000" stroke-width="1.4" />
<text x="136.32" y="685.4" font-size="6" font-weight="bold" text-anchor="middle" fill="#111"  stroke="#000" stroke-width="0.22">120</text>
<line x1="147.44" y1="677.1" x2="147.44" y2="679.3" stroke="#000" stroke-width="1.4" />
<text x="147.44" y="685.4" font-size="6" font-weight="bold" text-anchor="middle" fill="#111"  stroke="#000" stroke-width="0.22">140</text>
<line x1="158.56" y1="677.1" x2="158.56" y2="679.3" stroke="#000" stroke-width="1.4" />
<text x="158.56" y="685.4" font-size="6" font-weight="bold" text-anchor="middle" fill="#111"  stroke="#000" stroke-width="0.22">160</text>
<line x1="169.68" y1="677.1" x2="169.68" y2="679.3" stroke="#000" stroke-width="1.4" />
<text x="169.68" y="685.4" font-size="6" font-weight="bold" text-anchor="middle" fill="#111"  stroke="#000" stroke-width="0.22">180</text>
<line x1="180.8" y1="677.1" x2="180.8" y2="679.3" stroke="#000" stroke-width="1.4" />
<text x="180.8" y="685.4" font-size="6" font-weight="bold" text-anchor="middle" fill="#111"  stroke="#000" stroke-width="0.22">200</text>
<line x1="76.5" y1="597" x2="76.5" y2="702.5" stroke="#000" stroke-width="1.8" stroke-dasharray="1.6 1.5"/>
<line x1="105.8" y1="601.2" x2="105.8" y2="677" stroke="#000" stroke-width="1.1" stroke-dasharray="2.8 2"/>
<text x="109.1" y="697" font-size="8.8" font-weight="bold" text-anchor="start" fill="#000" textLength="33.2" lengthAdjust="spacingAndGlyphs" >Time (s)</text>
<g transform="translate(45.4,640.15) rotate(-90)">
<text x="0" y="3.53" font-size="9.8" font-weight="bold" text-anchor="middle" textLength="40.3" lengthAdjust="spacingAndGlyphs">[Ca<tspan font-size="6.08" dy="-4.9">2+</tspan><tspan dy="4.9">] nM</tspan></text>
</g>
<rect x="3.8" y="702.8" width="70.4" height="17.2" fill="#fff" stroke="#222" stroke-width="1.1"/>
<rect x="78.5" y="702.4" width="126.5" height="18" fill="#9f9f9f" stroke="#222" stroke-width="1.1"/>
<rect x="74.2" y="701.9" width="4.3" height="19" fill="#111"/>
<line x1="76.35" y1="703.4" x2="76.35" y2="719.9" stroke="#fff" stroke-width="1.5" stroke-dasharray="1.3 1.5"/>
<text x="11.5" y="716.6" font-size="9.3" font-weight="bold" text-anchor="start" fill="#000" textLength="59.6" lengthAdjust="spacingAndGlyphs" >0.0 &#956;M fMLP</text>
<text x="91.6" y="716.6" font-size="9.3" font-weight="bold" text-anchor="start" fill="#000" textLength="58.6" lengthAdjust="spacingAndGlyphs" >0.1 &#956;M fMLP</text>
<text x="273.5" y="527.5" font-size="18" text-anchor="start" fill="#000" textLength="107" lengthAdjust="spacingAndGlyphs" >Human PMN</text>
<line x1="275" y1="530.3" x2="379.5" y2="530.3" stroke="#000" stroke-width="1.5" />
<line x1="408.2" y1="516.25" x2="439.2" y2="516.25" stroke="#000" stroke-width="2.4" />
<text x="447.2" y="516" font-size="12" text-anchor="start" fill="#000" >Control</text>
<line x1="408.2" y1="527.3" x2="439.2" y2="527.3" stroke="#1a14dc" stroke-width="2.4" />
<text x="447.2" y="530.2" font-size="12" text-anchor="start" fill="#000" >2-APB</text>
<line x1="408.2" y1="539.4" x2="439.2" y2="539.4" stroke="#1ec21e" stroke-width="2.4" />
<text x="447.2" y="544.8" font-size="12" text-anchor="start" fill="#000" >U73122</text>
<text x="277.5" y="591.2" font-size="9.8" font-weight="bold" text-anchor="start" fill="#000" textLength="28.7" lengthAdjust="spacingAndGlyphs" >Arrest</text>
<line x1="236.2" y1="603.45" x2="236.2" y2="675.5" stroke="#000" stroke-width="1.5" />
<line x1="233.3" y1="675.5" x2="236.2" y2="675.5" stroke="#000" stroke-width="1.4" />
<text x="233" y="677.62" font-size="5.9" font-weight="bold" text-anchor="end" fill="#000"  stroke="#000" stroke-width="0.22">0</text>
<line x1="233.3" y1="657.3" x2="236.2" y2="657.3" stroke="#000" stroke-width="1.4" />
<text x="233" y="659.42" font-size="5.9" font-weight="bold" text-anchor="end" fill="#000"  stroke="#000" stroke-width="0.22">25</text>
<line x1="233.3" y1="639.1" x2="236.2" y2="639.1" stroke="#000" stroke-width="1.4" />
<text x="233" y="641.22" font-size="5.9" font-weight="bold" text-anchor="end" fill="#000"  stroke="#000" stroke-width="0.22">50</text>
<line x1="233.3" y1="620.9" x2="236.2" y2="620.9" stroke="#000" stroke-width="1.4" />
<text x="233" y="623.02" font-size="5.9" font-weight="bold" text-anchor="end" fill="#000"  stroke="#000" stroke-width="0.22">75</text>
<line x1="233.3" y1="602.7" x2="236.2" y2="602.7" stroke="#000" stroke-width="1.4" />
<text x="233" y="604.82" font-size="5.9" font-weight="bold" text-anchor="end" fill="#000"  stroke="#000" stroke-width="0.22">100</text>
<line x1="236.2" y1="675.5" x2="346.8" y2="675.5" stroke="#000" stroke-width="1.5" />
<line x1="236.2" y1="675.5" x2="236.2" y2="677.7" stroke="#000" stroke-width="1.4" />
<text x="236.2" y="683.7" font-size="5.9" font-weight="bold" text-anchor="middle" fill="#000"  stroke="#000" stroke-width="0.22">0</text>
<line x1="254.63" y1="675.5" x2="254.63" y2="677.7" stroke="#000" stroke-width="1.4" />
<text x="254.63" y="683.7" font-size="5.9" font-weight="bold" text-anchor="middle" fill="#000"  stroke="#000" stroke-width="0.22">10</text>
<line x1="273.06" y1="675.5" x2="273.06" y2="677.7" stroke="#000" stroke-width="1.4" />
<text x="273.06" y="683.7" font-size="5.9" font-weight="bold" text-anchor="middle" fill="#000"  stroke="#000" stroke-width="0.22">20</text>
<line x1="291.49" y1="675.5" x2="291.49" y2="677.7" stroke="#000" stroke-width="1.4" />
<text x="291.49" y="683.7" font-size="5.9" font-weight="bold" text-anchor="middle" fill="#000"  stroke="#000" stroke-width="0.22">30</text>
<line x1="309.92" y1="675.5" x2="309.92" y2="677.7" stroke="#000" stroke-width="1.4" />
<text x="309.92" y="683.7" font-size="5.9" font-weight="bold" text-anchor="middle" fill="#000"  stroke="#000" stroke-width="0.22">40</text>
<line x1="328.35" y1="675.5" x2="328.35" y2="677.7" stroke="#000" stroke-width="1.4" />
<text x="328.35" y="683.7" font-size="5.9" font-weight="bold" text-anchor="middle" fill="#000"  stroke="#000" stroke-width="0.22">50</text>
<line x1="346.78" y1="675.5" x2="346.78" y2="677.7" stroke="#000" stroke-width="1.4" />
<text x="346.78" y="683.7" font-size="5.9" font-weight="bold" text-anchor="middle" fill="#000"  stroke="#000" stroke-width="0.22">60</text>
<polyline points="254.63,648.56 273.06,628.18 291.49,608.52 309.92,605.98 328.35,605.61 346.78,605.61" fill="none" stroke="#000" stroke-width="1.9" stroke-linejoin="round" />
<line x1="254.63" y1="656.94" x2="254.63" y2="640.19" stroke="#000" stroke-width="1.1" />
<line x1="252.23" y1="656.94" x2="257.03" y2="656.94" stroke="#000" stroke-width="1.1" />
<line x1="252.23" y1="640.19" x2="257.03" y2="640.19" stroke="#000" stroke-width="1.1" />
<rect x="253.23" y="647.16" width="2.8" height="2.8" fill="#000"/>
<line x1="273.06" y1="636.92" x2="273.06" y2="619.44" stroke="#000" stroke-width="1.1" />
<line x1="270.66" y1="636.92" x2="275.46" y2="636.92" stroke="#000" stroke-width="1.1" />
<line x1="270.66" y1="619.44" x2="275.46" y2="619.44" stroke="#000" stroke-width="1.1" />
<rect x="271.66" y="626.78" width="2.8" height="2.8" fill="#000"/>
<line x1="291.49" y1="610.71" x2="291.49" y2="606.34" stroke="#000" stroke-width="1.1" />
<line x1="289.09" y1="610.71" x2="293.89" y2="610.71" stroke="#000" stroke-width="1.1" />
<line x1="289.09" y1="606.34" x2="293.89" y2="606.34" stroke="#000" stroke-width="1.1" />
<rect x="290.09" y="607.12" width="2.8" height="2.8" fill="#000"/>
<line x1="309.92" y1="606.7" x2="309.92" y2="605.25" stroke="#000" stroke-width="1.1" />
<line x1="307.52" y1="606.7" x2="312.32" y2="606.7" stroke="#000" stroke-width="1.1" />
<line x1="307.52" y1="605.25" x2="312.32" y2="605.25" stroke="#000" stroke-width="1.1" />
<rect x="308.52" y="604.58" width="2.8" height="2.8" fill="#000"/>
<line x1="328.35" y1="606.34" x2="328.35" y2="604.88" stroke="#000" stroke-width="1.1" />
<line x1="325.95" y1="606.34" x2="330.75" y2="606.34" stroke="#000" stroke-width="1.1" />
<line x1="325.95" y1="604.88" x2="330.75" y2="604.88" stroke="#000" stroke-width="1.1" />
<rect x="326.95" y="604.21" width="2.8" height="2.8" fill="#000"/>
<line x1="346.78" y1="606.34" x2="346.78" y2="604.88" stroke="#000" stroke-width="1.1" />
<line x1="344.38" y1="606.34" x2="349.18" y2="606.34" stroke="#000" stroke-width="1.1" />
<line x1="344.38" y1="604.88" x2="349.18" y2="604.88" stroke="#000" stroke-width="1.1" />
<rect x="345.38" y="604.21" width="2.8" height="2.8" fill="#000"/>
<polyline points="254.63,661.67 273.06,653.66 291.49,638.74 309.92,611.44 328.35,605.61 346.78,605.61" fill="none" stroke="#1a14dc" stroke-width="1.9" stroke-linejoin="round" />
<line x1="254.63" y1="664.22" x2="254.63" y2="659.12" stroke="#1a14dc" stroke-width="1.1" />
<line x1="252.23" y1="664.22" x2="257.03" y2="664.22" stroke="#1a14dc" stroke-width="1.1" />
<line x1="252.23" y1="659.12" x2="257.03" y2="659.12" stroke="#1a14dc" stroke-width="1.1" />
<path d="M254.63,659.99 L256.31,663.07 L252.95,663.07 Z" fill="#1a14dc"/>
<line x1="273.06" y1="657.3" x2="273.06" y2="650.02" stroke="#1a14dc" stroke-width="1.1" />
<line x1="270.66" y1="657.3" x2="275.46" y2="657.3" stroke="#1a14dc" stroke-width="1.1" />
<line x1="270.66" y1="650.02" x2="275.46" y2="650.02" stroke="#1a14dc" stroke-width="1.1" />
<path d="M273.06,651.98 L274.74,655.06 L271.38,655.06 Z" fill="#1a14dc"/>
<line x1="291.49" y1="643.47" x2="291.49" y2="634" stroke="#1a14dc" stroke-width="1.1" />
<line x1="289.09" y1="643.47" x2="293.89" y2="643.47" stroke="#1a14dc" stroke-width="1.1" />
<line x1="289.09" y1="634" x2="293.89" y2="634" stroke="#1a14dc" stroke-width="1.1" />
<path d="M291.49,637.06 L293.17,640.14 L289.81,640.14 Z" fill="#1a14dc"/>
<line x1="309.92" y1="613.62" x2="309.92" y2="609.25" stroke="#1a14dc" stroke-width="1.1" />
<line x1="307.52" y1="613.62" x2="312.32" y2="613.62" stroke="#1a14dc" stroke-width="1.1" />
<line x1="307.52" y1="609.25" x2="312.32" y2="609.25" stroke="#1a14dc" stroke-width="1.1" />
<path d="M309.92,609.76 L311.6,612.84 L308.24,612.84 Z" fill="#1a14dc"/>
<line x1="328.35" y1="606.34" x2="328.35" y2="604.88" stroke="#1a14dc" stroke-width="1.1" />
<line x1="325.95" y1="606.34" x2="330.75" y2="606.34" stroke="#1a14dc" stroke-width="1.1" />
<line x1="325.95" y1="604.88" x2="330.75" y2="604.88" stroke="#1a14dc" stroke-width="1.1" />
<path d="M328.35,603.93 L330.03,607.01 L326.67,607.01 Z" fill="#1a14dc"/>
<line x1="346.78" y1="606.34" x2="346.78" y2="604.88" stroke="#1a14dc" stroke-width="1.1" />
<line x1="344.38" y1="606.34" x2="349.18" y2="606.34" stroke="#1a14dc" stroke-width="1.1" />
<line x1="344.38" y1="604.88" x2="349.18" y2="604.88" stroke="#1a14dc" stroke-width="1.1" />
<path d="M346.78,603.93 L348.46,607.01 L345.1,607.01 Z" fill="#1a14dc"/>
<polyline points="254.63,674.41 273.06,674.41 291.49,674.41 309.92,674.41 328.35,674.04 346.78,674.41" fill="none" stroke="#1ec21e" stroke-width="1.8" stroke-linejoin="round" />
<rect x="253.43" y="673.21" width="2.4" height="2.4" fill="#1ec21e"/>
<rect x="271.86" y="673.21" width="2.4" height="2.4" fill="#1ec21e"/>
<rect x="290.29" y="673.21" width="2.4" height="2.4" fill="#1ec21e"/>
<rect x="308.72" y="673.21" width="2.4" height="2.4" fill="#1ec21e"/>
<rect x="327.15" y="672.84" width="2.4" height="2.4" fill="#1ec21e"/>
<rect x="345.58" y="673.21" width="2.4" height="2.4" fill="#1ec21e"/>
<g transform="translate(215.2,639.5) rotate(-90)">
<text x="0" y="3.24" font-size="9" font-weight="bold" text-anchor="middle" textLength="31.1" lengthAdjust="spacingAndGlyphs">% Cells</text>
</g>
<text x="276" y="696.3" font-size="9" font-weight="bold" text-anchor="start" fill="#000" textLength="33.2" lengthAdjust="spacingAndGlyphs" >Time (s)</text>
<text x="421.5" y="587.5" font-size="10" font-weight="bold" text-anchor="start" fill="#000" textLength="59.5" lengthAdjust="spacingAndGlyphs" >Polarization</text>
<line x1="393.7" y1="599.85" x2="393.7" y2="676.3" stroke="#000" stroke-width="1.5" />
<line x1="390.8" y1="676.3" x2="393.7" y2="676.3" stroke="#000" stroke-width="1.4" />
<text x="390.5" y="678.42" font-size="5.9" font-weight="bold" text-anchor="end" fill="#000"  stroke="#000" stroke-width="0.22">0</text>
<line x1="390.8" y1="657" x2="393.7" y2="657" stroke="#000" stroke-width="1.4" />
<text x="390.5" y="659.12" font-size="5.9" font-weight="bold" text-anchor="end" fill="#000"  stroke="#000" stroke-width="0.22">25</text>
<line x1="390.8" y1="637.7" x2="393.7" y2="637.7" stroke="#000" stroke-width="1.4" />
<text x="390.5" y="639.82" font-size="5.9" font-weight="bold" text-anchor="end" fill="#000"  stroke="#000" stroke-width="0.22">50</text>
<line x1="390.8" y1="618.4" x2="393.7" y2="618.4" stroke="#000" stroke-width="1.4" />
<text x="390.5" y="620.52" font-size="5.9" font-weight="bold" text-anchor="end" fill="#000"  stroke="#000" stroke-width="0.22">75</text>
<line x1="390.8" y1="599.1" x2="393.7" y2="599.1" stroke="#000" stroke-width="1.4" />
<text x="390.5" y="601.22" font-size="5.9" font-weight="bold" text-anchor="end" fill="#000"  stroke="#000" stroke-width="0.22">100</text>
<line x1="393.7" y1="676.3" x2="508.2" y2="676.3" stroke="#000" stroke-width="1.5" />
<line x1="394" y1="676.3" x2="394" y2="678.5" stroke="#000" stroke-width="1.4" />
<text x="394" y="684.5" font-size="5.9" font-weight="bold" text-anchor="middle" fill="#000"  stroke="#000" stroke-width="0.22">0</text>
<line x1="413.03" y1="676.3" x2="413.03" y2="678.5" stroke="#000" stroke-width="1.4" />
<text x="413.03" y="684.5" font-size="5.9" font-weight="bold" text-anchor="middle" fill="#000"  stroke="#000" stroke-width="0.22">20</text>
<line x1="432.07" y1="676.3" x2="432.07" y2="678.5" stroke="#000" stroke-width="1.4" />
<text x="432.07" y="684.5" font-size="5.9" font-weight="bold" text-anchor="middle" fill="#000"  stroke="#000" stroke-width="0.22">40</text>
<line x1="451.1" y1="676.3" x2="451.1" y2="678.5" stroke="#000" stroke-width="1.4" />
<text x="451.1" y="684.5" font-size="5.9" font-weight="bold" text-anchor="middle" fill="#000"  stroke="#000" stroke-width="0.22">60</text>
<line x1="470.14" y1="676.3" x2="470.14" y2="678.5" stroke="#000" stroke-width="1.4" />
<text x="470.14" y="684.5" font-size="5.9" font-weight="bold" text-anchor="middle" fill="#000"  stroke="#000" stroke-width="0.22">80</text>
<line x1="489.17" y1="676.3" x2="489.17" y2="678.5" stroke="#000" stroke-width="1.4" />
<text x="489.17" y="684.5" font-size="5.9" font-weight="bold" text-anchor="middle" fill="#000"  stroke="#000" stroke-width="0.22">100</text>
<line x1="508.2" y1="676.3" x2="508.2" y2="678.5" stroke="#000" stroke-width="1.4" />
<text x="508.2" y="684.5" font-size="5.9" font-weight="bold" text-anchor="middle" fill="#000"  stroke="#000" stroke-width="0.22">120</text>
<polyline points="403.52,676.3 403.98,676.31 404.55,676.34 405.23,676.39 405.98,676.44 406.81,676.5 407.68,676.54 408.59,676.57 409.51,676.59 410.43,676.57 411.34,676.52 412.21,676.44 413.03,676.3 413.83,676.12 414.62,675.9 415.41,675.65 416.21,675.37 417,675.06 417.79,674.73 418.59,674.38 419.38,674.01 420.17,673.63 420.96,673.24 421.76,672.84 422.55,672.44 423.34,672.03 424.14,671.61 424.93,671.18 425.72,670.74 426.52,670.28 427.31,669.81 428.1,669.32 428.9,668.82 429.69,668.31 430.48,667.77 431.27,667.22 432.07,666.65 432.86,666.08 433.65,665.51 434.45,664.93 435.24,664.35 436.03,663.75 436.83,663.13 437.62,662.48 438.41,661.79 439.21,661.06 440,660.28 440.79,659.45 441.58,658.54 442.38,657.56 443.17,656.49 443.96,655.35 444.76,654.16 445.55,652.92 446.34,651.65 447.14,650.36 447.93,649.08 448.72,647.8 449.52,646.55 450.31,645.34 451.1,644.18 451.9,643.07 452.69,641.97 453.48,640.89 454.27,639.82 455.07,638.76 455.86,637.71 456.65,636.68 457.45,635.64 458.24,634.61 459.03,633.58 459.83,632.55 460.62,631.52 461.41,630.47 462.21,629.37 463,628.25 463.79,627.12 464.58,625.99 465.38,624.88 466.17,623.8 466.96,622.77 467.76,621.8 468.55,620.91 469.34,620.1 470.14,619.4 470.93,618.83 471.72,618.4 472.52,618.07 473.31,617.82 474.1,617.63 474.89,617.49 475.69,617.36 476.48,617.21 477.27,617.04 478.07,616.81 478.86,616.5 479.65,616.08 480.45,615.56 481.24,614.95 482.03,614.26 482.83,613.52 483.62,612.75 484.41,611.97 485.2,611.19 486,610.44 486.79,609.73 487.58,609.08 488.38,608.52 489.17,608.06 489.96,607.7 490.76,607.43 491.55,607.23 492.34,607.1 493.14,607 493.93,606.94 494.72,606.89 495.51,606.84 496.31,606.78 497.1,606.69 497.89,606.55 498.69,606.36 499.51,606.1 500.38,605.8 501.29,605.47 502.21,605.11 503.13,604.74 504.04,604.36 504.91,603.99 505.74,603.63 506.49,603.3 507.17,603.01 507.74,602.76 508.2,602.57" fill="none" stroke="#000" stroke-width="1.9" stroke-linejoin="round" />
<rect x="402.12" y="674.9" width="2.8" height="2.8" fill="#000"/>
<rect x="411.63" y="674.9" width="2.8" height="2.8" fill="#000"/>
<line x1="422.55" y1="674.37" x2="422.55" y2="670.51" stroke="#000" stroke-width="1.1" />
<line x1="420.15" y1="674.37" x2="424.95" y2="674.37" stroke="#000" stroke-width="1.1" />
<line x1="420.15" y1="670.51" x2="424.95" y2="670.51" stroke="#000" stroke-width="1.1" />
<rect x="421.15" y="671.04" width="2.8" height="2.8" fill="#000"/>
<line x1="432.07" y1="671.28" x2="432.07" y2="662.02" stroke="#000" stroke-width="1.1" />
<line x1="429.67" y1="671.28" x2="434.47" y2="671.28" stroke="#000" stroke-width="1.1" />
<line x1="429.67" y1="662.02" x2="434.47" y2="662.02" stroke="#000" stroke-width="1.1" />
<rect x="430.67" y="665.25" width="2.8" height="2.8" fill="#000"/>
<line x1="441.58" y1="663.95" x2="441.58" y2="653.14" stroke="#000" stroke-width="1.1" />
<line x1="439.19" y1="663.95" x2="443.98" y2="663.95" stroke="#000" stroke-width="1.1" />
<line x1="439.19" y1="653.14" x2="443.98" y2="653.14" stroke="#000" stroke-width="1.1" />
<rect x="440.19" y="657.14" width="2.8" height="2.8" fill="#000"/>
<line x1="451.1" y1="651.9" x2="451.1" y2="636.46" stroke="#000" stroke-width="1.1" />
<line x1="448.7" y1="651.9" x2="453.5" y2="651.9" stroke="#000" stroke-width="1.1" />
<line x1="448.7" y1="636.46" x2="453.5" y2="636.46" stroke="#000" stroke-width="1.1" />
<rect x="449.7" y="642.78" width="2.8" height="2.8" fill="#000"/>
<line x1="460.62" y1="638.86" x2="460.62" y2="624.19" stroke="#000" stroke-width="1.1" />
<line x1="458.22" y1="638.86" x2="463.02" y2="638.86" stroke="#000" stroke-width="1.1" />
<line x1="458.22" y1="624.19" x2="463.02" y2="624.19" stroke="#000" stroke-width="1.1" />
<rect x="459.22" y="630.12" width="2.8" height="2.8" fill="#000"/>
<line x1="470.14" y1="627.12" x2="470.14" y2="611.68" stroke="#000" stroke-width="1.1" />
<line x1="467.74" y1="627.12" x2="472.54" y2="627.12" stroke="#000" stroke-width="1.1" />
<line x1="467.74" y1="611.68" x2="472.54" y2="611.68" stroke="#000" stroke-width="1.1" />
<rect x="468.74" y="618" width="2.8" height="2.8" fill="#000"/>
<line x1="479.65" y1="622.26" x2="479.65" y2="609.91" stroke="#000" stroke-width="1.1" />
<line x1="477.25" y1="622.26" x2="482.05" y2="622.26" stroke="#000" stroke-width="1.1" />
<line x1="477.25" y1="609.91" x2="482.05" y2="609.91" stroke="#000" stroke-width="1.1" />
<rect x="478.25" y="614.68" width="2.8" height="2.8" fill="#000"/>
<line x1="489.17" y1="610.37" x2="489.17" y2="605.74" stroke="#000" stroke-width="1.1" />
<line x1="486.77" y1="610.37" x2="491.57" y2="610.37" stroke="#000" stroke-width="1.1" />
<line x1="486.77" y1="605.74" x2="491.57" y2="605.74" stroke="#000" stroke-width="1.1" />
<rect x="487.77" y="606.66" width="2.8" height="2.8" fill="#000"/>
<line x1="498.69" y1="608.29" x2="498.69" y2="604.43" stroke="#000" stroke-width="1.1" />
<line x1="496.29" y1="608.29" x2="501.09" y2="608.29" stroke="#000" stroke-width="1.1" />
<line x1="496.29" y1="604.43" x2="501.09" y2="604.43" stroke="#000" stroke-width="1.1" />
<rect x="497.29" y="604.96" width="2.8" height="2.8" fill="#000"/>
<line x1="508.2" y1="603.73" x2="508.2" y2="601.42" stroke="#000" stroke-width="1.1" />
<line x1="505.8" y1="603.73" x2="510.6" y2="603.73" stroke="#000" stroke-width="1.1" />
<line x1="505.8" y1="601.42" x2="510.6" y2="601.42" stroke="#000" stroke-width="1.1" />
<rect x="506.8" y="601.17" width="2.8" height="2.8" fill="#000"/>
<polyline points="422.55,676.3 423.01,676.28 423.59,676.27 424.26,676.25 425.02,676.23 425.84,676.21 426.71,676.18 427.62,676.15 428.54,676.11 429.47,676.07 430.37,676.03 431.24,675.97 432.07,675.91 432.86,675.85 433.65,675.8 434.45,675.74 435.24,675.69 436.03,675.62 436.83,675.55 437.62,675.47 438.41,675.37 439.21,675.25 440,675.11 440.79,674.95 441.58,674.76 442.38,674.53 443.17,674.29 443.96,674.02 444.76,673.73 445.55,673.42 446.34,673.09 447.14,672.75 447.93,672.4 448.72,672.03 449.52,671.66 450.31,671.28 451.1,670.9 451.9,670.51 452.69,670.14 453.48,669.76 454.27,669.38 455.07,668.99 455.86,668.58 456.65,668.15 457.45,667.69 458.24,667.2 459.03,666.68 459.83,666.11 460.62,665.49 461.41,664.81 462.21,664.05 463,663.24 463.79,662.38 464.58,661.48 465.38,660.57 466.17,659.65 466.96,658.74 467.76,657.86 468.55,657 469.34,656.2 470.14,655.46 470.93,654.77 471.72,654.12 472.52,653.51 473.31,652.93 474.1,652.36 474.89,651.81 475.69,651.27 476.48,650.74 477.27,650.2 478.07,649.65 478.86,649.09 479.65,648.51 480.45,647.91 481.24,647.3 482.03,646.68 482.83,646.06 483.62,645.44 484.41,644.82 485.2,644.19 486,643.58 486.79,642.96 487.58,642.36 488.38,641.76 489.17,641.17 489.96,640.59 490.76,639.99 491.55,639.38 492.34,638.77 493.14,638.17 493.93,637.58 494.72,637.01 495.51,636.46 496.31,635.94 497.1,635.45 497.89,635.01 498.69,634.61 499.51,634.26 500.38,633.95 501.29,633.68 502.21,633.44 503.13,633.23 504.04,633.04 504.91,632.88 505.74,632.74 506.49,632.61 507.17,632.5 507.74,632.39 508.2,632.3" fill="none" stroke="#1a14dc" stroke-width="1.9" stroke-linejoin="round" />
<rect x="421.15" y="674.9" width="2.8" height="2.8" fill="#1a14dc"/>
<rect x="430.67" y="674.51" width="2.8" height="2.8" fill="#1a14dc"/>
<line x1="441.58" y1="675.53" x2="441.58" y2="673.98" stroke="#1a14dc" stroke-width="1.1" />
<line x1="439.19" y1="675.53" x2="443.98" y2="675.53" stroke="#1a14dc" stroke-width="1.1" />
<line x1="439.19" y1="673.98" x2="443.98" y2="673.98" stroke="#1a14dc" stroke-width="1.1" />
<rect x="440.19" y="673.36" width="2.8" height="2.8" fill="#1a14dc"/>
<line x1="451.1" y1="672.44" x2="451.1" y2="669.35" stroke="#1a14dc" stroke-width="1.1" />
<line x1="448.7" y1="672.44" x2="453.5" y2="672.44" stroke="#1a14dc" stroke-width="1.1" />
<line x1="448.7" y1="669.35" x2="453.5" y2="669.35" stroke="#1a14dc" stroke-width="1.1" />
<rect x="449.7" y="669.5" width="2.8" height="2.8" fill="#1a14dc"/>
<line x1="460.62" y1="670.12" x2="460.62" y2="660.86" stroke="#1a14dc" stroke-width="1.1" />
<line x1="458.22" y1="670.12" x2="463.02" y2="670.12" stroke="#1a14dc" stroke-width="1.1" />
<line x1="458.22" y1="660.86" x2="463.02" y2="660.86" stroke="#1a14dc" stroke-width="1.1" />
<rect x="459.22" y="664.09" width="2.8" height="2.8" fill="#1a14dc"/>
<line x1="470.14" y1="662.4" x2="470.14" y2="648.51" stroke="#1a14dc" stroke-width="1.1" />
<line x1="467.74" y1="662.4" x2="472.54" y2="662.4" stroke="#1a14dc" stroke-width="1.1" />
<line x1="467.74" y1="648.51" x2="472.54" y2="648.51" stroke="#1a14dc" stroke-width="1.1" />
<rect x="468.74" y="654.06" width="2.8" height="2.8" fill="#1a14dc"/>
<line x1="479.65" y1="658.93" x2="479.65" y2="638.09" stroke="#1a14dc" stroke-width="1.1" />
<line x1="477.25" y1="658.93" x2="482.05" y2="658.93" stroke="#1a14dc" stroke-width="1.1" />
<line x1="477.25" y1="638.09" x2="482.05" y2="638.09" stroke="#1a14dc" stroke-width="1.1" />
<rect x="478.25" y="647.11" width="2.8" height="2.8" fill="#1a14dc"/>
<line x1="489.17" y1="654.3" x2="489.17" y2="628.05" stroke="#1a14dc" stroke-width="1.1" />
<line x1="486.77" y1="654.3" x2="491.57" y2="654.3" stroke="#1a14dc" stroke-width="1.1" />
<line x1="486.77" y1="628.05" x2="491.57" y2="628.05" stroke="#1a14dc" stroke-width="1.1" />
<rect x="487.77" y="639.77" width="2.8" height="2.8" fill="#1a14dc"/>
<line x1="498.69" y1="649.28" x2="498.69" y2="619.94" stroke="#1a14dc" stroke-width="1.1" />
<line x1="496.29" y1="649.28" x2="501.09" y2="649.28" stroke="#1a14dc" stroke-width="1.1" />
<line x1="496.29" y1="619.94" x2="501.09" y2="619.94" stroke="#1a14dc" stroke-width="1.1" />
<rect x="497.29" y="633.21" width="2.8" height="2.8" fill="#1a14dc"/>
<line x1="508.2" y1="647.5" x2="508.2" y2="617.09" stroke="#1a14dc" stroke-width="1.1" />
<line x1="505.8" y1="647.5" x2="510.6" y2="647.5" stroke="#1a14dc" stroke-width="1.1" />
<line x1="505.8" y1="617.09" x2="510.6" y2="617.09" stroke="#1a14dc" stroke-width="1.1" />
<rect x="506.8" y="630.9" width="2.8" height="2.8" fill="#1a14dc"/>
<polyline points="403.52,676.3 413.03,676.3 422.55,676.3 432.07,676.3 441.58,676.3 451.1,676.3 460.62,676.3 470.14,676.3 479.65,676.3 489.17,676.3 498.69,676.3 508.2,676.3" fill="none" stroke="#1ec21e" stroke-width="1.8" stroke-linejoin="round" />
<rect x="402.22" y="675" width="2.6" height="2.6" fill="#1ec21e"/>
<rect x="411.73" y="675" width="2.6" height="2.6" fill="#1ec21e"/>
<rect x="421.25" y="675" width="2.6" height="2.6" fill="#1ec21e"/>
<rect x="430.77" y="675" width="2.6" height="2.6" fill="#1ec21e"/>
<rect x="440.28" y="675" width="2.6" height="2.6" fill="#1ec21e"/>
<rect x="449.8" y="675" width="2.6" height="2.6" fill="#1ec21e"/>
<rect x="459.32" y="675" width="2.6" height="2.6" fill="#1ec21e"/>
<rect x="468.84" y="675" width="2.6" height="2.6" fill="#1ec21e"/>
<rect x="478.35" y="675" width="2.6" height="2.6" fill="#1ec21e"/>
<rect x="487.87" y="675" width="2.6" height="2.6" fill="#1ec21e"/>
<rect x="497.39" y="675" width="2.6" height="2.6" fill="#1ec21e"/>
<rect x="506.9" y="675" width="2.6" height="2.6" fill="#1ec21e"/>
<g transform="translate(372.4,637.8) rotate(-90)">
<text x="0" y="3.42" font-size="9.5" font-weight="bold" text-anchor="middle" textLength="32.7" lengthAdjust="spacingAndGlyphs">%Cells</text>
</g>
<text x="436.5" y="696.9" font-size="8.8" font-weight="bold" text-anchor="start" fill="#000" textLength="30" lengthAdjust="spacingAndGlyphs" >Time (s)</text>
</svg></body></html>
